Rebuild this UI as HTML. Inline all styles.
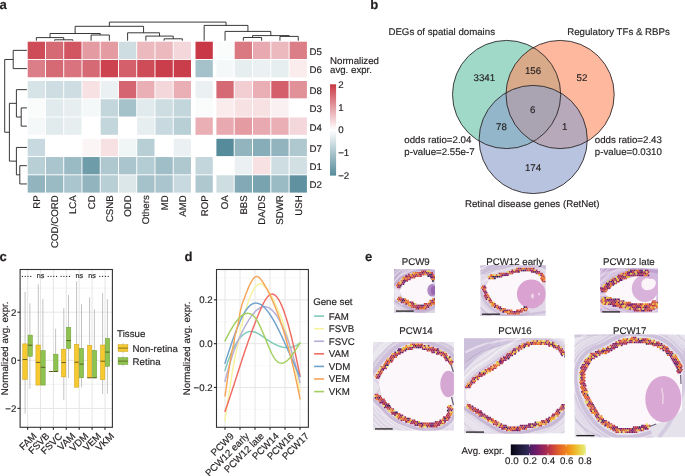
<!DOCTYPE html>
<html><head><meta charset="utf-8"><title>Figure</title>
<style>
html,body{margin:0;padding:0;background:#fff;}
body{width:685px;height:476px;overflow:hidden;}
svg{display:block;font-family:"Liberation Sans", sans-serif;will-change:transform;text-rendering:geometricPrecision;}
text{stroke:#231f20;stroke-width:0.16px;}
</style></head><body>
<svg width="685" height="476" viewBox="0 0 685 476">
<rect width="685" height="476" fill="#fff"/>
<text x="-0.6" y="9.2" font-size="13.1" text-anchor="start" font-weight="bold" fill="#231f20" >a</text>
<rect x="27.7" y="41.7" width="17.3" height="17.3" fill="#ce4c58"/>
<rect x="45.95" y="41.7" width="17.3" height="17.3" fill="#d66a74"/>
<rect x="64.2" y="41.7" width="17.3" height="17.3" fill="#d15662"/>
<rect x="82.45" y="41.7" width="17.3" height="17.3" fill="#e49ca2"/>
<rect x="100.7" y="41.7" width="17.3" height="17.3" fill="#e49ca2"/>
<rect x="118.95" y="41.7" width="17.3" height="17.3" fill="#cddde2"/>
<rect x="137.2" y="41.7" width="17.3" height="17.3" fill="#ecb9be"/>
<rect x="155.45" y="41.7" width="17.3" height="17.3" fill="#ecb9be"/>
<rect x="173.7" y="41.7" width="17.3" height="17.3" fill="#f4d7da"/>
<rect x="195.5" y="41.7" width="17.3" height="17.3" fill="#c93846"/>
<rect x="216.4" y="41.7" width="17.3" height="17.3" fill="#fafcfc"/>
<rect x="234.7" y="41.7" width="17.3" height="17.3" fill="#db7982"/>
<rect x="253" y="41.7" width="17.3" height="17.3" fill="#e8aab0"/>
<rect x="271.3" y="41.7" width="17.3" height="17.3" fill="#ecb9be"/>
<rect x="289.6" y="41.7" width="17.3" height="17.3" fill="#dc7e87"/>
<rect x="27.7" y="59.95" width="17.3" height="17.3" fill="#dc7e87"/>
<rect x="45.95" y="59.95" width="17.3" height="17.3" fill="#d66a74"/>
<rect x="64.2" y="59.95" width="17.3" height="17.3" fill="#d9747e"/>
<rect x="82.45" y="59.95" width="17.3" height="17.3" fill="#d66a74"/>
<rect x="100.7" y="59.95" width="17.3" height="17.3" fill="#cc424f"/>
<rect x="118.95" y="59.95" width="17.3" height="17.3" fill="#d4606b"/>
<rect x="137.2" y="59.95" width="17.3" height="17.3" fill="#ce4c58"/>
<rect x="155.45" y="59.95" width="17.3" height="17.3" fill="#ca3d4b"/>
<rect x="173.7" y="59.95" width="17.3" height="17.3" fill="#ca3d4b"/>
<rect x="195.5" y="59.95" width="17.3" height="17.3" fill="#a5c1ca"/>
<rect x="216.4" y="59.95" width="17.3" height="17.3" fill="#f5f8f9"/>
<rect x="234.7" y="59.95" width="17.3" height="17.3" fill="#e6eef0"/>
<rect x="253" y="59.95" width="17.3" height="17.3" fill="#ebf1f3"/>
<rect x="271.3" y="59.95" width="17.3" height="17.3" fill="#e6eef0"/>
<rect x="289.6" y="59.95" width="17.3" height="17.3" fill="#faebec"/>
<rect x="27.7" y="81" width="17.3" height="17.3" fill="#d7e4e7"/>
<rect x="45.95" y="81" width="17.3" height="17.3" fill="#cddde2"/>
<rect x="64.2" y="81" width="17.3" height="17.3" fill="#cddde2"/>
<rect x="82.45" y="81" width="17.3" height="17.3" fill="#f7e1e3"/>
<rect x="100.7" y="81" width="17.3" height="17.3" fill="#ebf1f3"/>
<rect x="118.95" y="81" width="17.3" height="17.3" fill="#d56570"/>
<rect x="137.2" y="81" width="17.3" height="17.3" fill="#e9afb5"/>
<rect x="155.45" y="81" width="17.3" height="17.3" fill="#f4d7da"/>
<rect x="173.7" y="81" width="17.3" height="17.3" fill="#e9afb5"/>
<rect x="195.5" y="81" width="17.3" height="17.3" fill="#ebf1f3"/>
<rect x="216.4" y="81" width="17.3" height="17.3" fill="#d66a74"/>
<rect x="234.7" y="81" width="17.3" height="17.3" fill="#f2cdd1"/>
<rect x="253" y="81" width="17.3" height="17.3" fill="#e9afb5"/>
<rect x="271.3" y="81" width="17.3" height="17.3" fill="#d4606b"/>
<rect x="289.6" y="81" width="17.3" height="17.3" fill="#e19299"/>
<rect x="27.7" y="99.25" width="17.3" height="17.3" fill="#fafcfc"/>
<rect x="45.95" y="99.25" width="17.3" height="17.3" fill="#e1eaed"/>
<rect x="64.2" y="99.25" width="17.3" height="17.3" fill="#e6eef0"/>
<rect x="82.45" y="99.25" width="17.3" height="17.3" fill="#f5f8f9"/>
<rect x="100.7" y="99.25" width="17.3" height="17.3" fill="#c3d6dc"/>
<rect x="118.95" y="99.25" width="17.3" height="17.3" fill="#a5c1ca"/>
<rect x="137.2" y="99.25" width="17.3" height="17.3" fill="#e1eaed"/>
<rect x="155.45" y="99.25" width="17.3" height="17.3" fill="#cddde2"/>
<rect x="173.7" y="99.25" width="17.3" height="17.3" fill="#c3d6dc"/>
<rect x="195.5" y="99.25" width="17.3" height="17.3" fill="#fafcfc"/>
<rect x="216.4" y="99.25" width="17.3" height="17.3" fill="#faebec"/>
<rect x="234.7" y="99.25" width="17.3" height="17.3" fill="#f7e1e3"/>
<rect x="253" y="99.25" width="17.3" height="17.3" fill="#f7e1e3"/>
<rect x="271.3" y="99.25" width="17.3" height="17.3" fill="#fbf0f1"/>
<rect x="289.6" y="99.25" width="17.3" height="17.3" fill="#ffffff"/>
<rect x="27.7" y="117.5" width="17.3" height="17.3" fill="#f5f8f9"/>
<rect x="45.95" y="117.5" width="17.3" height="17.3" fill="#e1eaed"/>
<rect x="64.2" y="117.5" width="17.3" height="17.3" fill="#e6eef0"/>
<rect x="82.45" y="117.5" width="17.3" height="17.3" fill="#ffffff"/>
<rect x="100.7" y="117.5" width="17.3" height="17.3" fill="#c3d6dc"/>
<rect x="118.95" y="117.5" width="17.3" height="17.3" fill="#ffffff"/>
<rect x="137.2" y="117.5" width="17.3" height="17.3" fill="#e6eef0"/>
<rect x="155.45" y="117.5" width="17.3" height="17.3" fill="#c8d9df"/>
<rect x="173.7" y="117.5" width="17.3" height="17.3" fill="#b9cfd6"/>
<rect x="195.5" y="117.5" width="17.3" height="17.3" fill="#e9afb5"/>
<rect x="216.4" y="117.5" width="17.3" height="17.3" fill="#e8aab0"/>
<rect x="234.7" y="117.5" width="17.3" height="17.3" fill="#e49ca2"/>
<rect x="253" y="117.5" width="17.3" height="17.3" fill="#e8aab0"/>
<rect x="271.3" y="117.5" width="17.3" height="17.3" fill="#e9afb5"/>
<rect x="289.6" y="117.5" width="17.3" height="17.3" fill="#f4d7da"/>
<rect x="27.7" y="138.8" width="17.3" height="17.3" fill="#c8d9df"/>
<rect x="45.95" y="138.8" width="17.3" height="17.3" fill="#ffffff"/>
<rect x="64.2" y="138.8" width="17.3" height="17.3" fill="#ffffff"/>
<rect x="82.45" y="138.8" width="17.3" height="17.3" fill="#fcf5f6"/>
<rect x="100.7" y="138.8" width="17.3" height="17.3" fill="#f7e1e3"/>
<rect x="118.95" y="138.8" width="17.3" height="17.3" fill="#f0f5f6"/>
<rect x="137.2" y="138.8" width="17.3" height="17.3" fill="#b9cfd6"/>
<rect x="155.45" y="138.8" width="17.3" height="17.3" fill="#ffffff"/>
<rect x="173.7" y="138.8" width="17.3" height="17.3" fill="#ebf1f3"/>
<rect x="195.5" y="138.8" width="17.3" height="17.3" fill="#ffffff"/>
<rect x="216.4" y="138.8" width="17.3" height="17.3" fill="#568b9b"/>
<rect x="234.7" y="138.8" width="17.3" height="17.3" fill="#91b4be"/>
<rect x="253" y="138.8" width="17.3" height="17.3" fill="#87adb8"/>
<rect x="271.3" y="138.8" width="17.3" height="17.3" fill="#91b4be"/>
<rect x="289.6" y="138.8" width="17.3" height="17.3" fill="#afc8d0"/>
<rect x="27.7" y="157.05" width="17.3" height="17.3" fill="#b9cfd6"/>
<rect x="45.95" y="157.05" width="17.3" height="17.3" fill="#aac5cd"/>
<rect x="64.2" y="157.05" width="17.3" height="17.3" fill="#9bbbc4"/>
<rect x="82.45" y="157.05" width="17.3" height="17.3" fill="#6e9ca9"/>
<rect x="100.7" y="157.05" width="17.3" height="17.3" fill="#afc8d0"/>
<rect x="118.95" y="157.05" width="17.3" height="17.3" fill="#aac5cd"/>
<rect x="137.2" y="157.05" width="17.3" height="17.3" fill="#b4ccd3"/>
<rect x="155.45" y="157.05" width="17.3" height="17.3" fill="#a0bec7"/>
<rect x="173.7" y="157.05" width="17.3" height="17.3" fill="#afc8d0"/>
<rect x="195.5" y="157.05" width="17.3" height="17.3" fill="#c3d6dc"/>
<rect x="216.4" y="157.05" width="17.3" height="17.3" fill="#ffffff"/>
<rect x="234.7" y="157.05" width="17.3" height="17.3" fill="#ebf1f3"/>
<rect x="253" y="157.05" width="17.3" height="17.3" fill="#f7e1e3"/>
<rect x="271.3" y="157.05" width="17.3" height="17.3" fill="#cddde2"/>
<rect x="289.6" y="157.05" width="17.3" height="17.3" fill="#d2e0e4"/>
<rect x="27.7" y="175.3" width="17.3" height="17.3" fill="#91b4be"/>
<rect x="45.95" y="175.3" width="17.3" height="17.3" fill="#9bbbc4"/>
<rect x="64.2" y="175.3" width="17.3" height="17.3" fill="#aac5cd"/>
<rect x="82.45" y="175.3" width="17.3" height="17.3" fill="#91b4be"/>
<rect x="100.7" y="175.3" width="17.3" height="17.3" fill="#b9cfd6"/>
<rect x="118.95" y="175.3" width="17.3" height="17.3" fill="#dce7ea"/>
<rect x="137.2" y="175.3" width="17.3" height="17.3" fill="#a5c1ca"/>
<rect x="155.45" y="175.3" width="17.3" height="17.3" fill="#aac5cd"/>
<rect x="173.7" y="175.3" width="17.3" height="17.3" fill="#c8d9df"/>
<rect x="195.5" y="175.3" width="17.3" height="17.3" fill="#afc8d0"/>
<rect x="216.4" y="175.3" width="17.3" height="17.3" fill="#cddde2"/>
<rect x="234.7" y="175.3" width="17.3" height="17.3" fill="#82a9b5"/>
<rect x="253" y="175.3" width="17.3" height="17.3" fill="#78a3af"/>
<rect x="271.3" y="175.3" width="17.3" height="17.3" fill="#9bbbc4"/>
<rect x="289.6" y="175.3" width="17.3" height="17.3" fill="#5f91a1"/>
<text x="309.4" y="54.75" font-size="9.7" text-anchor="start" font-weight="normal" fill="#231f20" >D5</text>
<text x="309.4" y="73" font-size="9.7" text-anchor="start" font-weight="normal" fill="#231f20" >D6</text>
<text x="309.4" y="94.05" font-size="9.7" text-anchor="start" font-weight="normal" fill="#231f20" >D8</text>
<text x="309.4" y="112.3" font-size="9.7" text-anchor="start" font-weight="normal" fill="#231f20" >D3</text>
<text x="309.4" y="130.55" font-size="9.7" text-anchor="start" font-weight="normal" fill="#231f20" >D4</text>
<text x="309.4" y="151.85" font-size="9.7" text-anchor="start" font-weight="normal" fill="#231f20" >D7</text>
<text x="309.4" y="170.1" font-size="9.7" text-anchor="start" font-weight="normal" fill="#231f20" >D1</text>
<text x="309.4" y="188.35" font-size="9.7" text-anchor="start" font-weight="normal" fill="#231f20" >D2</text>
<text transform="translate(39.75,195.2) rotate(-90)" x="0" y="0" font-size="9.7" text-anchor="end" fill="#231f20">RP</text>
<text transform="translate(58,195.2) rotate(-90)" x="0" y="0" font-size="9.7" text-anchor="end" fill="#231f20">COD/CORD</text>
<text transform="translate(76.25,195.2) rotate(-90)" x="0" y="0" font-size="9.7" text-anchor="end" fill="#231f20">LCA</text>
<text transform="translate(94.5,195.2) rotate(-90)" x="0" y="0" font-size="9.7" text-anchor="end" fill="#231f20">CD</text>
<text transform="translate(112.75,195.2) rotate(-90)" x="0" y="0" font-size="9.7" text-anchor="end" fill="#231f20">CSNB</text>
<text transform="translate(131,195.2) rotate(-90)" x="0" y="0" font-size="9.7" text-anchor="end" fill="#231f20">ODD</text>
<text transform="translate(149.25,195.2) rotate(-90)" x="0" y="0" font-size="9.7" text-anchor="end" fill="#231f20">Others</text>
<text transform="translate(167.5,195.2) rotate(-90)" x="0" y="0" font-size="9.7" text-anchor="end" fill="#231f20">MD</text>
<text transform="translate(185.75,195.2) rotate(-90)" x="0" y="0" font-size="9.7" text-anchor="end" fill="#231f20">AMD</text>
<text transform="translate(207.55,195.2) rotate(-90)" x="0" y="0" font-size="9.7" text-anchor="end" fill="#231f20">ROP</text>
<text transform="translate(228.45,195.2) rotate(-90)" x="0" y="0" font-size="9.7" text-anchor="end" fill="#231f20">OA</text>
<text transform="translate(246.75,195.2) rotate(-90)" x="0" y="0" font-size="9.7" text-anchor="end" fill="#231f20">BBS</text>
<text transform="translate(265.05,195.2) rotate(-90)" x="0" y="0" font-size="9.7" text-anchor="end" fill="#231f20">DA/DS</text>
<text transform="translate(283.35,195.2) rotate(-90)" x="0" y="0" font-size="9.7" text-anchor="end" fill="#231f20">SDWR</text>
<text transform="translate(301.65,195.2) rotate(-90)" x="0" y="0" font-size="9.7" text-anchor="end" fill="#231f20">USH</text>
<path d="M54.6 40.7V39.8H72.85V40.7 M36.35 40.7V37.6H63.73V39.8 M91.1 40.7V35H109.35V40.7 M50.04 37.6V33.5H100.23V35 M164.1 40.7V38.8H182.35V40.7 M145.85 40.7V36.1H173.22V38.8 M127.6 40.7V32.8H159.54V36.1 M75.13 33.5V26.3H143.57V32.8 M243.35 40.7V37.5H261.65V40.7 M279.95 40.7V36.4H298.25V40.7 M252.5 37.5V35.6H289.1V36.4 M225.05 40.7V31.4H270.8V35.6 M204.15 40.7V25.4H247.93V31.4 M109.35 26.3V22.1H226.04V25.4 M26.9 50.35H13.2V68.6H26.9 M26.9 107.9H21.2V126.15H26.9 M26.9 89.65H16.4V117.03H21.2 M26.9 165.7H19.8V183.95H26.9 M26.9 147.45H16.4V174.83H19.8 M16.4 103.34H9.4V161.14H16.4 M13.2 59.48H4.7V132.24H9.4" fill="none" stroke="#222" stroke-width="0.9"/>
<text x="330" y="64.2" font-size="9.7" text-anchor="start" font-weight="normal" fill="#231f20" >Normalized</text>
<text x="330" y="72.9" font-size="9.7" text-anchor="start" font-weight="normal" fill="#231f20" >avg. expr.</text>
<defs><linearGradient id="hmcb" x1="0" y1="0" x2="0" y2="1"><stop offset="0.000" stop-color="#c93846"/><stop offset="0.050" stop-color="#ce4c58"/><stop offset="0.100" stop-color="#d4606b"/><stop offset="0.150" stop-color="#d9747e"/><stop offset="0.200" stop-color="#df8890"/><stop offset="0.250" stop-color="#e49ca2"/><stop offset="0.300" stop-color="#e9afb5"/><stop offset="0.350" stop-color="#efc3c8"/><stop offset="0.400" stop-color="#f4d7da"/><stop offset="0.450" stop-color="#faebec"/><stop offset="0.500" stop-color="#ffffff"/><stop offset="0.550" stop-color="#eef3f5"/><stop offset="0.600" stop-color="#dde8eb"/><stop offset="0.650" stop-color="#ccdce1"/><stop offset="0.700" stop-color="#bbd1d7"/><stop offset="0.750" stop-color="#aac5cd"/><stop offset="0.800" stop-color="#9ab9c3"/><stop offset="0.850" stop-color="#89aeb9"/><stop offset="0.900" stop-color="#78a2af"/><stop offset="0.950" stop-color="#6797a5"/><stop offset="1.000" stop-color="#568b9b"/></linearGradient></defs>
<rect x="330" y="84.3" width="6.1" height="91.3" fill="url(#hmcb)"/>
<text x="338.2" y="87.74" font-size="9.7" text-anchor="start" font-weight="normal" fill="#231f20" >2</text>
<text x="338.2" y="110.57" font-size="9.7" text-anchor="start" font-weight="normal" fill="#231f20" >1</text>
<text x="338.2" y="133.4" font-size="9.7" text-anchor="start" font-weight="normal" fill="#231f20" >0</text>
<text x="338.2" y="156.23" font-size="9.7" text-anchor="start" font-weight="normal" fill="#231f20" >−1</text>
<text x="338.2" y="179.06" font-size="9.7" text-anchor="start" font-weight="normal" fill="#231f20" >−2</text>
<text x="370.2" y="9" font-size="13.1" text-anchor="start" font-weight="bold" fill="#231f20" >b</text>
<text x="388.4" y="35.2" font-size="9.7" text-anchor="start" font-weight="normal" fill="#231f20" >DEGs of spatial domains</text>
<text x="567.2" y="35.2" font-size="9.7" text-anchor="start" font-weight="normal" fill="#231f20" >Regulatory TFs &amp; RBPs</text>
<g opacity="1">
<circle cx="506.6" cy="94.5" r="54.1" fill="#66c2a5" fill-opacity="0.62"/>
<circle cx="560.1" cy="94.5" r="54.1" fill="#fc8d62" fill-opacity="0.62"/>
<circle cx="533.2" cy="139.5" r="54.1" fill="#8da0cb" fill-opacity="0.62"/>
</g>
<circle cx="506.6" cy="94.5" r="54.1" fill="none" stroke="#231f20" stroke-width="0.85"/>
<circle cx="560.1" cy="94.5" r="54.1" fill="none" stroke="#231f20" stroke-width="0.85"/>
<circle cx="533.2" cy="139.5" r="54.1" fill="none" stroke="#231f20" stroke-width="0.85"/>
<text x="484.3" y="81.3" font-size="9.7" text-anchor="middle" font-weight="normal" fill="#231f20" >3341</text>
<text x="533" y="73.9" font-size="9.7" text-anchor="middle" font-weight="normal" fill="#231f20" >156</text>
<text x="582" y="81.3" font-size="9.7" text-anchor="middle" font-weight="normal" fill="#231f20" >52</text>
<text x="532.6" y="112.7" font-size="9.7" text-anchor="middle" font-weight="normal" fill="#231f20" >6</text>
<text x="501.4" y="129.8" font-size="9.7" text-anchor="middle" font-weight="normal" fill="#231f20" >78</text>
<text x="564.8" y="129.8" font-size="9.7" text-anchor="middle" font-weight="normal" fill="#231f20" >1</text>
<text x="533" y="170.7" font-size="9.7" text-anchor="middle" font-weight="normal" fill="#231f20" >174</text>
<text x="404.3" y="143.1" font-size="9.7" text-anchor="start" font-weight="normal" fill="#231f20" >odds ratio=2.04</text>
<text x="404.3" y="154.6" font-size="9.7" text-anchor="start" font-weight="normal" fill="#231f20" >p-value=2.55e-7</text>
<text x="594.8" y="143.1" font-size="9.7" text-anchor="start" font-weight="normal" fill="#231f20" >odds ratio=2.43</text>
<text x="594.8" y="154.6" font-size="9.7" text-anchor="start" font-weight="normal" fill="#231f20" >p-value=0.0310</text>
<text x="464.9" y="206.7" font-size="9.7" text-anchor="start" font-weight="normal" fill="#231f20" >Retinal disease genes (RetNet)</text>
<text x="-0.6" y="261.2" font-size="13.1" text-anchor="start" font-weight="bold" fill="#231f20" >c</text>
<line x1="20.1" x2="112.4" y1="384.35" y2="384.35" stroke="#ebebeb" stroke-width="0.6"/><line x1="20.1" x2="112.4" y1="336.25" y2="336.25" stroke="#ebebeb" stroke-width="0.6"/><line x1="20.1" x2="112.4" y1="288.15" y2="288.15" stroke="#ebebeb" stroke-width="0.6"/><line x1="20.1" x2="112.4" y1="408.4" y2="408.4" stroke="#e6e6e6" stroke-width="1"/><line x1="20.1" x2="112.4" y1="360.3" y2="360.3" stroke="#e6e6e6" stroke-width="1"/><line x1="20.1" x2="112.4" y1="312.2" y2="312.2" stroke="#e6e6e6" stroke-width="1"/><line x1="27.6" x2="27.6" y1="269.5" y2="427.3" stroke="#e6e6e6" stroke-width="1"/><line x1="40.5" x2="40.5" y1="269.5" y2="427.3" stroke="#e6e6e6" stroke-width="1"/><line x1="53.4" x2="53.4" y1="269.5" y2="427.3" stroke="#e6e6e6" stroke-width="1"/><line x1="66.3" x2="66.3" y1="269.5" y2="427.3" stroke="#e6e6e6" stroke-width="1"/><line x1="79.2" x2="79.2" y1="269.5" y2="427.3" stroke="#e6e6e6" stroke-width="1"/><line x1="92.1" x2="92.1" y1="269.5" y2="427.3" stroke="#e6e6e6" stroke-width="1"/><line x1="105" x2="105" y1="269.5" y2="427.3" stroke="#e6e6e6" stroke-width="1"/>
<line x1="25.1" x2="25.1" y1="292.0" y2="413.7" stroke="#9a9a9a" stroke-width="0.6"/>
<line x1="29.9" x2="29.9" y1="303.3" y2="388.8" stroke="#9a9a9a" stroke-width="0.6"/>
<line x1="38.3" x2="38.3" y1="284.4" y2="385.1" stroke="#9a9a9a" stroke-width="0.6"/>
<line x1="42.9" x2="42.9" y1="299.1" y2="385.1" stroke="#9a9a9a" stroke-width="0.6"/>
<line x1="55.6" x2="55.6" y1="328.8" y2="371.5" stroke="#9a9a9a" stroke-width="0.6"/>
<line x1="63.8" x2="63.8" y1="308.0" y2="400.2" stroke="#9a9a9a" stroke-width="0.6"/>
<line x1="68.5" x2="68.5" y1="295.0" y2="378.0" stroke="#9a9a9a" stroke-width="0.6"/>
<line x1="76.6" x2="76.6" y1="281.2" y2="387.2" stroke="#9a9a9a" stroke-width="0.6"/>
<line x1="81.5" x2="81.5" y1="304.3" y2="387.3" stroke="#9a9a9a" stroke-width="0.6"/>
<line x1="89.6" x2="89.6" y1="297.3" y2="377.8" stroke="#9a9a9a" stroke-width="0.6"/>
<line x1="94.4" x2="94.4" y1="309.2" y2="377.8" stroke="#9a9a9a" stroke-width="0.6"/>
<line x1="102.6" x2="102.6" y1="293.1" y2="394.0" stroke="#9a9a9a" stroke-width="0.6"/>
<line x1="107.4" x2="107.4" y1="299.1" y2="393.7" stroke="#9a9a9a" stroke-width="0.6"/>
<rect x="22.7" y="343.9" width="4.6" height="35.5" fill="#f5c92f" stroke="#c9a21c" stroke-width="0.5"/>
<line x1="22.7" x2="27.3" y1="359.5" y2="359.5" stroke="#55501e" stroke-width="0.9"/>
<rect x="28.0" y="335.1" width="4.4" height="21.2" fill="#8fc34f" stroke="#6b9a36" stroke-width="0.5"/>
<line x1="28.0" x2="32.4" y1="345.2" y2="345.2" stroke="#55501e" stroke-width="0.9"/>
<rect x="35.9" y="345.0" width="4.5" height="40.1" fill="#f5c92f" stroke="#c9a21c" stroke-width="0.5"/>
<line x1="35.9" x2="40.4" y1="362.4" y2="362.4" stroke="#55501e" stroke-width="0.9"/>
<rect x="40.8" y="350.6" width="4.4" height="34.5" fill="#8fc34f" stroke="#6b9a36" stroke-width="0.5"/>
<line x1="40.8" x2="45.2" y1="367.3" y2="367.3" stroke="#55501e" stroke-width="0.9"/>
<rect x="49.0" y="371.3" width="4.2" height="0.4" fill="#f5c92f" stroke="#c9a21c" stroke-width="0.5"/>
<line x1="49.0" x2="53.2" y1="371.5" y2="371.5" stroke="#55501e" stroke-width="0.9"/>
<rect x="53.6" y="354.2" width="4.4" height="17.3" fill="#8fc34f" stroke="#6b9a36" stroke-width="0.5"/>
<line x1="53.6" x2="58.0" y1="371.5" y2="371.5" stroke="#55501e" stroke-width="0.9"/>
<rect x="61.4" y="349.2" width="4.4" height="27.7" fill="#f5c92f" stroke="#c9a21c" stroke-width="0.5"/>
<line x1="61.4" x2="65.8" y1="362.6" y2="362.6" stroke="#55501e" stroke-width="0.9"/>
<rect x="66.4" y="327.3" width="4.4" height="21" fill="#8fc34f" stroke="#6b9a36" stroke-width="0.5"/>
<line x1="66.4" x2="70.8" y1="340.6" y2="340.6" stroke="#55501e" stroke-width="0.9"/>
<rect x="74.4" y="344.3" width="4.4" height="42.9" fill="#f5c92f" stroke="#c9a21c" stroke-width="0.5"/>
<line x1="74.4" x2="78.8" y1="362.2" y2="362.2" stroke="#55501e" stroke-width="0.9"/>
<rect x="79.4" y="348.3" width="4.2" height="29.5" fill="#8fc34f" stroke="#6b9a36" stroke-width="0.5"/>
<line x1="79.4" x2="83.6" y1="364.1" y2="364.1" stroke="#55501e" stroke-width="0.9"/>
<rect x="87.4" y="345.4" width="4.4" height="32.4" fill="#f5c92f" stroke="#c9a21c" stroke-width="0.5"/>
<line x1="87.4" x2="91.8" y1="377.8" y2="377.8" stroke="#55501e" stroke-width="0.9"/>
<rect x="92.5" y="350.4" width="4.2" height="27.4" fill="#8fc34f" stroke="#6b9a36" stroke-width="0.5"/>
<line x1="92.5" x2="96.7" y1="377.8" y2="377.8" stroke="#55501e" stroke-width="0.9"/>
<rect x="100.5" y="345.0" width="4.4" height="34.7" fill="#f5c92f" stroke="#c9a21c" stroke-width="0.5"/>
<line x1="100.5" x2="104.9" y1="361.2" y2="361.2" stroke="#55501e" stroke-width="0.9"/>
<rect x="105.3" y="338.5" width="4.4" height="27.9" fill="#8fc34f" stroke="#6b9a36" stroke-width="0.5"/>
<line x1="105.3" x2="109.7" y1="352.1" y2="352.1" stroke="#55501e" stroke-width="0.9"/>
<rect x="20.1" y="269.5" width="92.3" height="157.8" fill="none" stroke="#333" stroke-width="1.1"/>
<line x1="17.5" x2="20.1" y1="312.2" y2="312.2" stroke="#333" stroke-width="1.2"/>
<text x="16.3" y="315.65" font-size="9.7" text-anchor="end" font-weight="normal" fill="#231f20" >2</text>
<line x1="17.5" x2="20.1" y1="360.3" y2="360.3" stroke="#333" stroke-width="1.2"/>
<text x="16.3" y="363.75" font-size="9.7" text-anchor="end" font-weight="normal" fill="#231f20" >0</text>
<line x1="17.5" x2="20.1" y1="408.4" y2="408.4" stroke="#333" stroke-width="1.2"/>
<text x="16.3" y="411.85" font-size="9.7" text-anchor="end" font-weight="normal" fill="#231f20" >−2</text>
<line x1="27.6" x2="27.6" y1="427.3" y2="429.7" stroke="#333" stroke-width="1.2"/>
<line x1="40.5" x2="40.5" y1="427.3" y2="429.7" stroke="#333" stroke-width="1.2"/>
<line x1="53.4" x2="53.4" y1="427.3" y2="429.7" stroke="#333" stroke-width="1.2"/>
<line x1="66.3" x2="66.3" y1="427.3" y2="429.7" stroke="#333" stroke-width="1.2"/>
<line x1="79.2" x2="79.2" y1="427.3" y2="429.7" stroke="#333" stroke-width="1.2"/>
<line x1="92.1" x2="92.1" y1="427.3" y2="429.7" stroke="#333" stroke-width="1.2"/>
<line x1="105" x2="105" y1="427.3" y2="429.7" stroke="#333" stroke-width="1.2"/>
<text transform="translate(32.3,431.8) rotate(-45)" font-size="9.7" text-anchor="end" fill="#231f20" dy="0.72em">FAM</text>
<text transform="translate(45.2,431.8) rotate(-45)" font-size="9.7" text-anchor="end" fill="#231f20" dy="0.72em">FSVB</text>
<text transform="translate(58.1,431.8) rotate(-45)" font-size="9.7" text-anchor="end" fill="#231f20" dy="0.72em">FSVC</text>
<text transform="translate(71,431.8) rotate(-45)" font-size="9.7" text-anchor="end" fill="#231f20" dy="0.72em">VAM</text>
<text transform="translate(83.9,431.8) rotate(-45)" font-size="9.7" text-anchor="end" fill="#231f20" dy="0.72em">VDM</text>
<text transform="translate(96.8,431.8) rotate(-45)" font-size="9.7" text-anchor="end" fill="#231f20" dy="0.72em">VEM</text>
<text transform="translate(109.7,431.8) rotate(-45)" font-size="9.7" text-anchor="end" fill="#231f20" dy="0.72em">VKM</text>
<text transform="translate(8.0,348.4) rotate(-90)" font-size="9.7" text-anchor="middle" fill="#231f20">Normalized avg. expr.</text>
<circle cx="22.4" cy="276.4" r="0.62" fill="#231f20"/>
<circle cx="25.2" cy="276.4" r="0.62" fill="#231f20"/>
<circle cx="28" cy="276.4" r="0.62" fill="#231f20"/>
<circle cx="30.8" cy="276.4" r="0.62" fill="#231f20"/>
<text x="40.5" y="277.8" font-size="7.2" text-anchor="middle" font-weight="normal" fill="#231f20" >ns</text>
<circle cx="48.2" cy="276.4" r="0.62" fill="#231f20"/>
<circle cx="51" cy="276.4" r="0.62" fill="#231f20"/>
<circle cx="53.8" cy="276.4" r="0.62" fill="#231f20"/>
<circle cx="56.6" cy="276.4" r="0.62" fill="#231f20"/>
<circle cx="61.1" cy="276.4" r="0.62" fill="#231f20"/>
<circle cx="63.9" cy="276.4" r="0.62" fill="#231f20"/>
<circle cx="66.7" cy="276.4" r="0.62" fill="#231f20"/>
<circle cx="69.5" cy="276.4" r="0.62" fill="#231f20"/>
<text x="79.2" y="277.8" font-size="7.2" text-anchor="middle" font-weight="normal" fill="#231f20" >ns</text>
<text x="92.1" y="277.8" font-size="7.2" text-anchor="middle" font-weight="normal" fill="#231f20" >ns</text>
<circle cx="99.8" cy="276.4" r="0.62" fill="#231f20"/>
<circle cx="102.6" cy="276.4" r="0.62" fill="#231f20"/>
<circle cx="105.4" cy="276.4" r="0.62" fill="#231f20"/>
<circle cx="108.2" cy="276.4" r="0.62" fill="#231f20"/>
<text x="117.1" y="336.8" font-size="9.7" text-anchor="start" font-weight="normal" fill="#231f20" >Tissue</text>
<line x1="123" x2="123" y1="342.7" y2="353.5" stroke="#9a9a9a" stroke-width="0.5"/>
<rect x="118.1" y="344.7" width="9.8" height="6.8" fill="#f5c92f" stroke="#c9a21c" stroke-width="0.5"/>
<line x1="118.1" x2="127.9" y1="348.09999999999997" y2="348.09999999999997" stroke="#55501e" stroke-width="0.7"/>
<text x="132.6" y="351.5" font-size="9.7" text-anchor="start" font-weight="normal" fill="#231f20" >Non-retina</text>
<line x1="123" x2="123" y1="355.7" y2="366.5" stroke="#9a9a9a" stroke-width="0.5"/>
<rect x="118.1" y="357.7" width="9.8" height="6.8" fill="#8fc34f" stroke="#6b9a36" stroke-width="0.5"/>
<line x1="118.1" x2="127.9" y1="361.09999999999997" y2="361.09999999999997" stroke="#55501e" stroke-width="0.7"/>
<text x="132.6" y="364.5" font-size="9.7" text-anchor="start" font-weight="normal" fill="#231f20" >Retina</text>
<text x="184.5" y="261.3" font-size="13.1" text-anchor="start" font-weight="bold" fill="#231f20" >d</text>
<line x1="216.5" x2="308.4" y1="409.35" y2="409.35" stroke="#f2f2f2" stroke-width="0.5"/><line x1="216.5" x2="308.4" y1="365.55" y2="365.55" stroke="#f2f2f2" stroke-width="0.5"/><line x1="216.5" x2="308.4" y1="321.75" y2="321.75" stroke="#f2f2f2" stroke-width="0.5"/><line x1="216.5" x2="308.4" y1="277.95" y2="277.95" stroke="#f2f2f2" stroke-width="0.5"/><line x1="216.5" x2="308.4" y1="387.45" y2="387.45" stroke="#e6e6e6" stroke-width="1"/><line x1="216.5" x2="308.4" y1="343.65" y2="343.65" stroke="#e6e6e6" stroke-width="1"/><line x1="216.5" x2="308.4" y1="299.85" y2="299.85" stroke="#e6e6e6" stroke-width="1"/><line x1="225" x2="225" y1="269.5" y2="427.3" stroke="#e6e6e6" stroke-width="1"/><line x1="240" x2="240" y1="269.5" y2="427.3" stroke="#e6e6e6" stroke-width="1"/><line x1="255" x2="255" y1="269.5" y2="427.3" stroke="#e6e6e6" stroke-width="1"/><line x1="270" x2="270" y1="269.5" y2="427.3" stroke="#e6e6e6" stroke-width="1"/><line x1="285" x2="285" y1="269.5" y2="427.3" stroke="#e6e6e6" stroke-width="1"/><line x1="300" x2="300" y1="269.5" y2="427.3" stroke="#e6e6e6" stroke-width="1"/>
<defs><clipPath id="dclip"><rect x="216.5" y="269.2" width="92" height="158.2"/></clipPath></defs>
<g clip-path="url(#dclip)" fill="none" stroke-width="1.45" stroke-linecap="round">
<path d="M225.00 370.54 L225.75 368.08 L226.50 365.73 L227.25 363.47 L228.00 361.31 L228.75 359.24 L229.50 357.26 L230.25 355.38 L231.00 353.58 L231.75 351.86 L232.50 350.23 L233.25 348.68 L234.00 347.20 L234.75 345.81 L235.50 344.48 L236.25 343.23 L237.00 342.05 L237.75 340.94 L238.50 339.89 L239.25 338.90 L240.00 337.98 L240.75 337.11 L241.50 336.31 L242.25 335.56 L243.00 334.88 L243.75 334.26 L244.50 333.70 L245.25 333.20 L246.00 332.76 L246.75 332.38 L247.50 332.07 L248.25 331.81 L249.00 331.62 L249.75 331.50 L250.50 331.43 L251.25 331.42 L252.00 331.48 L252.75 331.58 L253.50 331.74 L254.25 331.94 L255.00 332.19 L255.75 332.48 L256.50 332.81 L257.25 333.17 L258.00 333.56 L258.75 333.99 L259.50 334.43 L260.25 334.90 L261.00 335.38 L261.75 335.88 L262.50 336.40 L263.25 336.92 L264.00 337.44 L264.75 337.97 L265.50 338.49 L266.25 339.01 L267.00 339.53 L267.75 340.03 L268.50 340.53 L269.25 341.01 L270.00 341.48 L270.75 341.94 L271.50 342.39 L272.25 342.82 L273.00 343.24 L273.75 343.65 L274.50 344.04 L275.25 344.41 L276.00 344.77 L276.75 345.11 L277.50 345.43 L278.25 345.74 L279.00 346.02 L279.75 346.28 L280.50 346.52 L281.25 346.74 L282.00 346.94 L282.75 347.12 L283.50 347.27 L284.25 347.39 L285.00 347.49 L285.75 347.57 L286.50 347.62 L287.25 347.64 L288.00 347.63 L288.75 347.60 L289.50 347.53 L290.25 347.44 L291.00 347.32 L291.75 347.16 L292.50 346.97 L293.25 346.75 L294.00 346.49 L294.75 346.20 L295.50 345.88 L296.25 345.52 L297.00 345.12 L297.75 344.69 L298.50 344.22 L299.25 343.71 L300.00 343.16" stroke="#7fcab9" stroke-linejoin="round"/>
<path d="M225.00 420.40 L225.75 415.21 L226.50 410.03 L227.25 404.87 L228.00 399.76 L228.75 394.71 L229.50 389.74 L230.25 384.87 L231.00 380.11 L231.75 375.49 L232.50 371.02 L233.25 366.72 L234.00 362.60 L234.75 358.69 L235.50 355.00 L236.25 351.55 L237.00 348.36 L237.75 345.44 L238.50 342.44 L239.25 338.28 L240.00 333.50 L240.75 325.79 L241.50 325.35 L242.25 325.44 L243.00 318.93 L243.75 315.59 L244.50 313.81 L245.25 311.51 L246.00 309.00 L246.75 306.55 L247.50 304.20 L248.25 301.97 L249.00 299.85 L249.75 297.85 L250.50 295.97 L251.25 294.22 L252.00 292.59 L252.75 291.09 L253.50 289.72 L254.25 288.48 L255.00 287.38 L255.75 286.43 L256.50 285.61 L257.25 284.94 L258.00 284.42 L258.75 284.05 L259.50 283.84 L260.25 283.78 L261.00 283.87 L261.75 284.11 L262.50 284.49 L263.25 284.99 L264.00 285.61 L264.75 286.34 L265.50 287.17 L266.25 288.09 L267.00 289.10 L267.75 290.17 L268.50 291.31 L269.25 292.51 L270.00 293.75 L270.75 295.03 L271.50 296.35 L272.25 297.70 L273.00 299.10 L273.75 300.55 L274.50 302.04 L275.25 303.57 L276.00 305.16 L276.75 306.79 L277.50 308.48 L278.25 310.22 L279.00 312.02 L279.75 313.87 L280.50 315.78 L281.25 317.75 L282.00 319.78 L282.75 321.88 L283.50 324.04 L284.25 326.27 L285.00 328.56 L285.75 330.93 L286.50 333.37 L287.25 335.88 L288.00 338.47 L288.75 341.13 L289.50 343.87 L290.25 346.69 L291.00 349.60 L291.75 352.58 L292.50 355.65 L293.25 358.81 L294.00 362.06 L294.75 365.40 L295.50 368.82 L296.25 372.35 L297.00 375.96 L297.75 379.68 L298.50 383.49 L299.25 387.40 L300.00 391.41" stroke="#f7f29e" stroke-linejoin="round"/>
<path d="M225.00 381.29 L225.75 378.31 L226.50 375.42 L227.25 372.62 L228.00 369.91 L228.75 367.29 L229.50 364.75 L230.25 362.29 L231.00 359.92 L231.75 357.61 L232.50 355.38 L233.25 353.22 L234.00 351.12 L234.75 349.09 L235.50 347.12 L236.25 345.20 L237.00 343.34 L237.75 341.53 L238.50 339.77 L239.25 338.06 L240.00 336.39 L240.75 334.77 L241.50 333.19 L242.25 331.66 L243.00 330.17 L243.75 328.72 L244.50 327.32 L245.25 325.95 L246.00 324.63 L246.75 323.35 L247.50 322.10 L248.25 320.89 L249.00 319.72 L249.75 318.59 L250.50 317.49 L251.25 316.44 L252.00 315.43 L252.75 314.46 L253.50 313.54 L254.25 312.67 L255.00 311.85 L255.75 311.08 L256.50 310.37 L257.25 309.71 L258.00 309.11 L258.75 308.57 L259.50 308.10 L260.25 307.69 L261.00 307.34 L261.75 307.06 L262.50 306.85 L263.25 306.71 L264.00 306.64 L264.75 306.64 L265.50 306.70 L266.25 306.84 L267.00 307.04 L267.75 307.31 L268.50 307.65 L269.25 308.06 L270.00 308.54 L270.75 309.08 L271.50 309.69 L272.25 310.37 L273.00 311.12 L273.75 311.94 L274.50 312.82 L275.25 313.78 L276.00 314.79 L276.75 315.88 L277.50 317.04 L278.25 318.26 L279.00 319.55 L279.75 320.90 L280.50 322.33 L281.25 323.82 L282.00 325.37 L282.75 327.00 L283.50 328.69 L284.25 330.45 L285.00 332.27 L285.75 334.16 L286.50 336.12 L287.25 338.14 L288.00 340.23 L288.75 342.39 L289.50 344.61 L290.25 346.90 L291.00 349.26 L291.75 351.68 L292.50 354.16 L293.25 356.72 L294.00 359.34 L294.75 362.02 L295.50 364.77 L296.25 367.58 L297.00 370.47 L297.75 373.41 L298.50 376.42 L299.25 379.50 L300.00 382.64" stroke="#b4aed8" stroke-linejoin="round"/>
<path d="M225.00 411.31 L225.75 409.22 L226.50 407.10 L227.25 404.95 L228.00 402.78 L228.75 400.58 L229.50 398.36 L230.25 396.12 L231.00 393.85 L231.75 391.57 L232.50 389.28 L233.25 386.98 L234.00 384.66 L234.75 382.34 L235.50 380.00 L236.25 377.67 L237.00 375.33 L237.75 372.99 L238.50 370.66 L239.25 368.33 L240.00 366.00 L240.75 363.68 L241.50 361.37 L242.25 359.08 L243.00 356.79 L243.75 354.53 L244.50 352.28 L245.25 350.05 L246.00 347.85 L246.75 345.66 L247.50 343.51 L248.25 341.38 L249.00 339.28 L249.75 337.20 L250.50 335.14 L251.25 333.10 L252.00 331.08 L252.75 329.07 L253.50 327.08 L254.25 325.11 L255.00 323.14 L255.75 321.20 L256.50 319.27 L257.25 317.36 L258.00 315.49 L258.75 313.65 L259.50 311.84 L260.25 310.09 L261.00 308.38 L261.75 306.74 L262.50 305.17 L263.25 303.67 L264.00 302.25 L264.75 300.92 L265.50 299.69 L266.25 298.56 L267.00 297.54 L267.75 296.64 L268.50 295.86 L269.25 295.21 L270.00 294.71 L270.75 294.35 L271.50 294.14 L272.25 294.09 L273.00 294.19 L273.75 294.44 L274.50 294.84 L275.25 295.39 L276.00 296.08 L276.75 296.90 L277.50 297.86 L278.25 298.96 L279.00 300.19 L279.75 301.54 L280.50 303.02 L281.25 304.62 L282.00 306.35 L282.75 308.18 L283.50 310.13 L284.25 312.20 L285.00 314.37 L285.75 316.64 L286.50 319.02 L287.25 321.49 L288.00 324.07 L288.75 326.73 L289.50 329.49 L290.25 332.33 L291.00 335.26 L291.75 338.27 L292.50 341.37 L293.25 344.53 L294.00 347.77 L294.75 351.09 L295.50 354.47 L296.25 357.91 L297.00 361.42 L297.75 364.98 L298.50 368.61 L299.25 372.28 L300.00 376.01" stroke="#ef6c62" stroke-linejoin="round"/>
<path d="M225.00 363.34 L225.75 360.98 L226.50 358.63 L227.25 356.30 L228.00 353.99 L228.75 351.70 L229.50 349.43 L230.25 347.18 L231.00 344.97 L231.75 342.78 L232.50 340.63 L233.25 338.51 L234.00 336.43 L234.75 334.38 L235.50 332.39 L236.25 330.43 L237.00 328.53 L237.75 326.67 L238.50 324.87 L239.25 323.12 L240.00 321.43 L240.75 319.80 L241.50 318.23 L242.25 316.72 L243.00 315.29 L243.75 313.92 L244.50 312.62 L245.25 311.40 L246.00 310.26 L246.75 309.20 L247.50 308.22 L248.25 307.32 L249.00 306.51 L249.75 305.79 L250.50 305.16 L251.25 304.61 L252.00 304.15 L252.75 303.78 L253.50 303.48 L254.25 303.27 L255.00 303.14 L255.75 303.08 L256.50 303.10 L257.25 303.20 L258.00 303.36 L258.75 303.60 L259.50 303.90 L260.25 304.28 L261.00 304.72 L261.75 305.22 L262.50 305.78 L263.25 306.41 L264.00 307.09 L264.75 307.83 L265.50 308.63 L266.25 309.48 L267.00 310.39 L267.75 311.34 L268.50 312.34 L269.25 313.39 L270.00 314.49 L270.75 315.63 L271.50 316.81 L272.25 318.04 L273.00 319.30 L273.75 320.60 L274.50 321.93 L275.25 323.30 L276.00 324.71 L276.75 326.14 L277.50 327.60 L278.25 329.09 L279.00 330.60 L279.75 332.14 L280.50 333.70 L281.25 335.28 L282.00 336.88 L282.75 338.50 L283.50 340.14 L284.25 341.78 L285.00 343.44 L285.75 345.12 L286.50 346.80 L287.25 348.48 L288.00 350.18 L288.75 351.87 L289.50 353.57 L290.25 355.27 L291.00 356.97 L291.75 358.67 L292.50 360.36 L293.25 362.05 L294.00 363.73 L294.75 365.40 L295.50 367.06 L296.25 368.70 L297.00 370.34 L297.75 371.95 L298.50 373.55 L299.25 375.13 L300.00 376.69" stroke="#6fa2cc" stroke-linejoin="round"/>
<path d="M225.00 395.90 L225.75 391.04 L226.50 385.99 L227.25 380.83 L228.00 375.65 L228.75 370.54 L229.50 365.58 L230.25 360.86 L231.00 356.48 L231.75 352.50 L232.50 349.02 L233.25 345.90 L234.00 342.49 L234.75 336.67 L235.50 333.58 L236.25 332.32 L237.00 327.77 L237.75 325.74 L238.50 322.26 L239.25 317.54 L240.00 312.86 L240.75 309.11 L241.50 306.19 L242.25 303.83 L243.00 301.76 L243.75 299.75 L244.50 297.74 L245.25 295.73 L246.00 293.76 L246.75 291.82 L247.50 289.94 L248.25 288.12 L249.00 286.39 L249.75 284.75 L250.50 283.22 L251.25 281.80 L252.00 280.53 L252.75 279.40 L253.50 278.43 L254.25 277.65 L255.00 277.05 L255.75 276.65 L256.50 276.47 L257.25 276.52 L258.00 276.79 L258.75 277.26 L259.50 277.90 L260.25 278.69 L261.00 279.61 L261.75 280.64 L262.50 281.74 L263.25 282.91 L264.00 284.11 L264.75 285.35 L265.50 286.63 L266.25 287.94 L267.00 289.30 L267.75 290.70 L268.50 292.15 L269.25 293.63 L270.00 295.16 L270.75 296.73 L271.50 298.34 L272.25 300.00 L273.00 301.71 L273.75 303.46 L274.50 305.26 L275.25 307.10 L276.00 309.00 L276.75 310.94 L277.50 312.93 L278.25 314.97 L279.00 317.06 L279.75 319.21 L280.50 321.40 L281.25 323.65 L282.00 325.95 L282.75 328.30 L283.50 330.71 L284.25 333.17 L285.00 335.69 L285.75 338.27 L286.50 340.90 L287.25 343.59 L288.00 346.33 L288.75 349.14 L289.50 352.01 L290.25 354.93 L291.00 357.92 L291.75 360.97 L292.50 364.08 L293.25 367.25 L294.00 370.48 L294.75 373.78 L295.50 377.15 L296.25 380.58 L297.00 384.07 L297.75 387.63 L298.50 391.26 L299.25 394.95 L300.00 398.72" stroke="#f6a557" stroke-linejoin="round"/>
<path d="M225.00 340.92 L225.75 339.42 L226.50 337.94 L227.25 336.48 L228.00 335.05 L228.75 333.64 L229.50 332.26 L230.25 330.92 L231.00 329.61 L231.75 328.33 L232.50 327.09 L233.25 325.89 L234.00 324.73 L234.75 323.61 L235.50 322.54 L236.25 321.52 L237.00 320.55 L237.75 319.63 L238.50 318.76 L239.25 317.95 L240.00 317.20 L240.75 316.51 L241.50 315.88 L242.25 315.31 L243.00 314.82 L243.75 314.38 L244.50 314.03 L245.25 313.74 L246.00 313.53 L246.75 313.39 L247.50 313.33 L248.25 313.36 L249.00 313.46 L249.75 313.66 L250.50 313.93 L251.25 314.30 L252.00 314.76 L252.75 315.32 L253.50 315.98 L254.25 316.74 L255.00 317.60 L255.75 318.57 L256.50 319.65 L257.25 320.84 L258.00 322.14 L258.75 323.54 L259.50 325.03 L260.25 326.59 L261.00 328.23 L261.75 329.93 L262.50 331.68 L263.25 333.47 L264.00 335.29 L264.75 337.14 L265.50 338.99 L266.25 340.85 L267.00 342.70 L267.75 344.53 L268.50 346.32 L269.25 348.08 L270.00 349.78 L270.75 351.42 L271.50 352.99 L272.25 354.47 L273.00 355.86 L273.75 357.14 L274.50 358.31 L275.25 359.36 L276.00 360.27 L276.75 361.05 L277.50 361.70 L278.25 362.23 L279.00 362.64 L279.75 362.93 L280.50 363.12 L281.25 363.20 L282.00 363.18 L282.75 363.05 L283.50 362.84 L284.25 362.54 L285.00 362.15 L285.75 361.68 L286.50 361.13 L287.25 360.51 L288.00 359.82 L288.75 359.07 L289.50 358.26 L290.25 357.39 L291.00 356.47 L291.75 355.50 L292.50 354.49 L293.25 353.44 L294.00 352.35 L294.75 351.23 L295.50 350.09 L296.25 348.92 L297.00 347.73 L297.75 346.53 L298.50 345.32 L299.25 344.11 L300.00 342.89" stroke="#a2d05e" stroke-linejoin="round"/>
</g>
<rect x="216.5" y="269.5" width="91.9" height="157.8" fill="none" stroke="#333" stroke-width="1.1"/>
<line x1="213.9" x2="216.5" y1="299.85" y2="299.85" stroke="#333" stroke-width="1.2"/>
<text x="212.7" y="303.3" font-size="9.7" text-anchor="end" font-weight="normal" fill="#231f20" >0.2</text>
<line x1="213.9" x2="216.5" y1="343.65" y2="343.65" stroke="#333" stroke-width="1.2"/>
<text x="212.7" y="347.1" font-size="9.7" text-anchor="end" font-weight="normal" fill="#231f20" >0.0</text>
<line x1="213.9" x2="216.5" y1="387.45" y2="387.45" stroke="#333" stroke-width="1.2"/>
<text x="212.7" y="390.9" font-size="9.7" text-anchor="end" font-weight="normal" fill="#231f20" >−0.2</text>
<line x1="225" x2="225" y1="427.3" y2="429.7" stroke="#333" stroke-width="1.2"/>
<text transform="translate(229.7,431.8) rotate(-45)" font-size="9.7" text-anchor="end" fill="#231f20" dy="0.72em">PCW9</text>
<line x1="240" x2="240" y1="427.3" y2="429.7" stroke="#333" stroke-width="1.2"/>
<text transform="translate(244.7,431.8) rotate(-45)" font-size="9.7" text-anchor="end" fill="#231f20" dy="0.72em">PCW12 early</text>
<line x1="255" x2="255" y1="427.3" y2="429.7" stroke="#333" stroke-width="1.2"/>
<text transform="translate(259.7,431.8) rotate(-45)" font-size="9.7" text-anchor="end" fill="#231f20" dy="0.72em">PCW12 late</text>
<line x1="270" x2="270" y1="427.3" y2="429.7" stroke="#333" stroke-width="1.2"/>
<text transform="translate(274.7,431.8) rotate(-45)" font-size="9.7" text-anchor="end" fill="#231f20" dy="0.72em">PCW14</text>
<line x1="285" x2="285" y1="427.3" y2="429.7" stroke="#333" stroke-width="1.2"/>
<text transform="translate(289.7,431.8) rotate(-45)" font-size="9.7" text-anchor="end" fill="#231f20" dy="0.72em">PCW16</text>
<line x1="300" x2="300" y1="427.3" y2="429.7" stroke="#333" stroke-width="1.2"/>
<text transform="translate(304.7,431.8) rotate(-45)" font-size="9.7" text-anchor="end" fill="#231f20" dy="0.72em">PCW17</text>
<text transform="translate(189.5,348.4) rotate(-90)" font-size="9.7" text-anchor="middle" fill="#231f20">Normalized avg. expr.</text>
<text x="313.2" y="305" font-size="9.7" text-anchor="start" font-weight="normal" fill="#231f20" >Gene set</text>
<line x1="314.1" x2="324.1" y1="316.1" y2="316.1" stroke="#7fcab9" stroke-width="1.6"/>
<text x="328.8" y="319.55" font-size="9.7" text-anchor="start" font-weight="normal" fill="#231f20" >FAM</text>
<line x1="314.1" x2="324.1" y1="328.68" y2="328.68" stroke="#f7f29e" stroke-width="1.6"/>
<text x="328.8" y="332.13" font-size="9.7" text-anchor="start" font-weight="normal" fill="#231f20" >FSVB</text>
<line x1="314.1" x2="324.1" y1="341.26" y2="341.26" stroke="#b4aed8" stroke-width="1.6"/>
<text x="328.8" y="344.71" font-size="9.7" text-anchor="start" font-weight="normal" fill="#231f20" >FSVC</text>
<line x1="314.1" x2="324.1" y1="353.84" y2="353.84" stroke="#ef6c62" stroke-width="1.6"/>
<text x="328.8" y="357.29" font-size="9.7" text-anchor="start" font-weight="normal" fill="#231f20" >VAM</text>
<line x1="314.1" x2="324.1" y1="366.42" y2="366.42" stroke="#6fa2cc" stroke-width="1.6"/>
<text x="328.8" y="369.87" font-size="9.7" text-anchor="start" font-weight="normal" fill="#231f20" >VDM</text>
<line x1="314.1" x2="324.1" y1="379" y2="379" stroke="#f6a557" stroke-width="1.6"/>
<text x="328.8" y="382.45" font-size="9.7" text-anchor="start" font-weight="normal" fill="#231f20" >VEM</text>
<line x1="314.1" x2="324.1" y1="391.58" y2="391.58" stroke="#a2d05e" stroke-width="1.6"/>
<text x="328.8" y="395.03" font-size="9.7" text-anchor="start" font-weight="normal" fill="#231f20" >VKM</text>
<text x="365" y="261.3" font-size="13.1" text-anchor="start" font-weight="bold" fill="#231f20" >e</text>
<defs><clipPath id="tc9"><rect x="394" y="269" width="41" height="43.9"/></clipPath></defs>
<g clip-path="url(#tc9)">
<rect x="394" y="269" width="41" height="43.9" fill="#ddd4e4"/>
<path d="M394.75 284.03 L400.53 277.36 L408.16 272.59 L415.97 270.11 L423.68 269.32 L429.64 269.26 L434.47 271.31 L437.08 275.92" fill="none" stroke="#b99fcc" stroke-width="3" stroke-opacity="0.7" stroke-linecap="round"/>
<path d="M396.16 301.47 L401.84 304.4 L408.21 307.84 L415.98 310.89 L423.65 311.19 L429.76 309.57 L434.71 306.35 L437.21 302.69" fill="none" stroke="#b99fcc" stroke-width="3" stroke-opacity="0.7" stroke-linecap="round"/>
<path d="M394 269 L404 269 L394 280 Z" fill="#a98fc0" fill-opacity="0.6"/>
<path d="M395 292 Q398 286 402 282" fill="none" stroke="#efe8f3" stroke-width="3" stroke-opacity="0.8" stroke-linecap="round"/>
<path d="M395 296 Q398 300 402 304" fill="none" stroke="#efe8f3" stroke-width="2.5" stroke-opacity="0.8" stroke-linecap="round"/>
<path d="M395 290 L401 291 L399 298 L395 299 Z" fill="#eee6f2" fill-opacity="0.9"/>
<path d="M393.54 283.2C394.54 282.03 397.17 278.01 399.54 276.18C401.9 274.36 405.01 273.38 407.7 272.26C410.4 271.14 413.08 270.1 415.73 269.47C418.37 268.84 421.12 268.58 423.57 268.47C426.02 268.36 428.41 268.45 430.43 268.82C432.44 269.18 434.35 269.5 435.65 270.66C436.96 271.82 437.84 274.94 438.27 275.8" fill="none" stroke="#f3f0f6" stroke-width="1.04" stroke-opacity="0.70"/>
<path d="M392 283.74C393.04 282.44 395.78 278.25 398.22 275.91C400.66 273.57 403.69 271.19 406.64 269.71C409.59 268.23 412.92 267.62 415.91 267.03C418.89 266.44 421.93 266.2 424.55 266.17C427.16 266.14 429.52 266.39 431.61 266.87C433.7 267.36 435.78 267.96 437.09 269.09C438.41 270.22 439.09 272.91 439.49 273.67" fill="none" stroke="#c2b6d2" stroke-width="1.01" stroke-opacity="0.73"/>
<path d="M389.8 282.27C390.79 280.95 393.18 276.86 395.78 274.35C398.38 271.83 402.02 268.8 405.41 267.18C408.8 265.56 412.74 265.07 416.12 264.63C419.5 264.19 422.94 264.61 425.7 264.52C428.46 264.43 430.66 263.57 432.68 264.11C434.71 264.64 436.36 266.35 437.84 267.73C439.33 269.11 440.98 271.62 441.61 272.4" fill="none" stroke="#f3f0f6" stroke-width="1.71" stroke-opacity="0.58"/>
<path d="M387.12 282.51C388.22 280.89 390.85 275.59 393.74 272.8C396.63 270.01 400.88 267.52 404.44 265.75C408 263.97 411.51 262.91 415.07 262.16C418.63 261.41 422.62 261.29 425.81 261.25C429 261.21 431.92 261.12 434.2 261.9C436.48 262.67 437.97 264.25 439.47 265.91C440.98 267.58 442.6 270.89 443.23 271.88" fill="none" stroke="#eeeaf2" stroke-width="1.66" stroke-opacity="0.51"/>
<path d="M383.77 281.43C385.08 279.69 388.32 274.18 391.6 271C394.88 267.82 399.5 264.38 403.48 262.35C407.46 260.31 411.54 259.34 415.49 258.8C419.44 258.26 423.95 258.92 427.17 259.09C430.39 259.27 432.38 259.07 434.81 259.85C437.24 260.62 439.79 262.13 441.75 263.75C443.71 265.37 445.78 268.61 446.58 269.58" fill="none" stroke="#c2b6d2" stroke-width="0.92" stroke-opacity="0.61"/>
<path d="M381.01 280.18C382.26 278.24 384.98 271.93 388.51 268.52C392.04 265.11 397.63 261.9 402.17 259.73C406.72 257.56 411.43 256.17 415.78 255.49C420.14 254.8 424.73 255.31 428.32 255.62C431.91 255.92 434.67 256.54 437.32 257.31C439.97 258.09 442.27 258.54 444.21 260.26C446.16 261.97 448.2 266.39 448.99 267.62" fill="none" stroke="#c2b6d2" stroke-width="0.84" stroke-opacity="0.52"/>
<path d="M376.94 279.42C378.56 277.27 382.68 270.29 386.62 266.5C390.56 262.72 395.92 259.02 400.58 256.69C405.24 254.37 409.85 253.22 414.58 252.53C419.3 251.85 424.91 252.38 428.94 252.61C432.96 252.84 435.81 253.04 438.71 253.9C441.6 254.75 444.15 255.87 446.29 257.72C448.44 259.57 450.7 263.78 451.59 265" fill="none" stroke="#c2b6d2" stroke-width="0.71" stroke-opacity="0.79"/>
<path d="M395.82 301.38C396.76 302.06 399.51 304.14 401.5 305.46C403.48 306.77 405.35 308.16 407.74 309.27C410.13 310.37 413.16 311.62 415.85 312.09C418.54 312.56 421.42 312.4 423.89 312.09C426.36 311.78 428.65 311 430.65 310.23C432.64 309.46 434.71 308.6 435.85 307.48C437 306.36 437.24 304.16 437.52 303.49" fill="none" stroke="#cbbfd8" stroke-width="1.73" stroke-opacity="0.61"/>
<path d="M393.82 302.96C394.84 303.58 397.81 305.35 399.96 306.63C402.1 307.92 404.11 309.51 406.71 310.66C409.31 311.81 412.54 312.95 415.55 313.53C418.56 314.11 422.2 314.46 424.76 314.12C427.33 313.78 428.89 312.54 430.94 311.5C432.99 310.45 435.65 309.07 437.07 307.87C438.48 306.68 439.03 304.93 439.43 304.34" fill="none" stroke="#dbd3e3" stroke-width="1.70" stroke-opacity="0.51"/>
<path d="M391.68 303.86C392.78 304.66 395.98 307.03 398.26 308.61C400.55 310.18 402.44 312.1 405.38 313.3C408.33 314.5 412.66 315.19 415.94 315.8C419.22 316.42 422.28 317.16 425.04 316.98C427.8 316.79 430.13 315.93 432.5 314.71C434.88 313.49 437.78 311.17 439.31 309.65C440.83 308.14 441.28 306.29 441.68 305.61" fill="none" stroke="#f3f0f6" stroke-width="1.14" stroke-opacity="0.79"/>
<path d="M389.09 305.03C390.25 305.76 393.48 307.77 396.04 309.38C398.61 311 401.23 313.15 404.46 314.71C407.7 316.26 411.8 317.99 415.46 318.7C419.13 319.41 423.25 319.28 426.46 318.96C429.66 318.64 432.3 317.94 434.69 316.77C437.07 315.6 439.16 313.45 440.75 311.91C442.35 310.37 443.68 308.27 444.26 307.54" fill="none" stroke="#dbd3e3" stroke-width="0.79" stroke-opacity="0.55"/>
<path d="M386.16 307.34C387.5 308.06 391.44 309.85 394.23 311.66C397.01 313.47 399.41 316.43 402.86 318.19C406.3 319.95 410.77 321.66 414.87 322.21C418.98 322.76 424.07 322.15 427.48 321.5C430.9 320.85 432.82 319.62 435.37 318.33C437.92 317.03 440.92 315.44 442.77 313.73C444.63 312.01 445.87 308.99 446.49 308.04" fill="none" stroke="#dbd3e3" stroke-width="1.75" stroke-opacity="0.70"/>
<path d="M383.91 308.37C385.22 309.3 388.88 311.82 391.79 313.94C394.69 316.06 397.38 319.15 401.33 321.07C405.28 323 411.01 324.84 415.51 325.51C420.01 326.18 424.55 325.68 428.33 325.12C432.11 324.55 435.4 323.55 438.21 322.14C441.01 320.72 443.29 318.63 445.15 316.6C447.02 314.58 448.71 311.09 449.42 309.99" fill="none" stroke="#cbbfd8" stroke-width="1.43" stroke-opacity="0.62"/>
<path d="M379.91 310.41C381.31 311.53 384.98 314.88 388.33 317.11C391.69 319.35 395.51 321.94 400.03 323.81C404.55 325.69 410.63 327.58 415.47 328.36C420.31 329.14 425.05 329.13 429.08 328.48C433.1 327.82 436.47 326.1 439.63 324.44C442.78 322.79 445.91 320.58 448 318.54C450.1 316.5 451.5 313.26 452.2 312.21" fill="none" stroke="#cbbfd8" stroke-width="1.56" stroke-opacity="0.68"/>
<path d="M399.5 291 L404 283 L410 279 L418 276.5 L427 275.5 L432 278 L433 300 L428 303.5 L418 304 L409 301 L403 298Z" fill="#fcf7fb"/>
<path d="M427.4 290.3a4.6 6.3 0 1 0 9.2 0a4.6 6.3 0 1 0 -9.2 0Z" fill="#b088c2"/>
<path d="M430.9 290.5a2.6 4.2 0 1 0 5.2 0a2.6 4.2 0 1 0 -5.2 0Z" fill="#9a68b0"/>

<path d="M432.1 280.07h1.7v1.7h-1.7zM401.65 299.86h1.7v1.7h-1.7z" fill="#211e41"/>
<path d="M430.25 273.66h1.7v1.7h-1.7zM427.48 275.26h1.7v1.7h-1.7zM421.08 304.66h1.7v1.7h-1.7z" fill="#2a254f"/>
<path d="M399.73 284.87h1.7v1.7h-1.7z" fill="#42225e"/>
<path d="M421.93 272.06h1.7v1.7h-1.7zM425.63 272.06h1.7v1.7h-1.7zM429.33 275.26h1.7v1.7h-1.7zM430.25 276.86h1.7v1.7h-1.7zM402.5 280.07h1.7v1.7h-1.7zM404.35 280.07h1.7v1.7h-1.7zM402.5 283.27h1.7v1.7h-1.7zM397.88 284.87h1.7v1.7h-1.7zM402.58 298.26h1.7v1.7h-1.7zM431.25 299.86h1.7v1.7h-1.7zM412.75 303.06h1.7v1.7h-1.7zM417.38 307.87h1.7v1.7h-1.7z" fill="#5c1d66"/>
<path d="M419.15 273.66h1.7v1.7h-1.7zM428.4 273.66h1.7v1.7h-1.7zM405.28 275.26h1.7v1.7h-1.7zM414.53 275.26h1.7v1.7h-1.7zM409.9 276.86h1.7v1.7h-1.7zM432.1 276.86h1.7v1.7h-1.7zM403.43 281.67h1.7v1.7h-1.7zM434.03 298.26h1.7v1.7h-1.7zM403.5 299.86h1.7v1.7h-1.7zM400.73 301.46h1.7v1.7h-1.7zM429.4 303.06h1.7v1.7h-1.7zM422.93 304.66h1.7v1.7h-1.7zM426.63 304.66h1.7v1.7h-1.7zM416.45 306.27h1.7v1.7h-1.7zM427.55 306.27h1.7v1.7h-1.7z" fill="#721d66"/>
<path d="M427.48 272.06h1.7v1.7h-1.7zM431.18 275.26h1.7v1.7h-1.7zM398.88 298.26h1.7v1.7h-1.7zM409.98 301.46h1.7v1.7h-1.7zM405.35 303.06h1.7v1.7h-1.7z" fill="#8a2060"/>
<path d="M422.85 270.45h1.7v1.7h-1.7zM408.05 273.66h1.7v1.7h-1.7zM415.45 273.66h1.7v1.7h-1.7zM433.95 276.86h1.7v1.7h-1.7zM408.98 278.46h1.7v1.7h-1.7zM406.2 280.07h1.7v1.7h-1.7zM401.58 281.67h1.7v1.7h-1.7zM396.95 286.48h1.7v1.7h-1.7zM398.8 286.48h1.7v1.7h-1.7zM432.18 301.46h1.7v1.7h-1.7zM417.38 304.66h1.7v1.7h-1.7zM419.23 304.66h1.7v1.7h-1.7z" fill="#9d2755"/>
<path d="M424.7 270.45h1.7v1.7h-1.7zM420.08 272.06h1.7v1.7h-1.7zM431.18 272.06h1.7v1.7h-1.7zM411.75 273.66h1.7v1.7h-1.7zM426.55 273.66h1.7v1.7h-1.7zM432.1 273.66h1.7v1.7h-1.7zM407.13 275.26h1.7v1.7h-1.7zM408.98 275.26h1.7v1.7h-1.7zM412.68 275.26h1.7v1.7h-1.7zM420.08 275.26h1.7v1.7h-1.7zM403.43 278.46h1.7v1.7h-1.7zM407.13 278.46h1.7v1.7h-1.7zM400.65 283.27h1.7v1.7h-1.7zM400.73 298.26h1.7v1.7h-1.7zM410.9 303.06h1.7v1.7h-1.7zM415.53 304.66h1.7v1.7h-1.7zM412.75 306.27h1.7v1.7h-1.7zM418.3 306.27h1.7v1.7h-1.7zM420.15 306.27h1.7v1.7h-1.7zM422 306.27h1.7v1.7h-1.7z" fill="#b2304a"/>
<path d="M418.23 272.06h1.7v1.7h-1.7zM421 273.66h1.7v1.7h-1.7zM416.38 275.26h1.7v1.7h-1.7zM406.2 276.86h1.7v1.7h-1.7zM411.75 276.86h1.7v1.7h-1.7zM397.95 296.65h1.7v1.7h-1.7zM434.95 299.86h1.7v1.7h-1.7zM402.58 301.46h1.7v1.7h-1.7zM411.83 301.46h1.7v1.7h-1.7zM430.33 301.46h1.7v1.7h-1.7zM423.85 303.06h1.7v1.7h-1.7zM425.7 303.06h1.7v1.7h-1.7zM411.83 304.66h1.7v1.7h-1.7zM413.68 304.66h1.7v1.7h-1.7zM428.48 304.66h1.7v1.7h-1.7zM414.6 306.27h1.7v1.7h-1.7zM425.7 306.27h1.7v1.7h-1.7zM415.53 307.87h1.7v1.7h-1.7zM424.78 307.87h1.7v1.7h-1.7z" fill="#c53f3f"/>
<path d="M421 270.45h1.7v1.7h-1.7zM423.78 272.06h1.7v1.7h-1.7zM422.85 273.66h1.7v1.7h-1.7zM418.23 275.26h1.7v1.7h-1.7zM413.6 276.86h1.7v1.7h-1.7zM396.95 283.27h1.7v1.7h-1.7zM399.8 299.86h1.7v1.7h-1.7zM434.03 301.46h1.7v1.7h-1.7zM427.55 303.06h1.7v1.7h-1.7z" fill="#d75232"/>
<path d="M416.38 272.06h1.7v1.7h-1.7zM433.03 275.26h1.7v1.7h-1.7zM404.35 276.86h1.7v1.7h-1.7zM434.88 278.46h1.7v1.7h-1.7zM397.88 281.67h1.7v1.7h-1.7zM396.03 284.87h1.7v1.7h-1.7zM397.03 298.26h1.7v1.7h-1.7zM405.35 299.86h1.7v1.7h-1.7zM429.4 299.86h1.7v1.7h-1.7zM433.1 299.86h1.7v1.7h-1.7zM408.13 301.46h1.7v1.7h-1.7zM433.1 303.06h1.7v1.7h-1.7zM409.98 304.66h1.7v1.7h-1.7zM424.78 304.66h1.7v1.7h-1.7zM410.9 306.27h1.7v1.7h-1.7zM419.23 307.87h1.7v1.7h-1.7zM421.08 307.87h1.7v1.7h-1.7z" fill="#e26429"/>
<path d="M399.73 281.67h1.7v1.7h-1.7z" fill="#e7dd5e"/>
<path d="M414.53 272.06h1.7v1.7h-1.7zM429.33 272.06h1.7v1.7h-1.7zM413.6 273.66h1.7v1.7h-1.7zM417.3 273.66h1.7v1.7h-1.7zM410.83 275.26h1.7v1.7h-1.7zM408.05 276.86h1.7v1.7h-1.7zM405.28 278.46h1.7v1.7h-1.7zM431.18 278.46h1.7v1.7h-1.7zM433.03 278.46h1.7v1.7h-1.7zM400.65 280.07h1.7v1.7h-1.7zM398.8 283.27h1.7v1.7h-1.7zM399.8 296.65h1.7v1.7h-1.7zM404.43 298.26h1.7v1.7h-1.7zM432.18 298.26h1.7v1.7h-1.7zM397.95 299.86h1.7v1.7h-1.7zM407.2 299.86h1.7v1.7h-1.7zM404.43 301.46h1.7v1.7h-1.7zM406.28 301.46h1.7v1.7h-1.7zM407.2 303.06h1.7v1.7h-1.7zM431.25 303.06h1.7v1.7h-1.7zM430.33 304.66h1.7v1.7h-1.7zM422.93 307.87h1.7v1.7h-1.7z" fill="#ea7521"/>
<path d="M426.55 270.45h1.7v1.7h-1.7zM428.4 270.45h1.7v1.7h-1.7zM401.58 278.46h1.7v1.7h-1.7zM409.05 303.06h1.7v1.7h-1.7zM414.6 303.06h1.7v1.7h-1.7z" fill="#ebca41"/>
<path d="M402.5 276.86h1.7v1.7h-1.7zM408.13 304.66h1.7v1.7h-1.7zM423.85 306.27h1.7v1.7h-1.7z" fill="#ef881a"/>
<path d="M412.68 272.06h1.7v1.7h-1.7zM409.9 273.66h1.7v1.7h-1.7zM424.7 273.66h1.7v1.7h-1.7zM428.48 301.46h1.7v1.7h-1.7z" fill="#f0b428"/>
</g>
<line x1="396.0" x2="413.7" y1="311.1" y2="311.1" stroke="#231f20" stroke-width="1.3"/>
<defs><clipPath id="tc12"><rect x="480.3" y="265.3" width="65.5" height="50.8"/></clipPath></defs>
<g clip-path="url(#tc12)">
<rect x="480.3" y="265.3" width="65.5" height="50.8" fill="#e1d9e7"/>
<path d="M480 267 Q512 263 546 267" fill="none" stroke="#c5b2d4" stroke-width="3" stroke-opacity="0.7" stroke-linecap="round"/>
<path d="M480 274 Q490 268 505 268" fill="none" stroke="#cbbad9" stroke-width="2" stroke-opacity="0.6" stroke-linecap="round"/>
<path d="M479.23 286.73 L480.9 291.91 L483.28 297.28 L485.72 301.22 L489.56 306.03 L494.69 310.14 L501.34 313.73 L508.14 315.86 L513.82 316.6 L518.32 316.17 L522.77 314.19 L528.35 311.97" fill="none" stroke="#cdbbd9" stroke-width="2.5" stroke-opacity="0.7" stroke-linecap="round"/>
<path d="M480 315 Q512 318 546 312" fill="none" stroke="#c5b2d4" stroke-width="2.5" stroke-opacity="0.6" stroke-linecap="round"/>
<path d="M482 282 Q486 279 490 279" fill="none" stroke="#f0e9f3" stroke-width="2.5" stroke-opacity="0.8" stroke-linecap="round"/>
<path d="M484.57 274.89C485.66 274.56 488.97 273.44 491.11 272.91C493.26 272.37 495.3 272.14 497.46 271.66C499.62 271.18 501.61 270.75 504.07 270.03C506.54 269.32 510.29 267.94 512.26 267.39C514.22 266.83 514.07 267.14 515.89 266.7C517.71 266.25 520.89 264.92 523.18 264.73C525.48 264.55 527.41 265.34 529.67 265.58C531.92 265.83 534.45 265.6 536.7 266.22C538.94 266.85 541.5 268.3 543.12 269.34C544.73 270.37 545.61 271.35 546.39 272.42C547.17 273.49 547.41 274.76 547.8 275.74C548.19 276.72 548.58 277.86 548.73 278.29" fill="none" stroke="#eeeaf2" stroke-width="1.24" stroke-opacity="0.51"/>
<path d="M483.82 273.94C484.88 273.65 488.05 272.98 490.17 272.2C492.3 271.43 494.34 270 496.54 269.3C498.74 268.6 500.72 268.69 503.35 268C505.98 267.3 510.14 265.72 512.31 265.12C514.48 264.52 514.59 264.79 516.39 264.42C518.18 264.05 520.7 262.99 523.07 262.9C525.44 262.81 528.11 263.48 530.58 263.88C533.06 264.27 535.63 264.54 537.94 265.26C540.26 265.98 542.87 267.1 544.47 268.18C546.06 269.26 546.76 270.59 547.51 271.73C548.25 272.86 548.62 273.99 548.95 274.98C549.27 275.97 549.38 277.2 549.46 277.64" fill="none" stroke="#cbbfd8" stroke-width="1.66" stroke-opacity="0.76"/>
<path d="M481.39 273.19C482.49 272.71 485.75 271.19 487.98 270.29C490.21 269.39 492.34 268.55 494.77 267.8C497.19 267.05 499.85 266.75 502.55 265.79C505.25 264.82 508.64 262.7 510.99 262.01C513.34 261.32 514.48 261.91 516.65 261.64C518.82 261.38 521.46 260.58 524 260.42C526.53 260.26 529.23 260.08 531.84 260.68C534.46 261.28 537.2 262.91 539.7 264C542.19 265.08 545.13 266.21 546.8 267.2C548.46 268.18 548.89 268.74 549.68 269.92C550.47 271.11 551.01 273.23 551.53 274.31C552.06 275.38 552.6 276.04 552.81 276.39" fill="none" stroke="#c2b6d2" stroke-width="1.53" stroke-opacity="0.68"/>
<path d="M478.44 271.36C479.74 271 483.82 270.14 486.26 269.22C488.69 268.31 490.5 266.97 493.05 265.89C495.59 264.82 498.4 263.78 501.51 262.78C504.61 261.78 509.13 260.51 511.68 259.87C514.22 259.22 514.5 259.26 516.77 258.9C519.03 258.54 522.5 257.76 525.26 257.72C528.03 257.69 530.76 258.12 533.37 258.7C535.97 259.29 538.34 260.09 540.9 261.23C543.45 262.37 546.77 264.27 548.7 265.53C550.63 266.79 551.64 267.44 552.48 268.78C553.32 270.11 553.42 272.24 553.75 273.54C554.08 274.83 554.34 276.06 554.46 276.56" fill="none" stroke="#c2b6d2" stroke-width="1.73" stroke-opacity="0.75"/>
<path d="M475.77 270.77C477.05 270.22 480.91 268.71 483.47 267.46C486.02 266.22 488.29 264.56 491.11 263.31C493.92 262.06 497.17 261 500.37 259.97C503.57 258.94 507.7 257.8 510.29 257.11C512.88 256.42 513.24 256.24 515.89 255.86C518.54 255.48 522.95 254.68 526.17 254.84C529.4 254.99 532.52 255.99 535.25 256.8C537.99 257.6 539.97 258.47 542.59 259.65C545.21 260.84 548.92 262.61 550.98 263.9C553.03 265.19 553.9 266.15 554.9 267.41C555.9 268.67 556.52 270.23 556.97 271.46C557.42 272.7 557.49 274.25 557.6 274.81" fill="none" stroke="#f3f0f6" stroke-width="1.37" stroke-opacity="0.68"/>
<path d="M473.08 269.26C474.28 268.6 477.72 266.74 480.27 265.34C482.83 263.94 485.3 262.28 488.42 260.86C491.55 259.44 495.39 258.14 499.03 256.81C502.66 255.49 507.36 253.69 510.22 252.9C513.07 252.11 513.42 252.18 516.17 252.08C518.93 251.98 523.32 252.1 526.75 252.28C530.17 252.45 533.64 252.36 536.72 253.14C539.81 253.92 542.44 255.58 545.26 256.97C548.09 258.35 551.63 259.89 553.68 261.43C555.73 262.97 556.53 264.74 557.53 266.22C558.54 267.7 559.15 268.99 559.71 270.31C560.27 271.63 560.7 273.5 560.9 274.14" fill="none" stroke="#dbd3e3" stroke-width="1.50" stroke-opacity="0.69"/>
<path d="M470.33 267.37C471.63 266.58 475.37 264.09 478.1 262.67C480.83 261.26 483.47 260.27 486.73 258.87C489.98 257.48 493.69 255.87 497.64 254.3C501.58 252.74 507.17 250.41 510.38 249.49C513.59 248.57 514 249.01 516.88 248.8C519.77 248.6 524.23 248.09 527.7 248.27C531.17 248.45 534.34 248.87 537.73 249.86C541.11 250.85 544.8 252.6 548 254.2C551.2 255.81 554.84 257.84 556.94 259.49C559.04 261.14 559.65 262.47 560.57 264.09C561.5 265.7 561.85 267.85 562.48 269.18C563.11 270.5 564.04 271.57 564.35 272.05" fill="none" stroke="#c2b6d2" stroke-width="1.51" stroke-opacity="0.75"/>
<path d="M478.12 286.94C478.41 287.78 479.14 290.11 479.87 291.95C480.59 293.8 481.66 296.35 482.48 298.04C483.29 299.72 483.67 300.55 484.77 302.05C485.86 303.56 487.56 305.63 489.05 307.05C490.55 308.47 491.81 309.33 493.73 310.57C495.66 311.81 498.29 313.42 500.6 314.46C502.91 315.5 505.41 316.34 507.57 316.81C509.72 317.29 511.62 317.27 513.51 317.31C515.4 317.35 517.35 317.49 518.93 317.07C520.51 316.65 521.23 315.41 522.97 314.78C524.7 314.16 528.28 313.56 529.34 313.31" fill="none" stroke="#c2b6d2" stroke-width="1.32" stroke-opacity="0.54"/>
<path d="M475.88 285.82C476.14 286.9 476.75 290.24 477.46 292.34C478.16 294.45 479.2 296.87 480.11 298.44C481.02 300 481.8 300.17 482.92 301.76C484.04 303.35 485.28 306.31 486.82 307.96C488.37 309.61 490.08 310.2 492.21 311.69C494.33 313.18 497.11 315.73 499.55 316.89C501.99 318.06 504.41 318.14 506.84 318.67C509.27 319.21 512.06 319.93 514.12 320.1C516.18 320.27 517.58 320.2 519.19 319.67C520.81 319.15 522 317.81 523.82 316.96C525.63 316.1 529.05 314.95 530.1 314.55" fill="none" stroke="#dbd3e3" stroke-width="1.12" stroke-opacity="0.66"/>
<path d="M474.31 286.11C474.38 287.15 474.08 290.28 474.76 292.34C475.44 294.4 477.52 296.76 478.39 298.47C479.26 300.17 478.86 300.83 480 302.55C481.13 304.28 483.38 306.99 485.18 308.82C486.98 310.65 488.6 311.97 490.82 313.52C493.04 315.07 495.84 316.9 498.52 318.12C501.2 319.33 504.35 320.06 506.9 320.81C509.45 321.55 511.87 322.44 513.82 322.57C515.78 322.7 516.75 322.13 518.63 321.6C520.52 321.07 523.03 320.33 525.13 319.41C527.23 318.5 530.22 316.66 531.24 316.11" fill="none" stroke="#eeeaf2" stroke-width="1.52" stroke-opacity="0.60"/>
<path d="M470.85 286.13C471.18 287.05 472.01 289.53 472.84 291.64C473.67 293.76 474.97 296.72 475.83 298.84C476.69 300.96 476.83 302.46 478.02 304.37C479.21 306.27 481.11 308.42 482.97 310.25C484.83 312.08 486.87 313.62 489.17 315.35C491.46 317.09 494.01 319.23 496.76 320.67C499.51 322.12 502.85 323.41 505.66 324.04C508.47 324.66 511.31 324.32 513.62 324.41C515.94 324.51 517.5 325.08 519.54 324.59C521.59 324.11 523.73 322.43 525.91 321.52C528.1 320.6 531.54 319.51 532.66 319.11" fill="none" stroke="#c2b6d2" stroke-width="1.15" stroke-opacity="0.71"/>
<path d="M467.66 284.83C468.02 286.11 468.96 290.02 469.84 292.5C470.72 294.98 472.03 297.68 472.93 299.7C473.83 301.73 474 302.65 475.23 304.66C476.46 306.68 478.37 309.57 480.31 311.79C482.26 314.01 484.41 316.04 486.9 318C489.39 319.97 492.21 322.26 495.26 323.58C498.32 324.9 502.15 325.2 505.21 325.91C508.26 326.62 511.16 327.65 513.61 327.85C516.06 328.04 517.84 327.66 519.89 327.09C521.94 326.52 523.49 325.48 525.92 324.43C528.35 323.38 533.06 321.4 534.49 320.79" fill="none" stroke="#dbd3e3" stroke-width="1.57" stroke-opacity="0.55"/>
<path d="M464.88 284.57C465.08 285.76 465.32 289.22 466.06 291.74C466.79 294.27 468.26 297.43 469.29 299.73C470.33 302.03 470.94 303.28 472.27 305.56C473.59 307.84 475.24 310.97 477.24 313.41C479.24 315.85 481.56 318.09 484.25 320.22C486.94 322.35 490 324.69 493.4 326.2C496.8 327.71 501.35 328.43 504.64 329.28C507.93 330.13 510.54 331.14 513.13 331.3C515.73 331.45 517.89 330.76 520.19 330.21C522.5 329.65 524.28 328.87 526.98 327.97C529.67 327.08 534.78 325.36 536.34 324.84" fill="none" stroke="#c2b6d2" stroke-width="1.71" stroke-opacity="0.79"/>
<path d="M461.04 284.64C461.29 285.89 461.82 289.42 462.54 292.17C463.25 294.92 464.25 298.6 465.33 301.13C466.4 303.65 467.49 304.98 468.99 307.32C470.49 309.66 472.25 312.71 474.33 315.17C476.42 317.64 478.5 319.79 481.52 322.11C484.54 324.44 488.81 327.33 492.44 329.11C496.07 330.9 499.93 332 503.31 332.84C506.7 333.68 509.86 334.01 512.76 334.16C515.66 334.32 518.05 334.36 520.71 333.79C523.36 333.22 525.87 331.78 528.69 330.73C531.52 329.69 536.16 328.07 537.66 327.54" fill="none" stroke="#cbbfd8" stroke-width="0.94" stroke-opacity="0.62"/>
<path d="M486 286 L489 280 L496 278.5 L506 276.5 L515 273 L527 271.5 L537 273.5 L542 279 L543 296 L540 306 L530 308.5 L518 311 L508 310.5 L498 307 L491 301 L486.5 293Z" fill="#fcf7fb"/>
<path d="M516.9 294a14.4 14.4 0 1 0 28.8 0a14.4 14.4 0 1 0 -28.8 0Z" fill="#daa2d1"/>
<path d="M531.2 296a1.3 2.6 0 1 0 2.6 0a1.3 2.6 0 1 0 -2.6 0Z" fill="#f0dcee"/>
<path d="M538 294a1 1.6 0 1 0 2 0a1 1.6 0 1 0 -2 0Z" fill="#ecd2ea"/>

<path d="M496.78 275.86h1.7v1.7h-1.7z" fill="#191632"/>
<path d="M493.08 275.86h1.7v1.7h-1.7z" fill="#211e41"/>
<path d="M522.68 269.46h1.7v1.7h-1.7zM494 277.47h1.7v1.7h-1.7zM523.58 306.28h1.7v1.7h-1.7zM500.45 307.88h1.7v1.7h-1.7z" fill="#2a254f"/>
<path d="M524.53 269.46h1.7v1.7h-1.7zM518.05 271.06h1.7v1.7h-1.7zM532.85 271.06h1.7v1.7h-1.7zM534.7 271.06h1.7v1.7h-1.7zM501.4 274.26h1.7v1.7h-1.7zM498.63 275.86h1.7v1.7h-1.7zM502.3 311.09h1.7v1.7h-1.7zM513.4 311.09h1.7v1.7h-1.7z" fill="#5c1d66"/>
<path d="M520.83 269.46h1.7v1.7h-1.7zM536.55 271.06h1.7v1.7h-1.7zM506.03 272.66h1.7v1.7h-1.7zM503.25 274.26h1.7v1.7h-1.7zM505.1 274.26h1.7v1.7h-1.7zM491.23 275.86h1.7v1.7h-1.7zM494.93 275.86h1.7v1.7h-1.7zM483.8 285.45h1.7v1.7h-1.7zM485.65 291.86h1.7v1.7h-1.7zM486.58 296.67h1.7v1.7h-1.7zM494.9 304.68h1.7v1.7h-1.7zM493.98 306.28h1.7v1.7h-1.7zM505.08 309.49h1.7v1.7h-1.7z" fill="#721d66"/>
<path d="M519.9 267.85h1.7v1.7h-1.7zM525.45 267.85h1.7v1.7h-1.7zM517.13 269.46h1.7v1.7h-1.7zM530.08 269.46h1.7v1.7h-1.7zM510.65 271.06h1.7v1.7h-1.7zM512.5 271.06h1.7v1.7h-1.7zM506.95 274.26h1.7v1.7h-1.7zM540.25 274.26h1.7v1.7h-1.7zM497.68 306.28h1.7v1.7h-1.7zM498.6 307.88h1.7v1.7h-1.7zM503.23 309.49h1.7v1.7h-1.7zM515.25 311.09h1.7v1.7h-1.7zM518.95 311.09h1.7v1.7h-1.7z" fill="#8a2060"/>
<path d="M518.05 267.85h1.7v1.7h-1.7zM532.85 267.85h1.7v1.7h-1.7zM514.35 271.06h1.7v1.7h-1.7zM531 271.06h1.7v1.7h-1.7zM538.4 271.06h1.7v1.7h-1.7zM498.63 272.66h1.7v1.7h-1.7zM488.45 277.47h1.7v1.7h-1.7zM481.95 288.66h1.7v1.7h-1.7zM484.73 290.26h1.7v1.7h-1.7zM483.8 291.86h1.7v1.7h-1.7zM484.73 293.46h1.7v1.7h-1.7zM484.73 296.67h1.7v1.7h-1.7zM485.65 298.27h1.7v1.7h-1.7zM488.43 299.87h1.7v1.7h-1.7zM493.98 303.08h1.7v1.7h-1.7zM499.53 306.28h1.7v1.7h-1.7zM525.43 306.28h1.7v1.7h-1.7zM506.93 309.49h1.7v1.7h-1.7zM519.88 309.49h1.7v1.7h-1.7zM509.7 311.09h1.7v1.7h-1.7zM517.1 311.09h1.7v1.7h-1.7z" fill="#9d2755"/>
<path d="M529.15 267.85h1.7v1.7h-1.7zM511.58 269.46h1.7v1.7h-1.7zM515.28 269.46h1.7v1.7h-1.7zM531.93 269.46h1.7v1.7h-1.7zM535.63 269.46h1.7v1.7h-1.7zM504.18 272.66h1.7v1.7h-1.7zM535.63 272.66h1.7v1.7h-1.7zM541.18 272.66h1.7v1.7h-1.7zM500.48 275.86h1.7v1.7h-1.7zM543.95 280.67h1.7v1.7h-1.7zM482.88 287.06h1.7v1.7h-1.7zM484.73 287.06h1.7v1.7h-1.7zM482.88 290.26h1.7v1.7h-1.7zM483.8 295.07h1.7v1.7h-1.7zM485.65 295.07h1.7v1.7h-1.7zM489.35 298.27h1.7v1.7h-1.7zM490.28 299.87h1.7v1.7h-1.7zM522.65 307.88h1.7v1.7h-1.7zM523.58 309.49h1.7v1.7h-1.7zM511.55 311.09h1.7v1.7h-1.7zM514.33 312.69h1.7v1.7h-1.7z" fill="#b2304a"/>
<path d="M526.38 269.46h1.7v1.7h-1.7zM508.8 271.06h1.7v1.7h-1.7zM516.2 271.06h1.7v1.7h-1.7zM511.58 272.66h1.7v1.7h-1.7zM537.48 272.66h1.7v1.7h-1.7zM539.33 272.66h1.7v1.7h-1.7zM543.03 275.86h1.7v1.7h-1.7zM541.18 279.07h1.7v1.7h-1.7zM542.1 280.67h1.7v1.7h-1.7zM508.78 309.49h1.7v1.7h-1.7zM516.18 309.49h1.7v1.7h-1.7zM512.48 312.69h1.7v1.7h-1.7z" fill="#c53f3f"/>
<path d="M528.23 269.46h1.7v1.7h-1.7zM500.48 272.66h1.7v1.7h-1.7zM502.33 272.66h1.7v1.7h-1.7zM507.88 272.66h1.7v1.7h-1.7zM495.85 274.26h1.7v1.7h-1.7zM481.95 285.45h1.7v1.7h-1.7zM488.43 296.67h1.7v1.7h-1.7zM489.35 301.48h1.7v1.7h-1.7zM491.2 301.48h1.7v1.7h-1.7zM496.75 304.68h1.7v1.7h-1.7zM502.3 307.88h1.7v1.7h-1.7zM520.8 307.88h1.7v1.7h-1.7zM499.53 309.49h1.7v1.7h-1.7zM525.43 309.49h1.7v1.7h-1.7zM520.8 311.09h1.7v1.7h-1.7zM506.93 312.69h1.7v1.7h-1.7zM508.78 312.69h1.7v1.7h-1.7z" fill="#d75232"/>
<path d="M523.6 267.85h1.7v1.7h-1.7zM527.3 267.85h1.7v1.7h-1.7zM531 267.85h1.7v1.7h-1.7zM509.73 272.66h1.7v1.7h-1.7zM490.3 274.26h1.7v1.7h-1.7zM499.55 274.26h1.7v1.7h-1.7zM542.1 274.26h1.7v1.7h-1.7zM541.18 275.86h1.7v1.7h-1.7zM492.15 277.47h1.7v1.7h-1.7zM540.25 277.47h1.7v1.7h-1.7zM487.5 295.07h1.7v1.7h-1.7zM496.75 307.88h1.7v1.7h-1.7zM526.35 307.88h1.7v1.7h-1.7zM518.03 309.49h1.7v1.7h-1.7zM521.73 309.49h1.7v1.7h-1.7zM504.15 311.09h1.7v1.7h-1.7zM510.63 312.69h1.7v1.7h-1.7zM518.03 312.69h1.7v1.7h-1.7z" fill="#e26429"/>
<path d="M506.95 271.06h1.7v1.7h-1.7zM494 274.26h1.7v1.7h-1.7zM497.7 274.26h1.7v1.7h-1.7zM493.05 301.48h1.7v1.7h-1.7z" fill="#e7dd5e"/>
<path d="M516.2 267.85h1.7v1.7h-1.7zM518.98 269.46h1.7v1.7h-1.7zM489.38 275.86h1.7v1.7h-1.7zM542.1 277.47h1.7v1.7h-1.7zM543.95 277.47h1.7v1.7h-1.7zM543.03 279.07h1.7v1.7h-1.7zM483.8 288.66h1.7v1.7h-1.7zM486.58 293.46h1.7v1.7h-1.7zM492.13 303.08h1.7v1.7h-1.7zM493.05 304.68h1.7v1.7h-1.7zM495.83 306.28h1.7v1.7h-1.7zM504.15 307.88h1.7v1.7h-1.7zM510.63 309.49h1.7v1.7h-1.7zM506 311.09h1.7v1.7h-1.7zM516.18 312.69h1.7v1.7h-1.7z" fill="#ea7521"/>
<path d="M513.43 269.46h1.7v1.7h-1.7zM538.4 274.26h1.7v1.7h-1.7zM487.53 275.86h1.7v1.7h-1.7zM487.5 298.27h1.7v1.7h-1.7zM490.28 303.08h1.7v1.7h-1.7zM524.5 307.88h1.7v1.7h-1.7z" fill="#ebca41"/>
<path d="M521.75 267.85h1.7v1.7h-1.7zM481.02 287.06h1.7v1.7h-1.7zM491.2 304.68h1.7v1.7h-1.7zM501.38 309.49h1.7v1.7h-1.7z" fill="#ef881a"/>
<path d="M533.78 269.46h1.7v1.7h-1.7zM492.15 274.26h1.7v1.7h-1.7zM490.3 277.47h1.7v1.7h-1.7zM507.85 311.09h1.7v1.7h-1.7z" fill="#f0b428"/>
</g>
<line x1="482.0" x2="499.9" y1="314.2" y2="314.2" stroke="#231f20" stroke-width="1.3"/>
<defs><clipPath id="tc13"><rect x="600.1" y="268.3" width="57.9" height="44.4"/></clipPath></defs>
<g clip-path="url(#tc13)">
<rect x="600.1" y="268.3" width="57.9" height="44.4" fill="#d2b8dc"/>
<path d="M600 270 Q630 266 658 272" fill="none" stroke="#b797c8" stroke-width="3" stroke-opacity="0.7" stroke-linecap="round"/>
<path d="M600 276 Q612 270 625 270" fill="none" stroke="#e2d3e8" stroke-width="2" stroke-opacity="0.7" stroke-linecap="round"/>
<path d="M600 295 Q606 294 612 295" fill="none" stroke="#e9dcee" stroke-width="2.5" stroke-opacity="0.8" stroke-linecap="round"/>
<path d="M600 309 Q630 314 658 309" fill="none" stroke="#b797c8" stroke-width="2.5" stroke-opacity="0.6" stroke-linecap="round"/>
<path d="M599.13 302.48 L603.53 303.55 L609.22 305.39 L615.57 307.6 L622.63 310.07 L628.56 311.4 L632.39 311.77 L639.16 312.22 L645.28 312.18 L651.21 311.54 L656.93 309.21 L659.9 306.59" fill="none" stroke="#d9c6e2" stroke-width="2" stroke-opacity="0.7" stroke-linecap="round"/>
<path d="M596.71 288.68C597.44 287.85 599.45 285.25 601.08 283.66C602.7 282.07 604.68 280.48 606.46 279.14C608.24 277.79 610.03 276.66 611.76 275.59C613.49 274.51 615.01 273.71 616.86 272.66C618.7 271.61 620.82 270.05 622.83 269.28C624.85 268.51 627.43 268.51 628.93 268.05C630.43 267.6 630.23 266.86 631.85 266.54C633.46 266.22 636.46 266 638.61 266.12C640.75 266.25 642.86 266.84 644.72 267.28C646.59 267.71 648.94 268.47 649.79 268.71" fill="none" stroke="#dbd3e3" stroke-width="1.70" stroke-opacity="0.66"/>
<path d="M595.03 288.49C595.82 287.63 598.22 284.92 599.75 283.34C601.28 281.76 602.53 280.6 604.21 279.02C605.89 277.44 607.93 275.32 609.84 273.87C611.75 272.42 613.58 271.32 615.66 270.34C617.74 269.36 620.16 268.77 622.31 267.99C624.47 267.22 626.78 266.31 628.59 265.69C630.4 265.08 631.35 264.53 633.16 264.29C634.97 264.06 637.32 263.96 639.45 264.29C641.59 264.62 644.04 265.74 645.99 266.27C647.95 266.8 650.33 267.26 651.2 267.46" fill="none" stroke="#eeeaf2" stroke-width="1.68" stroke-opacity="0.49"/>
<path d="M592.43 289.13C593.21 288.08 595.47 284.68 597.11 282.84C598.75 280.99 600.45 279.73 602.28 278.05C604.1 276.38 606.07 274.41 608.06 272.79C610.05 271.16 611.99 269.54 614.21 268.29C616.43 267.05 619.06 266.01 621.39 265.32C623.71 264.64 626.18 264.75 628.16 264.19C630.14 263.62 631.16 262.28 633.25 261.96C635.34 261.63 638.25 261.97 640.7 262.23C643.15 262.49 645.75 262.92 647.95 263.51C650.15 264.11 652.9 265.42 653.89 265.81" fill="none" stroke="#cbbfd8" stroke-width="1.21" stroke-opacity="0.47"/>
<path d="M590.1 287.89C590.78 286.85 592.47 283.54 594.2 281.65C595.92 279.76 598.47 278.4 600.43 276.53C602.4 274.66 603.79 272.08 605.99 270.43C608.2 268.77 611.16 267.9 613.67 266.61C616.17 265.32 618.63 263.62 621.04 262.71C623.45 261.79 625.96 261.71 628.1 261.11C630.24 260.51 631.64 259.23 633.87 259.1C636.1 258.97 638.88 259.93 641.47 260.31C644.06 260.7 647.09 260.9 649.39 261.42C651.69 261.94 654.27 263.08 655.25 263.41" fill="none" stroke="#f3f0f6" stroke-width="0.99" stroke-opacity="0.69"/>
<path d="M586.81 287.89C587.57 286.84 589.65 283.85 591.41 281.59C593.17 279.33 595.36 276.5 597.37 274.33C599.39 272.16 601.05 270.4 603.5 268.57C605.95 266.75 609.29 264.88 612.07 263.39C614.86 261.91 617.48 260.46 620.21 259.67C622.93 258.87 626.18 259.23 628.44 258.64C630.69 258.05 631.37 256.44 633.73 256.13C636.09 255.83 639.81 256.36 642.61 256.81C645.4 257.25 647.98 257.97 650.52 258.8C653.05 259.63 656.6 261.29 657.82 261.78" fill="none" stroke="#f3f0f6" stroke-width="1.79" stroke-opacity="0.54"/>
<path d="M583.3 287.59C584.05 286.41 585.91 282.99 587.82 280.55C589.73 278.11 592.56 275.32 594.75 272.95C596.95 270.59 598.36 268.38 600.98 266.38C603.6 264.37 607.3 262.51 610.49 260.93C613.67 259.35 617.08 257.92 620.07 256.88C623.06 255.85 625.99 255.4 628.43 254.72C630.87 254.05 631.98 252.98 634.71 252.83C637.43 252.67 641.73 253.25 644.81 253.8C647.88 254.34 650.64 255.15 653.15 256.11C655.67 257.06 658.75 258.97 659.87 259.54" fill="none" stroke="#f3f0f6" stroke-width="1.77" stroke-opacity="0.71"/>
<path d="M579.91 287.76C580.69 286.4 582.58 282.4 584.55 279.63C586.51 276.86 589.26 273.69 591.72 271.14C594.19 268.6 596.61 266.48 599.34 264.36C602.07 262.24 604.87 260.33 608.1 258.4C611.33 256.48 615.23 254.08 618.72 252.83C622.21 251.58 626.4 251.49 629.06 250.93C631.73 250.36 631.94 249.52 634.72 249.44C637.49 249.37 642.33 249.79 645.71 250.49C649.09 251.2 652.27 252.74 655.03 253.67C657.78 254.6 661.04 255.66 662.24 256.05" fill="none" stroke="#f3f0f6" stroke-width="1.41" stroke-opacity="0.50"/>
<path d="M597.84 302.43C598.53 302.73 600.29 303.51 601.98 304.22C603.68 304.93 605.93 306.02 607.99 306.68C610.06 307.33 612.01 307.4 614.37 308.13C616.74 308.87 619.9 310.25 622.19 311.09C624.48 311.92 626.39 312.77 628.12 313.13C629.85 313.49 630.66 313.11 632.58 313.23C634.51 313.36 637.38 313.78 639.65 313.86C641.92 313.94 644.2 314.06 646.22 313.74C648.24 313.41 649.88 312.54 651.76 311.93C653.65 311.32 656.06 310.77 657.52 310.07C658.99 309.37 660.04 308.1 660.54 307.71" fill="none" stroke="#eeeaf2" stroke-width="1.01" stroke-opacity="0.78"/>
<path d="M595.67 303.9C596.54 304.06 599.15 304.32 600.88 304.82C602.61 305.33 603.83 305.95 606.03 306.93C608.23 307.92 611.42 309.7 614.09 310.72C616.76 311.75 619.54 312.45 622.05 313.08C624.56 313.7 627.4 314.25 629.15 314.5C630.9 314.74 630.55 314.5 632.55 314.54C634.54 314.57 638.69 314.7 641.12 314.71C643.56 314.72 645.04 314.76 647.16 314.6C649.29 314.43 651.73 314.37 653.88 313.73C656.03 313.09 658.51 311.76 660.07 310.77C661.62 309.77 662.69 308.26 663.22 307.76" fill="none" stroke="#eeeaf2" stroke-width="1.01" stroke-opacity="0.51"/>
<path d="M594.01 304.63C594.73 304.78 596.63 304.75 598.34 305.53C600.04 306.31 602 308.25 604.25 309.32C606.5 310.38 609.05 310.78 611.82 311.92C614.59 313.06 618.09 315.25 620.87 316.16C623.65 317.07 626.46 317.13 628.52 317.39C630.57 317.65 631.04 317.64 633.22 317.71C635.4 317.78 638.86 318.03 641.59 317.79C644.31 317.55 647.14 316.57 649.55 316.25C651.96 315.94 654.05 316.58 656.04 315.88C658.03 315.17 659.93 313.08 661.48 312.02C663.04 310.96 664.72 309.92 665.36 309.5" fill="none" stroke="#f3f0f6" stroke-width="1.49" stroke-opacity="0.62"/>
<path d="M591.46 305.48C592.14 305.79 593.62 306.59 595.52 307.33C597.42 308.07 600.38 308.74 602.86 309.92C605.34 311.11 607.47 313.12 610.41 314.46C613.34 315.8 617.47 317.15 620.46 317.96C623.45 318.77 626.14 319.09 628.36 319.33C630.57 319.56 631.35 319.29 633.76 319.38C636.16 319.46 639.98 319.9 642.78 319.85C645.57 319.8 648.16 319.5 650.54 319.08C652.91 318.65 654.77 318.2 657.05 317.3C659.34 316.4 662.53 314.85 664.25 313.68C665.98 312.5 666.87 310.81 667.39 310.24" fill="none" stroke="#eeeaf2" stroke-width="0.93" stroke-opacity="0.56"/>
<path d="M587.95 306.4C588.75 306.72 590.74 307.32 592.79 308.3C594.84 309.27 597.61 310.79 600.24 312.23C602.88 313.68 605.31 315.61 608.6 316.97C611.89 318.33 616.67 319.43 619.98 320.39C623.28 321.35 625.98 322.34 628.44 322.74C630.91 323.14 632.01 322.97 634.76 322.77C637.51 322.57 642.05 321.91 644.94 321.54C647.83 321.16 649.72 321.01 652.1 320.5C654.49 320 656.9 319.53 659.26 318.52C661.61 317.52 664.36 315.72 666.24 314.46C668.11 313.2 669.8 311.55 670.51 310.97" fill="none" stroke="#dbd3e3" stroke-width="1.09" stroke-opacity="0.54"/>
<path d="M584.7 307.78C585.64 308.15 588.14 308.94 590.31 310.04C592.48 311.13 595.01 312.84 597.73 314.37C600.45 315.91 603.21 317.5 606.63 319.24C610.06 320.99 614.48 323.6 618.26 324.84C622.05 326.09 626.5 326.52 629.36 326.7C632.21 326.89 632.6 326.25 635.4 325.96C638.19 325.67 642.87 325.4 646.15 324.95C649.42 324.5 652.27 323.95 655.05 323.27C657.83 322.59 660.46 321.97 662.83 320.88C665.2 319.79 667.44 318.1 669.29 316.73C671.14 315.36 673.15 313.33 673.92 312.66" fill="none" stroke="#f3f0f6" stroke-width="1.63" stroke-opacity="0.62"/>
<path d="M581.48 308.62C582.38 309.05 584.83 309.96 586.9 311.22C588.98 312.48 590.97 314.47 593.94 316.18C596.91 317.88 600.83 319.47 604.73 321.44C608.63 323.42 613.32 326.68 617.31 328.01C621.3 329.33 625.52 329.06 628.68 329.4C631.85 329.74 632.99 330.3 636.28 330.04C639.56 329.78 644.87 328.48 648.37 327.82C651.87 327.17 654.42 326.92 657.28 326.1C660.14 325.29 663.06 324.11 665.52 322.95C667.99 321.79 670.24 320.65 672.07 319.14C673.9 317.63 675.76 314.78 676.5 313.9" fill="none" stroke="#cbbfd8" stroke-width="1.63" stroke-opacity="0.65"/>
<path d="M605 294 L610 288 L617 283 L626 279 L636 276 L646 276 L654 280 L657 290 L656 302 L648 305 L636 305 L624 302.5 L612 299.5Z" fill="#fcf7fb"/>
<path d="M631.8 288.5a13.2 13.4 0 1 0 26.4 0a13.2 13.4 0 1 0 -26.4 0Z" fill="#d8b2da"/>
<path d="M641.5 282 Q645 276.5 650 279 Q655 278 656 283 Q655 289 649 290 Q643 291 641.5 286 Z" fill="#fbf4f9"/>

<path d="M614.35 298.56h1.7v1.7h-1.7z" fill="#211e41"/>
<path d="M640.15 271.26h1.7v1.7h-1.7zM606.85 284.08h1.7v1.7h-1.7zM620.83 303.36h1.7v1.7h-1.7zM644.88 306.57h1.7v1.7h-1.7z" fill="#2a254f"/>
<path d="M622.68 300.16h1.7v1.7h-1.7z" fill="#42225e"/>
<path d="M629.98 269.66h1.7v1.7h-1.7zM633.68 269.66h1.7v1.7h-1.7zM641.08 269.66h1.7v1.7h-1.7zM629.05 271.26h1.7v1.7h-1.7zM630.9 271.26h1.7v1.7h-1.7zM633.68 272.86h1.7v1.7h-1.7zM637.38 272.86h1.7v1.7h-1.7zM644.78 272.86h1.7v1.7h-1.7zM640.15 274.46h1.7v1.7h-1.7zM622.58 276.06h1.7v1.7h-1.7zM610.55 280.87h1.7v1.7h-1.7zM605.93 282.47h1.7v1.7h-1.7zM612.4 284.08h1.7v1.7h-1.7zM606.85 287.28h1.7v1.7h-1.7zM601.3 290.48h1.7v1.7h-1.7zM604.17 296.96h1.7v1.7h-1.7zM608.8 298.56h1.7v1.7h-1.7zM618.05 298.56h1.7v1.7h-1.7zM618.05 301.76h1.7v1.7h-1.7zM609.73 303.36h1.7v1.7h-1.7zM614.35 304.97h1.7v1.7h-1.7zM637.48 306.57h1.7v1.7h-1.7zM629.15 308.17h1.7v1.7h-1.7zM634.7 308.17h1.7v1.7h-1.7zM641.18 309.77h1.7v1.7h-1.7zM643.03 309.77h1.7v1.7h-1.7z" fill="#5c1d66"/>
<path d="M644.78 269.66h1.7v1.7h-1.7zM628.13 272.86h1.7v1.7h-1.7zM632.75 274.46h1.7v1.7h-1.7zM636.45 274.46h1.7v1.7h-1.7zM642 274.46h1.7v1.7h-1.7zM647.55 274.46h1.7v1.7h-1.7zM624.43 276.06h1.7v1.7h-1.7zM614.25 277.67h1.7v1.7h-1.7zM619.8 277.67h1.7v1.7h-1.7zM611.48 279.27h1.7v1.7h-1.7zM618.88 279.27h1.7v1.7h-1.7zM620.73 279.27h1.7v1.7h-1.7zM608.7 280.87h1.7v1.7h-1.7zM612.4 280.87h1.7v1.7h-1.7zM607.78 282.47h1.7v1.7h-1.7zM613.33 282.47h1.7v1.7h-1.7zM605.93 285.68h1.7v1.7h-1.7zM601.3 287.28h1.7v1.7h-1.7zM606.95 298.56h1.7v1.7h-1.7zM610.65 298.56h1.7v1.7h-1.7zM607.88 300.16h1.7v1.7h-1.7zM613.43 300.16h1.7v1.7h-1.7zM610.65 301.76h1.7v1.7h-1.7zM614.35 301.76h1.7v1.7h-1.7zM630.08 303.36h1.7v1.7h-1.7zM631.93 303.36h1.7v1.7h-1.7zM612.5 304.97h1.7v1.7h-1.7zM629.15 304.97h1.7v1.7h-1.7zM639.33 306.57h1.7v1.7h-1.7zM650.43 309.77h1.7v1.7h-1.7z" fill="#721d66"/>
<path d="M639.23 269.66h1.7v1.7h-1.7zM627.2 271.26h1.7v1.7h-1.7zM642 271.26h1.7v1.7h-1.7zM627.2 274.46h1.7v1.7h-1.7zM629.05 274.46h1.7v1.7h-1.7zM638.3 274.46h1.7v1.7h-1.7zM608.7 284.08h1.7v1.7h-1.7zM608.7 287.28h1.7v1.7h-1.7zM611.58 300.16h1.7v1.7h-1.7zM648.58 303.36h1.7v1.7h-1.7zM627.3 304.97h1.7v1.7h-1.7zM636.55 304.97h1.7v1.7h-1.7zM635.63 306.57h1.7v1.7h-1.7z" fill="#8a2060"/>
<path d="M646.63 269.66h1.7v1.7h-1.7zM626.28 272.86h1.7v1.7h-1.7zM641.08 272.86h1.7v1.7h-1.7zM617.95 274.46h1.7v1.7h-1.7zM621.65 274.46h1.7v1.7h-1.7zM630.9 274.46h1.7v1.7h-1.7zM617.03 276.06h1.7v1.7h-1.7zM620.73 276.06h1.7v1.7h-1.7zM615.18 279.27h1.7v1.7h-1.7zM616.1 280.87h1.7v1.7h-1.7zM611.48 282.47h1.7v1.7h-1.7zM599.45 287.28h1.7v1.7h-1.7zM603.15 287.28h1.7v1.7h-1.7zM604.08 288.88h1.7v1.7h-1.7zM612.5 298.56h1.7v1.7h-1.7zM616.2 298.56h1.7v1.7h-1.7zM606.02 300.16h1.7v1.7h-1.7zM609.73 300.16h1.7v1.7h-1.7zM618.98 300.16h1.7v1.7h-1.7zM621.75 301.76h1.7v1.7h-1.7zM607.88 303.36h1.7v1.7h-1.7zM622.68 303.36h1.7v1.7h-1.7zM626.38 303.36h1.7v1.7h-1.7zM628.23 303.36h1.7v1.7h-1.7zM633.78 303.36h1.7v1.7h-1.7zM635.63 303.36h1.7v1.7h-1.7zM639.33 303.36h1.7v1.7h-1.7zM657.83 303.36h1.7v1.7h-1.7zM631 304.97h1.7v1.7h-1.7zM645.8 304.97h1.7v1.7h-1.7zM624.53 306.57h1.7v1.7h-1.7zM631.93 306.57h1.7v1.7h-1.7zM643.03 306.57h1.7v1.7h-1.7zM646.73 306.57h1.7v1.7h-1.7zM633.78 309.77h1.7v1.7h-1.7z" fill="#9d2755"/>
<path d="M631.83 269.66h1.7v1.7h-1.7zM632.75 271.26h1.7v1.7h-1.7zM636.45 271.26h1.7v1.7h-1.7zM638.3 271.26h1.7v1.7h-1.7zM643.85 271.26h1.7v1.7h-1.7zM647.55 271.26h1.7v1.7h-1.7zM622.58 272.86h1.7v1.7h-1.7zM639.23 272.86h1.7v1.7h-1.7zM618.88 276.06h1.7v1.7h-1.7zM617.95 280.87h1.7v1.7h-1.7zM604.08 285.68h1.7v1.7h-1.7zM607.78 285.68h1.7v1.7h-1.7zM600.38 288.88h1.7v1.7h-1.7zM605.1 298.56h1.7v1.7h-1.7zM600.47 300.16h1.7v1.7h-1.7zM604.17 300.16h1.7v1.7h-1.7zM615.28 300.16h1.7v1.7h-1.7zM656.9 301.76h1.7v1.7h-1.7zM611.58 303.36h1.7v1.7h-1.7zM613.43 303.36h1.7v1.7h-1.7zM618.98 303.36h1.7v1.7h-1.7zM641.18 303.36h1.7v1.7h-1.7zM619.9 304.97h1.7v1.7h-1.7zM638.4 304.97h1.7v1.7h-1.7zM643.95 304.97h1.7v1.7h-1.7zM653.2 304.97h1.7v1.7h-1.7zM618.98 306.57h1.7v1.7h-1.7zM633.78 306.57h1.7v1.7h-1.7zM648.58 306.57h1.7v1.7h-1.7zM632.85 308.17h1.7v1.7h-1.7zM643.95 308.17h1.7v1.7h-1.7zM645.8 308.17h1.7v1.7h-1.7zM635.63 309.77h1.7v1.7h-1.7zM637.48 309.77h1.7v1.7h-1.7zM648.58 309.77h1.7v1.7h-1.7z" fill="#b2304a"/>
<path d="M642.93 272.86h1.7v1.7h-1.7zM619.8 274.46h1.7v1.7h-1.7zM634.6 274.46h1.7v1.7h-1.7zM617.95 277.67h1.7v1.7h-1.7zM623.5 277.67h1.7v1.7h-1.7zM613.33 279.27h1.7v1.7h-1.7zM602.23 288.88h1.7v1.7h-1.7zM603.15 290.48h1.7v1.7h-1.7zM652.28 300.16h1.7v1.7h-1.7zM654.13 300.16h1.7v1.7h-1.7zM605.1 301.76h1.7v1.7h-1.7zM612.5 301.76h1.7v1.7h-1.7zM651.35 301.76h1.7v1.7h-1.7zM604.17 303.36h1.7v1.7h-1.7zM650.43 303.36h1.7v1.7h-1.7zM616.2 304.97h1.7v1.7h-1.7zM625.45 304.97h1.7v1.7h-1.7zM634.7 304.97h1.7v1.7h-1.7zM651.35 304.97h1.7v1.7h-1.7zM620.83 306.57h1.7v1.7h-1.7zM640.25 308.17h1.7v1.7h-1.7zM653.2 308.17h1.7v1.7h-1.7zM646.73 309.77h1.7v1.7h-1.7z" fill="#c53f3f"/>
<path d="M625.35 274.46h1.7v1.7h-1.7zM621.65 277.67h1.7v1.7h-1.7zM625.35 277.67h1.7v1.7h-1.7zM615.18 282.47h1.7v1.7h-1.7zM605 284.08h1.7v1.7h-1.7zM605 287.28h1.7v1.7h-1.7zM620.83 300.16h1.7v1.7h-1.7zM601.4 301.76h1.7v1.7h-1.7zM627.3 301.76h1.7v1.7h-1.7zM629.15 301.76h1.7v1.7h-1.7zM653.2 301.76h1.7v1.7h-1.7zM640.25 304.97h1.7v1.7h-1.7zM647.65 304.97h1.7v1.7h-1.7zM649.5 304.97h1.7v1.7h-1.7zM655.05 304.97h1.7v1.7h-1.7zM647.65 308.17h1.7v1.7h-1.7zM649.5 308.17h1.7v1.7h-1.7z" fill="#d75232"/>
<path d="M635.53 269.66h1.7v1.7h-1.7zM637.38 269.66h1.7v1.7h-1.7zM624.43 272.86h1.7v1.7h-1.7zM631.83 272.86h1.7v1.7h-1.7zM646.63 272.86h1.7v1.7h-1.7zM605.93 288.88h1.7v1.7h-1.7zM609.73 296.96h1.7v1.7h-1.7zM625.45 301.76h1.7v1.7h-1.7zM655.05 301.76h1.7v1.7h-1.7zM618.05 304.97h1.7v1.7h-1.7zM632.85 304.97h1.7v1.7h-1.7zM655.98 306.57h1.7v1.7h-1.7zM636.55 308.17h1.7v1.7h-1.7zM644.88 309.77h1.7v1.7h-1.7z" fill="#e26429"/>
<path d="M642.93 269.66h1.7v1.7h-1.7zM615.18 276.06h1.7v1.7h-1.7zM606.85 280.87h1.7v1.7h-1.7zM614.25 280.87h1.7v1.7h-1.7zM603.15 284.08h1.7v1.7h-1.7zM619.9 301.76h1.7v1.7h-1.7zM623.6 304.97h1.7v1.7h-1.7zM625.45 308.17h1.7v1.7h-1.7zM638.4 308.17h1.7v1.7h-1.7zM642.1 308.17h1.7v1.7h-1.7z" fill="#e7dd5e"/>
<path d="M643.85 274.46h1.7v1.7h-1.7zM645.7 274.46h1.7v1.7h-1.7zM612.4 277.67h1.7v1.7h-1.7zM609.63 282.47h1.7v1.7h-1.7zM610.55 284.08h1.7v1.7h-1.7zM609.63 285.68h1.7v1.7h-1.7zM605 290.48h1.7v1.7h-1.7zM601.4 298.56h1.7v1.7h-1.7zM617.13 300.16h1.7v1.7h-1.7zM608.8 301.76h1.7v1.7h-1.7zM616.2 301.76h1.7v1.7h-1.7zM615.28 303.36h1.7v1.7h-1.7zM617.13 303.36h1.7v1.7h-1.7zM624.53 303.36h1.7v1.7h-1.7zM637.48 303.36h1.7v1.7h-1.7zM644.88 303.36h1.7v1.7h-1.7zM646.73 303.36h1.7v1.7h-1.7zM654.13 303.36h1.7v1.7h-1.7zM630.08 306.57h1.7v1.7h-1.7zM641.18 306.57h1.7v1.7h-1.7zM651.35 308.17h1.7v1.7h-1.7zM639.33 309.77h1.7v1.7h-1.7z" fill="#ea7521"/>
<path d="M628.13 269.66h1.7v1.7h-1.7zM634.6 271.26h1.7v1.7h-1.7zM645.7 271.26h1.7v1.7h-1.7zM629.98 272.86h1.7v1.7h-1.7zM635.53 272.86h1.7v1.7h-1.7zM616.1 277.67h1.7v1.7h-1.7zM617.03 279.27h1.7v1.7h-1.7zM602.23 285.68h1.7v1.7h-1.7zM602.32 296.96h1.7v1.7h-1.7zM606.02 296.96h1.7v1.7h-1.7zM603.25 301.76h1.7v1.7h-1.7zM606.95 301.76h1.7v1.7h-1.7zM602.32 303.36h1.7v1.7h-1.7zM606.02 303.36h1.7v1.7h-1.7zM655.98 303.36h1.7v1.7h-1.7zM642.1 304.97h1.7v1.7h-1.7zM622.68 306.57h1.7v1.7h-1.7zM626.38 306.57h1.7v1.7h-1.7zM628.23 306.57h1.7v1.7h-1.7zM650.43 306.57h1.7v1.7h-1.7zM654.13 306.57h1.7v1.7h-1.7zM627.3 308.17h1.7v1.7h-1.7zM631 308.17h1.7v1.7h-1.7z" fill="#ebca41"/>
<path d="M625.35 271.26h1.7v1.7h-1.7zM652.28 306.57h1.7v1.7h-1.7z" fill="#ef881a"/>
<path d="M620.73 272.86h1.7v1.7h-1.7zM623.5 274.46h1.7v1.7h-1.7zM626.28 276.06h1.7v1.7h-1.7zM628.13 276.06h1.7v1.7h-1.7zM609.63 279.27h1.7v1.7h-1.7zM607.88 296.96h1.7v1.7h-1.7zM603.25 298.56h1.7v1.7h-1.7zM602.32 300.16h1.7v1.7h-1.7zM623.6 301.76h1.7v1.7h-1.7zM643.03 303.36h1.7v1.7h-1.7zM652.28 303.36h1.7v1.7h-1.7zM621.75 304.97h1.7v1.7h-1.7zM656.9 304.97h1.7v1.7h-1.7z" fill="#f0b428"/>
</g>
<line x1="602.2" x2="620.0" y1="311.9" y2="311.9" stroke="#231f20" stroke-width="1.3"/>
<defs><clipPath id="tc14"><rect x="373.0" y="342.0" width="80.9" height="88.5"/></clipPath></defs>
<g clip-path="url(#tc14)">
<rect x="373.0" y="342.0" width="80.9" height="88.5" fill="#e8e4ec"/>
<path d="M372.06 375.01 L375.26 370.4 L378.55 365.78 L381.95 361.07 L386.63 355.92 L391.26 351.31 L397.14 346.87 L402.85 344.11 L408.66 341.95 L415 340.9 L420.76 341.14 L426.41 342.27 L432.18 344.29 L437.78 346.08 L443.44 348.45 L447.85 350.8 L451.21 354.27 L453.59 357.62 L454.72 359.3" fill="none" stroke="#cbb8d8" stroke-width="3.6" stroke-opacity="0.85" stroke-linecap="round"/>
<path d="M372.09 398 L375.23 400.93 L378.46 404.55 L381.77 408.08 L386.4 412.75 L391.01 416.91 L396.91 420.92 L402.69 423.74 L408.57 425.93 L415 428 L420.78 429.55 L426.41 429.93 L432.09 429.74 L437.62 429 L443.25 427.09 L447.68 424.25 L451.03 420.92 L453.44 417.07 L454.69 413.13 L454.22 410.23" fill="none" stroke="#cbb8d8" stroke-width="3.6" stroke-opacity="0.85" stroke-linecap="round"/>
<path d="M367.47 399.29 L370.74 402.61 L374.18 406.73 L377.77 410.73 L382.9 416.03 L388.07 420.7 L394.7 425.18 L401.2 428.31 L407.81 430.67 L415 432.8 L421.42 434.31 L427.61 434.58 L433.84 434.21 L439.86 433.25 L445.97 431.04 L450.8 427.9 L454.48 424.26 L457.18 420.09 L458.66 415.84 L458.31 412.76" fill="none" stroke="#d8cde2" stroke-width="3" stroke-opacity="0.7" stroke-linecap="round"/>
<path d="M367.41 373.82 L370.79 368.65 L374.36 363.45 L378.12 358.18 L383.34 352.42 L388.55 347.35 L395.15 342.5 L401.51 339.5 L407.98 337.2 L415 336.1 L421.37 336.38 L427.63 337.62 L434.01 339.85 L440.16 341.91 L446.34 344.63 L451.12 347.29 L454.82 351.11 L457.46 354.78 L458.7 356.62" fill="none" stroke="#ddd3e5" stroke-width="3" stroke-opacity="0.6" stroke-linecap="round"/>
<path d="M375 380 L381 386 L377 394" fill="none" stroke="#d5c6df" stroke-width="2" stroke-opacity="0.6" stroke-linecap="round"/>
<path d="M371.6 375.29C372.25 374.37 374.32 371.5 375.51 369.8C376.69 368.09 377.61 366.62 378.73 365.04C379.84 363.46 380.93 361.87 382.2 360.33C383.46 358.79 384.83 357.4 386.34 355.8C387.85 354.2 389.47 352.23 391.26 350.74C393.04 349.25 395.15 347.97 397.06 346.85C398.97 345.74 400.75 345.01 402.71 344.05C404.66 343.1 406.69 341.7 408.79 341.11C410.89 340.52 413.4 340.61 415.32 340.49C417.23 340.38 418.48 340.12 420.26 340.43C422.04 340.74 423.93 341.77 426 342.35C428.08 342.93 430.77 343.36 432.72 343.89C434.67 344.42 435.81 344.74 437.69 345.55C439.57 346.35 442.38 347.92 444.01 348.73C445.65 349.55 446.29 349.62 447.49 350.43C448.68 351.24 450.18 352.51 451.18 353.58C452.19 354.66 452.94 356.01 453.52 356.89C454.1 357.76 454.45 358.52 454.64 358.84" fill="none" stroke="#cbbfd8" stroke-width="0.80" stroke-opacity="0.75"/>
<path d="M370.22 374.67C370.61 373.89 371.6 371.6 372.6 369.98C373.6 368.36 374.91 366.72 376.21 364.96C377.52 363.2 378.88 361.26 380.41 359.41C381.94 357.56 383.83 355.51 385.4 353.85C386.96 352.19 387.97 350.96 389.8 349.46C391.62 347.96 394.28 346.18 396.34 344.85C398.39 343.52 400.09 342.28 402.13 341.47C404.17 340.66 406.37 340.42 408.58 339.99C410.78 339.55 413.3 339.12 415.38 338.86C417.45 338.6 419.06 338.29 421.03 338.43C423 338.56 425.25 339 427.18 339.66C429.11 340.33 430.72 341.68 432.63 342.42C434.54 343.16 436.65 343.49 438.63 344.11C440.61 344.74 442.76 345.42 444.51 346.18C446.25 346.93 447.73 347.47 449.09 348.65C450.46 349.82 451.72 351.94 452.68 353.22C453.64 354.51 454.1 355.47 454.85 356.35C455.59 357.22 456.76 358.12 457.14 358.48" fill="none" stroke="#c2b6d2" stroke-width="1.66" stroke-opacity="0.56"/>
<path d="M366.93 374.02C367.6 373.2 369.74 370.92 370.95 369.13C372.16 367.34 372.9 365.21 374.18 363.29C375.47 361.37 377.13 359.36 378.66 357.61C380.19 355.87 381.77 354.6 383.36 352.82C384.96 351.05 386.17 348.76 388.23 346.96C390.28 345.16 393.5 343.18 395.7 342.01C397.9 340.85 399.38 340.84 401.42 339.97C403.46 339.1 405.78 337.35 407.95 336.79C410.12 336.23 412.14 336.76 414.45 336.61C416.76 336.46 419.62 335.65 421.79 335.89C423.96 336.12 425.37 337.44 427.47 338.02C429.57 338.6 432.24 338.61 434.38 339.36C436.51 340.11 438.35 341.68 440.29 342.51C442.23 343.34 444.25 343.54 446.01 344.33C447.77 345.12 449.36 346.04 450.84 347.25C452.33 348.45 453.76 350.31 454.9 351.56C456.04 352.82 457.06 353.83 457.67 354.76C458.27 355.7 458.39 356.77 458.54 357.17" fill="none" stroke="#c2b6d2" stroke-width="1.62" stroke-opacity="0.58"/>
<path d="M365.37 373.52C365.94 372.62 367.69 369.91 368.83 368.11C369.97 366.31 371.06 364.65 372.18 362.73C373.3 360.82 373.92 358.73 375.58 356.64C377.23 354.54 380.12 351.99 382.09 350.17C384.06 348.34 385.42 347.29 387.42 345.67C389.42 344.05 391.96 341.96 394.1 340.45C396.25 338.94 398.01 337.46 400.28 336.59C402.56 335.73 405.33 335.71 407.75 335.25C410.17 334.8 412.39 334.09 414.8 333.85C417.22 333.6 420.04 333.63 422.22 333.76C424.41 333.9 425.85 334.11 427.93 334.65C430.01 335.2 432.39 336.21 434.71 337.01C437.03 337.81 439.66 338.52 441.86 339.47C444.07 340.42 446.03 341.78 447.93 342.71C449.83 343.63 451.8 343.9 453.27 345.03C454.75 346.16 455.81 348.17 456.79 349.5C457.78 350.82 458.5 352.03 459.18 353C459.87 353.97 460.6 354.94 460.88 355.33" fill="none" stroke="#eeeaf2" stroke-width="1.47" stroke-opacity="0.69"/>
<path d="M361.7 372.42C362.31 371.44 364.1 368.54 365.36 366.54C366.62 364.54 367.8 362.25 369.26 360.4C370.72 358.55 372.34 357.49 374.14 355.43C375.94 353.38 378.15 350.21 380.05 348.07C381.95 345.93 383.31 344.27 385.54 342.6C387.77 340.92 391.14 339.43 393.45 338.03C395.77 336.63 397.03 335.14 399.4 334.19C401.77 333.25 405.16 332.87 407.67 332.33C410.19 331.8 412.16 331.11 414.5 330.96C416.83 330.81 419.3 331.15 421.69 331.45C424.09 331.76 426.48 332.31 428.86 332.77C431.25 333.23 433.64 333.54 435.99 334.2C438.33 334.85 440.65 335.72 442.93 336.7C445.22 337.67 447.63 339.03 449.7 340.03C451.78 341.03 453.72 341.46 455.36 342.72C457 343.99 458.54 346.11 459.55 347.63C460.55 349.15 460.83 350.87 461.37 351.84C461.91 352.82 462.56 353.2 462.8 353.47" fill="none" stroke="#f3f0f6" stroke-width="1.06" stroke-opacity="0.73"/>
<path d="M358.42 371.31C359.01 370.22 360.61 366.87 361.99 364.77C363.38 362.67 365.15 360.64 366.72 358.7C368.29 356.76 369.68 355.38 371.41 353.15C373.15 350.91 375.08 347.41 377.11 345.28C379.14 343.15 381.15 342.23 383.59 340.38C386.03 338.52 389.13 335.81 391.76 334.13C394.39 332.45 396.9 331.25 399.37 330.31C401.84 329.36 404.02 328.99 406.56 328.47C409.1 327.95 411.99 327.28 414.61 327.18C417.22 327.07 419.77 327.47 422.27 327.83C424.78 328.19 427.13 328.67 429.64 329.34C432.16 330.01 434.85 331.06 437.36 331.86C439.86 332.65 442.36 333.15 444.67 334.12C446.97 335.09 449.06 336.59 451.19 337.7C453.32 338.82 455.71 339.59 457.46 340.79C459.21 342 460.54 343.41 461.69 344.91C462.84 346.41 463.66 348.64 464.34 349.8C465.03 350.95 465.54 351.51 465.78 351.85" fill="none" stroke="#dbd3e3" stroke-width="1.59" stroke-opacity="0.50"/>
<path d="M355.75 370.21C356.27 369.16 357.65 366 358.9 363.89C360.15 361.78 361.8 359.79 363.25 357.57C364.7 355.34 365.69 353.01 367.6 350.55C369.51 348.1 372.44 345.13 374.72 342.82C377 340.51 378.74 338.61 381.28 336.67C383.83 334.74 387.26 332.71 390.01 331.18C392.76 329.65 395.04 328.63 397.77 327.51C400.5 326.4 403.43 325.05 406.4 324.47C409.36 323.89 412.7 324.13 415.55 324.04C418.41 323.96 420.94 323.61 423.53 323.95C426.12 324.29 428.47 325.26 431.07 326.05C433.66 326.85 436.47 327.84 439.1 328.74C441.73 329.63 444.33 330.49 446.84 331.43C449.35 332.36 452.03 333.29 454.16 334.33C456.3 335.37 457.92 336.29 459.65 337.66C461.38 339.03 463.33 340.93 464.56 342.55C465.79 344.16 466.21 346.14 467.02 347.34C467.83 348.54 469.03 349.34 469.43 349.74" fill="none" stroke="#eeeaf2" stroke-width="1.45" stroke-opacity="0.47"/>
<path d="M371.14 398.37C371.82 398.87 374.08 400.38 375.17 401.34C376.26 402.31 376.59 403.06 377.69 404.14C378.8 405.22 380.34 406.37 381.79 407.82C383.25 409.28 385 411.25 386.41 412.87C387.83 414.48 388.47 416.06 390.29 417.53C392.1 419 395.16 420.51 397.3 421.68C399.43 422.85 401.29 423.7 403.08 424.54C404.88 425.39 406.07 426.17 408.05 426.74C410.03 427.32 412.74 427.49 414.96 427.98C417.18 428.47 419.52 429.22 421.36 429.68C423.21 430.14 424.19 430.68 426.02 430.75C427.84 430.81 430.3 430.28 432.32 430.05C434.34 429.82 436.38 429.84 438.15 429.38C439.92 428.91 441.37 428.07 442.93 427.26C444.5 426.45 446.06 425.63 447.55 424.53C449.03 423.44 450.88 421.92 451.84 420.67C452.8 419.41 452.84 418.13 453.31 417C453.78 415.87 454.41 415.07 454.68 413.9C454.94 412.73 454.87 410.64 454.9 409.98" fill="none" stroke="#c2b6d2" stroke-width="1.37" stroke-opacity="0.68"/>
<path d="M370.14 398.68C370.52 399.22 371.39 400.67 372.4 401.9C373.41 403.13 374.99 404.86 376.2 406.04C377.42 407.22 378.38 407.57 379.69 408.99C381 410.4 382.47 412.88 384.07 414.54C385.67 416.19 387.37 417.42 389.28 418.92C391.19 420.42 393.37 422.39 395.53 423.53C397.68 424.67 400.07 425.05 402.21 425.75C404.35 426.46 406.17 426.95 408.37 427.77C410.58 428.6 413.42 430.04 415.44 430.71C417.47 431.39 418.67 431.56 420.5 431.83C422.34 432.11 424.44 432.42 426.46 432.36C428.48 432.29 430.47 431.56 432.61 431.44C434.75 431.32 437.25 432.05 439.3 431.65C441.36 431.25 443.33 430.05 444.94 429.05C446.54 428.05 447.68 426.71 448.93 425.64C450.17 424.57 451.41 423.74 452.41 422.65C453.4 421.55 454.15 420.4 454.89 419.08C455.62 417.75 456.48 415.89 456.8 414.69C457.12 413.5 456.79 412.38 456.79 411.92" fill="none" stroke="#eeeaf2" stroke-width="1.27" stroke-opacity="0.62"/>
<path d="M367.73 398.86C368.24 399.51 369.76 401.55 370.82 402.77C371.88 403.99 372.99 404.75 374.08 406.17C375.17 407.6 375.82 409.76 377.36 411.33C378.9 412.9 381.55 413.92 383.32 415.58C385.08 417.23 386.13 419.68 387.94 421.27C389.74 422.87 392.05 424.04 394.16 425.16C396.27 426.28 398.36 426.97 400.61 427.99C402.86 429 405.28 430.43 407.66 431.23C410.04 432.03 412.52 432.3 414.87 432.77C417.22 433.24 419.67 433.83 421.78 434.05C423.89 434.28 425.51 433.99 427.55 434.12C429.59 434.24 432.03 435.04 434.03 434.81C436.04 434.59 437.48 433.29 439.55 432.75C441.63 432.2 444.61 432.44 446.48 431.54C448.35 430.65 449.42 428.7 450.75 427.4C452.08 426.1 453.35 424.87 454.48 423.75C455.62 422.64 456.89 422.06 457.54 420.73C458.18 419.4 458.17 417 458.38 415.77C458.59 414.53 458.73 413.72 458.8 413.31" fill="none" stroke="#f3f0f6" stroke-width="1.07" stroke-opacity="0.79"/>
<path d="M365.3 399.82C365.79 400.45 367.06 402.23 368.23 403.59C369.41 404.95 371.05 406.52 372.35 407.97C373.65 409.42 374.57 410.6 376.03 412.28C377.5 413.96 379.39 416.33 381.14 418.06C382.88 419.79 384.34 421.01 386.5 422.66C388.66 424.31 391.74 426.63 394.09 427.96C396.45 429.29 398.33 429.76 400.64 430.62C402.96 431.49 405.61 432.32 407.97 433.17C410.32 434.01 412.47 435.08 414.77 435.69C417.08 436.3 419.65 436.53 421.81 436.81C423.96 437.09 425.64 437.46 427.7 437.38C429.77 437.3 431.95 436.73 434.19 436.34C436.43 435.94 438.98 435.45 441.12 435.01C443.25 434.57 445.16 434.46 447 433.69C448.83 432.92 450.51 431.58 452.11 430.4C453.72 429.22 455.44 428.02 456.63 426.62C457.83 425.22 458.53 423.49 459.27 422C460.01 420.52 460.86 419 461.07 417.71C461.29 416.42 460.64 414.84 460.56 414.27" fill="none" stroke="#dbd3e3" stroke-width="1.61" stroke-opacity="0.63"/>
<path d="M361.71 400.75C362.29 401.48 364.06 403.69 365.21 405.13C366.36 406.57 367.28 407.93 368.63 409.38C369.98 410.84 371.71 412.16 373.33 413.85C374.94 415.54 376.47 417.62 378.3 419.52C380.12 421.42 381.89 423.39 384.28 425.26C386.67 427.12 390.04 429.36 392.64 430.71C395.24 432.06 397.44 432.4 399.86 433.37C402.27 434.35 404.72 435.8 407.15 436.54C409.59 437.28 412 437.27 414.44 437.83C416.89 438.39 419.34 439.54 421.8 439.91C424.27 440.27 426.92 440.01 429.21 440.01C431.5 440 433.4 440.22 435.55 439.89C437.69 439.55 439.84 438.63 442.1 438.01C444.35 437.38 446.91 437.17 449.06 436.14C451.22 435.11 453.49 433.24 455.01 431.83C456.54 430.43 457.15 429.04 458.2 427.69C459.26 426.34 460.42 425.25 461.34 423.74C462.27 422.24 463.55 419.9 463.76 418.66C463.96 417.41 462.77 416.67 462.57 416.27" fill="none" stroke="#cbbfd8" stroke-width="1.70" stroke-opacity="0.49"/>
<path d="M359.16 401.86C359.76 402.54 361.6 404.53 362.78 405.94C363.96 407.36 364.92 408.76 366.23 410.37C367.54 411.99 369.04 413.72 370.63 415.62C372.22 417.53 373.82 419.8 375.76 421.82C377.7 423.84 379.76 425.78 382.27 427.71C384.77 429.64 388.05 431.86 390.79 433.4C393.52 434.94 396.05 435.98 398.69 436.96C401.32 437.95 403.86 438.41 406.59 439.31C409.32 440.21 412.45 441.75 415.07 442.38C417.68 443 419.75 442.98 422.26 443.07C424.78 443.16 427.62 442.91 430.16 442.91C432.7 442.91 435.16 443.42 437.49 443.07C439.83 442.72 441.99 441.54 444.17 440.82C446.35 440.09 448.54 439.74 450.58 438.72C452.62 437.71 454.74 436.16 456.42 434.71C458.11 433.26 459.42 431.46 460.71 430.02C462 428.59 463.23 427.67 464.18 426.12C465.13 424.56 466.07 422.07 466.4 420.69C466.73 419.31 466.18 418.33 466.14 417.85" fill="none" stroke="#c2b6d2" stroke-width="1.07" stroke-opacity="0.49"/>
<path d="M355.75 402.2C356.25 403.07 357.58 405.7 358.73 407.4C359.88 409.1 361.26 410.79 362.64 412.41C364.02 414.03 365.29 415.05 367.04 417.13C368.78 419.2 370.9 422.6 373.13 424.87C375.35 427.14 377.82 428.77 380.4 430.73C382.98 432.69 385.85 434.95 388.61 436.65C391.38 438.34 394.13 439.82 396.99 440.89C399.85 441.95 402.78 442.31 405.76 443.03C408.74 443.75 412.01 444.56 414.85 445.22C417.69 445.87 420.2 446.65 422.8 446.96C425.4 447.26 427.88 447.24 430.44 447.03C432.99 446.82 435.64 446.07 438.13 445.69C440.61 445.31 442.85 445.55 445.35 444.75C447.84 443.95 450.85 442.01 453.1 440.86C455.34 439.7 457.09 439.2 458.83 437.83C460.57 436.46 462.18 434.33 463.53 432.65C464.89 430.97 465.99 429.4 466.96 427.73C467.93 426.06 468.98 423.94 469.36 422.61C469.74 421.29 469.27 420.26 469.26 419.78" fill="none" stroke="#cbbfd8" stroke-width="0.94" stroke-opacity="0.64"/>
<path d="M379 384 L381 374 L387 365 L395 357 L404 351.5 L415 348.5 L427 349 L438 352 L446 356.5 L450.5 362 L452 372 L452 406 L448 416 L440 421 L430 423 L418 422 L406 417.5 L396 411 L388 404 L382 397Z" fill="#fcf7fb"/>
<path d="M440.2 384a8.3 13.2 0 1 0 16.6 0a8.3 13.2 0 1 0 -16.6 0Z" fill="#d4a8d2"/>
<path d="M450.5 363.5 L453.5 372 M451.5 397 L453.5 405" stroke="#6b6478" stroke-width="1.3" fill="none"/>
<path d="M414.73 345.06h1.7v1.7h-1.7z" fill="#191632"/>
<path d="M417.5 346.66h1.7v1.7h-1.7zM389.75 359.48h1.7v1.7h-1.7zM386.78 404.97h1.7v1.7h-1.7zM388.63 404.97h1.7v1.7h-1.7zM446.9 409.78h1.7v1.7h-1.7zM407.13 417.79h1.7v1.7h-1.7z" fill="#211e41"/>
<path d="M405.48 348.26h1.7v1.7h-1.7zM445.25 356.27h1.7v1.7h-1.7zM385.13 364.28h1.7v1.7h-1.7zM378.45 396.96h1.7v1.7h-1.7zM396.03 411.38h1.7v1.7h-1.7zM444.13 417.79h1.7v1.7h-1.7z" fill="#2a254f"/>
<path d="M411.95 346.66h1.7v1.7h-1.7zM398.08 348.26h1.7v1.7h-1.7zM399.93 348.26h1.7v1.7h-1.7zM423.98 348.26h1.7v1.7h-1.7zM436.93 348.26h1.7v1.7h-1.7zM397.15 349.86h1.7v1.7h-1.7zM394.38 351.46h1.7v1.7h-1.7zM399.93 351.46h1.7v1.7h-1.7zM433.23 351.46h1.7v1.7h-1.7zM386.98 364.28h1.7v1.7h-1.7zM382.35 369.09h1.7v1.7h-1.7zM378.65 375.5h1.7v1.7h-1.7zM374.75 396.96h1.7v1.7h-1.7zM394.18 411.38h1.7v1.7h-1.7zM416.38 420.99h1.7v1.7h-1.7zM417.3 422.59h1.7v1.7h-1.7zM419.15 422.59h1.7v1.7h-1.7zM421 422.59h1.7v1.7h-1.7zM416.38 424.19h1.7v1.7h-1.7zM421.93 424.19h1.7v1.7h-1.7zM431.18 424.19h1.7v1.7h-1.7z" fill="#5c1d66"/>
<path d="M420.28 345.06h1.7v1.7h-1.7zM415.65 346.66h1.7v1.7h-1.7zM419.35 346.66h1.7v1.7h-1.7zM409.18 348.26h1.7v1.7h-1.7zM427.68 348.26h1.7v1.7h-1.7zM399 349.86h1.7v1.7h-1.7zM404.55 349.86h1.7v1.7h-1.7zM436 349.86h1.7v1.7h-1.7zM401.78 351.46h1.7v1.7h-1.7zM438.78 351.46h1.7v1.7h-1.7zM436 353.07h1.7v1.7h-1.7zM392.53 354.67h1.7v1.7h-1.7zM396.23 354.67h1.7v1.7h-1.7zM440.63 354.67h1.7v1.7h-1.7zM393.45 356.27h1.7v1.7h-1.7zM448.95 356.27h1.7v1.7h-1.7zM446.18 357.87h1.7v1.7h-1.7zM447.1 359.48h1.7v1.7h-1.7zM377.73 373.89h1.7v1.7h-1.7zM382.15 400.16h1.7v1.7h-1.7zM379.38 401.76h1.7v1.7h-1.7zM381.23 401.76h1.7v1.7h-1.7zM385.85 403.37h1.7v1.7h-1.7zM384.93 404.97h1.7v1.7h-1.7zM384 406.57h1.7v1.7h-1.7zM447.83 408.17h1.7v1.7h-1.7zM449.68 408.17h1.7v1.7h-1.7zM450.6 409.78h1.7v1.7h-1.7zM399.73 414.58h1.7v1.7h-1.7zM405.28 420.99h1.7v1.7h-1.7zM410.83 420.99h1.7v1.7h-1.7zM434.88 420.99h1.7v1.7h-1.7zM444.13 420.99h1.7v1.7h-1.7zM432.1 422.59h1.7v1.7h-1.7zM429.33 424.19h1.7v1.7h-1.7zM426.55 425.8h1.7v1.7h-1.7zM430.25 425.8h1.7v1.7h-1.7z" fill="#721d66"/>
<path d="M423.98 345.06h1.7v1.7h-1.7zM427.68 345.06h1.7v1.7h-1.7zM422.13 348.26h1.7v1.7h-1.7zM429.53 348.26h1.7v1.7h-1.7zM432.3 349.86h1.7v1.7h-1.7zM436.93 351.46h1.7v1.7h-1.7zM440.63 351.46h1.7v1.7h-1.7zM386.98 361.08h1.7v1.7h-1.7zM448.03 361.08h1.7v1.7h-1.7zM451.73 361.08h1.7v1.7h-1.7zM381.43 367.49h1.7v1.7h-1.7zM383.28 367.49h1.7v1.7h-1.7zM447.83 411.38h1.7v1.7h-1.7zM395.1 412.98h1.7v1.7h-1.7zM401.58 414.58h1.7v1.7h-1.7zM443.2 416.18h1.7v1.7h-1.7zM448.75 416.18h1.7v1.7h-1.7zM400.65 419.39h1.7v1.7h-1.7zM408.05 419.39h1.7v1.7h-1.7zM439.5 419.39h1.7v1.7h-1.7zM443.2 419.39h1.7v1.7h-1.7zM413.6 422.59h1.7v1.7h-1.7zM430.25 422.59h1.7v1.7h-1.7zM439.5 422.59h1.7v1.7h-1.7zM414.53 424.19h1.7v1.7h-1.7zM421 425.8h1.7v1.7h-1.7z" fill="#8a2060"/>
<path d="M412.88 345.06h1.7v1.7h-1.7zM410.1 346.66h1.7v1.7h-1.7zM421.2 346.66h1.7v1.7h-1.7zM432.3 346.66h1.7v1.7h-1.7zM430.45 349.86h1.7v1.7h-1.7zM431.38 351.46h1.7v1.7h-1.7zM443.4 353.07h1.7v1.7h-1.7zM444.33 354.67h1.7v1.7h-1.7zM445.25 359.48h1.7v1.7h-1.7zM386.05 362.68h1.7v1.7h-1.7zM384.2 365.88h1.7v1.7h-1.7zM385.13 367.49h1.7v1.7h-1.7zM380.5 369.09h1.7v1.7h-1.7zM379.58 370.69h1.7v1.7h-1.7zM376.8 375.5h1.7v1.7h-1.7zM375.88 377.1h1.7v1.7h-1.7zM377.73 377.1h1.7v1.7h-1.7zM383.08 401.76h1.7v1.7h-1.7zM384 403.37h1.7v1.7h-1.7zM389.55 406.57h1.7v1.7h-1.7zM388.63 408.17h1.7v1.7h-1.7zM392.33 408.17h1.7v1.7h-1.7zM392.33 411.38h1.7v1.7h-1.7zM391.4 412.98h1.7v1.7h-1.7zM393.25 412.98h1.7v1.7h-1.7zM394.18 414.58h1.7v1.7h-1.7zM445.98 414.58h1.7v1.7h-1.7zM404.35 416.18h1.7v1.7h-1.7zM447.83 417.79h1.7v1.7h-1.7zM413.6 419.39h1.7v1.7h-1.7zM445.05 419.39h1.7v1.7h-1.7zM438.58 420.99h1.7v1.7h-1.7zM440.43 420.99h1.7v1.7h-1.7zM409.9 422.59h1.7v1.7h-1.7zM437.65 422.59h1.7v1.7h-1.7zM425.63 424.19h1.7v1.7h-1.7zM433.03 424.19h1.7v1.7h-1.7zM436.73 424.19h1.7v1.7h-1.7zM438.58 424.19h1.7v1.7h-1.7zM432.1 425.8h1.7v1.7h-1.7z" fill="#9d2755"/>
<path d="M411.95 343.45h1.7v1.7h-1.7zM421.2 343.45h1.7v1.7h-1.7zM416.58 345.06h1.7v1.7h-1.7zM418.43 345.06h1.7v1.7h-1.7zM425.83 348.26h1.7v1.7h-1.7zM431.38 348.26h1.7v1.7h-1.7zM433.23 348.26h1.7v1.7h-1.7zM426.75 349.86h1.7v1.7h-1.7zM434.15 349.86h1.7v1.7h-1.7zM437.85 349.86h1.7v1.7h-1.7zM442.48 351.46h1.7v1.7h-1.7zM395.3 353.07h1.7v1.7h-1.7zM397.15 353.07h1.7v1.7h-1.7zM399 353.07h1.7v1.7h-1.7zM437.85 353.07h1.7v1.7h-1.7zM441.55 353.07h1.7v1.7h-1.7zM390.68 354.67h1.7v1.7h-1.7zM394.38 354.67h1.7v1.7h-1.7zM389.75 356.27h1.7v1.7h-1.7zM390.68 357.87h1.7v1.7h-1.7zM391.6 359.48h1.7v1.7h-1.7zM390.68 361.08h1.7v1.7h-1.7zM449.88 361.08h1.7v1.7h-1.7zM378.65 372.29h1.7v1.7h-1.7zM379.58 373.89h1.7v1.7h-1.7zM374.75 393.75h1.7v1.7h-1.7zM379.38 395.36h1.7v1.7h-1.7zM376.6 396.96h1.7v1.7h-1.7zM377.53 398.56h1.7v1.7h-1.7zM381.23 398.56h1.7v1.7h-1.7zM380.3 400.16h1.7v1.7h-1.7zM384 400.16h1.7v1.7h-1.7zM387.7 403.37h1.7v1.7h-1.7zM449.68 404.97h1.7v1.7h-1.7zM385.85 406.57h1.7v1.7h-1.7zM387.7 406.57h1.7v1.7h-1.7zM446.9 406.57h1.7v1.7h-1.7zM446.9 412.98h1.7v1.7h-1.7zM447.83 414.58h1.7v1.7h-1.7zM398.8 416.18h1.7v1.7h-1.7zM400.65 416.18h1.7v1.7h-1.7zM446.9 416.18h1.7v1.7h-1.7zM397.88 417.79h1.7v1.7h-1.7zM408.98 417.79h1.7v1.7h-1.7zM411.75 419.39h1.7v1.7h-1.7zM412.68 420.99h1.7v1.7h-1.7zM414.53 420.99h1.7v1.7h-1.7zM411.75 422.59h1.7v1.7h-1.7zM428.4 422.59h1.7v1.7h-1.7zM435.8 422.59h1.7v1.7h-1.7zM427.48 424.19h1.7v1.7h-1.7zM435.8 425.8h1.7v1.7h-1.7z" fill="#b2304a"/>
<path d="M413.8 343.45h1.7v1.7h-1.7zM417.5 343.45h1.7v1.7h-1.7zM408.25 346.66h1.7v1.7h-1.7zM407.33 348.26h1.7v1.7h-1.7zM411.03 348.26h1.7v1.7h-1.7zM402.7 349.86h1.7v1.7h-1.7zM398.08 351.46h1.7v1.7h-1.7zM445.25 353.07h1.7v1.7h-1.7zM391.6 356.27h1.7v1.7h-1.7zM443.4 356.27h1.7v1.7h-1.7zM388.83 357.87h1.7v1.7h-1.7zM444.33 357.87h1.7v1.7h-1.7zM380.5 372.29h1.7v1.7h-1.7zM375.88 373.89h1.7v1.7h-1.7zM376.6 393.75h1.7v1.7h-1.7zM377.53 395.36h1.7v1.7h-1.7zM380.3 396.96h1.7v1.7h-1.7zM383.08 398.56h1.7v1.7h-1.7zM384.93 401.76h1.7v1.7h-1.7zM382.15 403.37h1.7v1.7h-1.7zM386.78 408.17h1.7v1.7h-1.7zM451.53 408.17h1.7v1.7h-1.7zM448.75 409.78h1.7v1.7h-1.7zM396.95 412.98h1.7v1.7h-1.7zM448.75 412.98h1.7v1.7h-1.7zM445.05 416.18h1.7v1.7h-1.7zM403.43 417.79h1.7v1.7h-1.7zM402.5 419.39h1.7v1.7h-1.7zM406.2 419.39h1.7v1.7h-1.7zM446.9 419.39h1.7v1.7h-1.7zM422.85 422.59h1.7v1.7h-1.7zM424.7 422.59h1.7v1.7h-1.7zM433.95 422.59h1.7v1.7h-1.7zM418.23 424.19h1.7v1.7h-1.7zM420.08 424.19h1.7v1.7h-1.7z" fill="#c53f3f"/>
<path d="M413.8 346.66h1.7v1.7h-1.7zM393.45 353.07h1.7v1.7h-1.7zM386.05 359.48h1.7v1.7h-1.7zM448.95 362.68h1.7v1.7h-1.7zM379.38 398.56h1.7v1.7h-1.7zM448.75 406.57h1.7v1.7h-1.7zM390.48 411.38h1.7v1.7h-1.7zM398.8 412.98h1.7v1.7h-1.7zM397.88 414.58h1.7v1.7h-1.7zM405.28 417.79h1.7v1.7h-1.7zM404.35 419.39h1.7v1.7h-1.7zM436.73 420.99h1.7v1.7h-1.7zM426.55 422.59h1.7v1.7h-1.7zM441.35 422.59h1.7v1.7h-1.7zM434.88 424.19h1.7v1.7h-1.7zM433.95 425.8h1.7v1.7h-1.7z" fill="#d75232"/>
<path d="M424.9 346.66h1.7v1.7h-1.7zM435.08 348.26h1.7v1.7h-1.7zM400.85 349.86h1.7v1.7h-1.7zM428.6 349.86h1.7v1.7h-1.7zM439.7 353.07h1.7v1.7h-1.7zM446.18 354.67h1.7v1.7h-1.7zM395.3 356.27h1.7v1.7h-1.7zM392.53 357.87h1.7v1.7h-1.7zM387.9 359.48h1.7v1.7h-1.7zM385.13 361.08h1.7v1.7h-1.7zM388.83 361.08h1.7v1.7h-1.7zM384.2 362.68h1.7v1.7h-1.7zM387.9 362.68h1.7v1.7h-1.7zM450.8 362.68h1.7v1.7h-1.7zM383.28 364.28h1.7v1.7h-1.7zM380.5 365.88h1.7v1.7h-1.7zM378.45 400.16h1.7v1.7h-1.7zM391.4 409.78h1.7v1.7h-1.7zM441.35 419.39h1.7v1.7h-1.7zM443.2 422.59h1.7v1.7h-1.7zM428.4 425.8h1.7v1.7h-1.7z" fill="#e26429"/>
<path d="M407.33 345.06h1.7v1.7h-1.7zM411.03 345.06h1.7v1.7h-1.7zM425.83 345.06h1.7v1.7h-1.7zM444.33 351.46h1.7v1.7h-1.7zM447.1 356.27h1.7v1.7h-1.7zM449.88 357.87h1.7v1.7h-1.7zM386.05 365.88h1.7v1.7h-1.7zM379.58 367.49h1.7v1.7h-1.7zM378.65 369.09h1.7v1.7h-1.7zM376.8 372.29h1.7v1.7h-1.7zM373.83 395.36h1.7v1.7h-1.7zM383.08 404.97h1.7v1.7h-1.7zM449.68 411.38h1.7v1.7h-1.7zM396.03 414.58h1.7v1.7h-1.7zM395.1 416.18h1.7v1.7h-1.7zM442.28 420.99h1.7v1.7h-1.7zM440.43 424.19h1.7v1.7h-1.7zM424.7 425.8h1.7v1.7h-1.7z" fill="#e7dd5e"/>
<path d="M419.35 343.45h1.7v1.7h-1.7zM405.48 345.06h1.7v1.7h-1.7zM422.13 345.06h1.7v1.7h-1.7zM406.4 346.66h1.7v1.7h-1.7zM428.6 346.66h1.7v1.7h-1.7zM430.45 346.66h1.7v1.7h-1.7zM403.63 348.26h1.7v1.7h-1.7zM442.48 354.67h1.7v1.7h-1.7zM448.03 357.87h1.7v1.7h-1.7zM450.8 359.48h1.7v1.7h-1.7zM382.35 365.88h1.7v1.7h-1.7zM377.73 370.69h1.7v1.7h-1.7zM381.43 370.69h1.7v1.7h-1.7zM375.68 395.36h1.7v1.7h-1.7zM390.48 408.17h1.7v1.7h-1.7zM449.68 414.58h1.7v1.7h-1.7zM396.95 416.18h1.7v1.7h-1.7zM401.58 417.79h1.7v1.7h-1.7zM442.28 417.79h1.7v1.7h-1.7zM445.98 417.79h1.7v1.7h-1.7zM407.13 420.99h1.7v1.7h-1.7zM415.45 422.59h1.7v1.7h-1.7zM423.78 424.19h1.7v1.7h-1.7z" fill="#ea7521"/>
<path d="M423.05 346.66h1.7v1.7h-1.7zM426.75 346.66h1.7v1.7h-1.7zM439.7 349.86h1.7v1.7h-1.7zM396.23 351.46h1.7v1.7h-1.7zM435.08 351.46h1.7v1.7h-1.7zM386.98 357.87h1.7v1.7h-1.7zM448.95 359.48h1.7v1.7h-1.7zM447.83 404.97h1.7v1.7h-1.7zM387.7 409.78h1.7v1.7h-1.7zM393.25 409.78h1.7v1.7h-1.7zM402.5 416.18h1.7v1.7h-1.7zM422.85 425.8h1.7v1.7h-1.7z" fill="#ebca41"/>
<path d="M410.1 343.45h1.7v1.7h-1.7zM415.65 343.45h1.7v1.7h-1.7zM374.95 375.5h1.7v1.7h-1.7zM375.68 398.56h1.7v1.7h-1.7zM450.6 412.98h1.7v1.7h-1.7zM399.73 417.79h1.7v1.7h-1.7zM419.15 425.8h1.7v1.7h-1.7z" fill="#ef881a"/>
<path d="M409.18 345.06h1.7v1.7h-1.7zM402.7 346.66h1.7v1.7h-1.7zM404.55 346.66h1.7v1.7h-1.7zM401.78 348.26h1.7v1.7h-1.7zM391.6 353.07h1.7v1.7h-1.7zM450.6 406.57h1.7v1.7h-1.7zM389.55 409.78h1.7v1.7h-1.7zM451.53 411.38h1.7v1.7h-1.7zM409.9 419.39h1.7v1.7h-1.7zM408.98 420.99h1.7v1.7h-1.7zM418.23 420.99h1.7v1.7h-1.7z" fill="#f0b428"/>
</g>
<line x1="375.0" x2="392.7" y1="428.9" y2="428.9" stroke="#231f20" stroke-width="1.3"/>
<defs><clipPath id="tc16"><rect x="464.0" y="338.2" width="100.8" height="95.4"/></clipPath></defs>
<g clip-path="url(#tc16)">
<rect x="464.0" y="338.2" width="100.8" height="95.4" fill="#e7e3ec"/>
<path d="M464 338 L540 338 Q505 342 485 352 Q472 360 464 372 Z" fill="#c3b3d5" fill-opacity="0.75"/>
<path d="M466 352 Q488 340 520 339" fill="none" stroke="#ece6f1" stroke-width="2" stroke-opacity="0.8" stroke-linecap="round"/>
<path d="M466 362 Q480 350 500 345" fill="none" stroke="#b7a6cc" stroke-width="1.5" stroke-opacity="0.6" stroke-linecap="round"/>
<path d="M466 370 Q478 357 495 350" fill="none" stroke="#efe9f3" stroke-width="2" stroke-opacity="0.7" stroke-linecap="round"/>
<path d="M463.31 386.61 L469.21 379.49 L475.11 374.25 L481.26 369.46 L487.55 365.4 L494.05 361.26 L500.75 356.15 L507.31 351.79 L513.88 347.7 L518.1 344.21 L524.46 341.38 L530.62 339.2 L536.85 338.25 L543.05 338.45 L549.21 339.17 L555.37 341.23 L560.25 343.78 L563.96 346.3 L566.47 350.56" fill="none" stroke="#cdbcd9" stroke-width="3" stroke-opacity="0.8" stroke-linecap="round"/>
<path d="M464.48 408.01 L469.25 411.33 L475.25 415.38 L481.53 420 L487.91 424.06 L494.41 428.02 L500.95 431.24 L507.36 433.13 L513.88 433.4 L518.15 433.19 L524.68 431.88 L531.07 430.56 L537.5 429.06 L543.84 427.3 L550.1 424.88 L556.35 420.87 L561.27 416.38 L565.02 411.17 L567.44 407.95" fill="none" stroke="#c7b2d5" stroke-width="3.2" stroke-opacity="0.9" stroke-linecap="round"/>
<path d="M459.58 409.76 L464.54 413.53 L470.87 418.18 L477.65 423.47 L484.68 428.13 L491.94 432.59 L499.28 436.17 L506.46 438.25 L513.74 438.6 L518.53 438.37 L525.85 436.94 L532.98 435.4 L540.09 433.57 L547.02 431.41 L553.79 428.55 L560.51 423.98 L565.79 418.95 L569.81 413.2 L572.36 409.64" fill="none" stroke="#dcd2e4" stroke-width="3" stroke-opacity="0.7" stroke-linecap="round"/>
<path d="M464 430 Q490 436 520 434" fill="none" stroke="#cfc4da" stroke-width="2.5" stroke-opacity="0.6" stroke-linecap="round"/>
<path d="M462.6 386.06C463.61 384.85 466.75 380.88 468.64 378.81C470.54 376.73 472 375.32 473.97 373.62C475.94 371.93 478.36 370.13 480.48 368.65C482.6 367.17 484.44 366.18 486.69 364.75C488.94 363.33 491.63 361.72 493.99 360.11C496.35 358.5 498.68 356.64 500.86 355.09C503.05 353.54 505 352.13 507.09 350.79C509.17 349.46 511.45 348.28 513.38 347.07C515.31 345.86 516.75 344.61 518.66 343.54C520.57 342.46 522.8 341.51 524.84 340.62C526.89 339.73 528.81 338.67 530.93 338.19C533.05 337.71 535.43 337.84 537.55 337.72C539.68 337.59 541.69 337.38 543.68 337.44C545.66 337.5 547.46 337.56 549.47 338.08C551.48 338.59 553.93 339.6 555.74 340.53C557.54 341.47 558.86 342.8 560.32 343.71C561.78 344.61 563.28 344.92 564.51 345.94C565.73 346.96 567.13 349.2 567.65 349.85" fill="none" stroke="#eeeaf2" stroke-width="1.42" stroke-opacity="0.51"/>
<path d="M460.88 385.87C461.83 384.75 464.68 381.3 466.58 379.14C468.49 376.99 470.2 374.79 472.29 372.94C474.39 371.1 477.03 369.56 479.16 368.07C481.29 366.58 482.91 365.56 485.1 364.03C487.29 362.5 489.9 360.56 492.3 358.89C494.69 357.21 497.08 355.55 499.49 353.96C501.89 352.37 504.42 350.95 506.75 349.35C509.08 347.75 511.46 345.72 513.46 344.35C515.46 342.98 516.9 342.13 518.76 341.14C520.61 340.14 522.52 339.16 524.59 338.38C526.67 337.6 528.89 336.89 531.2 336.46C533.5 336.02 536.29 335.93 538.43 335.78C540.57 335.62 541.86 335.44 544.01 335.54C546.17 335.64 549.15 335.84 551.34 336.37C553.53 336.9 555.42 337.85 557.17 338.73C558.91 339.61 560.33 340.6 561.8 341.63C563.27 342.66 564.88 343.71 565.97 344.92C567.07 346.13 567.97 348.23 568.37 348.89" fill="none" stroke="#dbd3e3" stroke-width="1.31" stroke-opacity="0.49"/>
<path d="M458.07 386.78C459.07 385.33 462.01 380.58 464.08 378.08C466.16 375.58 468.44 373.75 470.51 371.8C472.59 369.84 474.38 367.92 476.52 366.35C478.65 364.78 480.99 363.87 483.34 362.37C485.7 360.88 488.18 359.32 490.65 357.37C493.12 355.42 495.54 352.48 498.15 350.67C500.77 348.87 503.8 347.98 506.32 346.52C508.83 345.06 511.25 343.13 513.25 341.92C515.26 340.71 516.29 340.17 518.33 339.26C520.37 338.35 523.14 337.39 525.5 336.45C527.86 335.52 530.32 334.2 532.51 333.64C534.69 333.07 536.39 332.94 538.61 333.06C540.82 333.17 543.51 334.04 545.79 334.33C548.08 334.63 550.25 334.41 552.34 334.81C554.42 335.21 556.33 335.84 558.29 336.73C560.24 337.61 562.41 339.18 564.06 340.1C565.71 341.02 567.15 340.97 568.17 342.23C569.19 343.5 569.83 346.78 570.16 347.69" fill="none" stroke="#f3f0f6" stroke-width="1.47" stroke-opacity="0.78"/>
<path d="M455.15 385.56C456.24 384.29 459.58 380.34 461.68 377.98C463.78 375.62 465.69 373.51 467.76 371.4C469.83 369.28 471.81 367.15 474.1 365.3C476.38 363.44 478.82 362.02 481.47 360.25C484.13 358.47 487.33 356.48 490.04 354.64C492.75 352.8 495.07 351.01 497.73 349.2C500.4 347.38 503.31 345.32 506.04 343.75C508.78 342.18 511.99 341.08 514.15 339.79C516.31 338.5 517.04 336.94 518.98 336.01C520.92 335.08 523.42 334.85 525.79 334.23C528.16 333.61 530.8 332.78 533.2 332.3C535.6 331.81 537.86 331.53 540.16 331.34C542.47 331.15 544.77 330.86 547.04 331.17C549.32 331.48 551.54 332.47 553.83 333.21C556.11 333.95 558.68 334.87 560.74 335.62C562.81 336.36 564.63 336.84 566.22 337.68C567.8 338.53 569.17 339.37 570.23 340.69C571.28 342.01 572.15 344.79 572.53 345.6" fill="none" stroke="#dbd3e3" stroke-width="1.32" stroke-opacity="0.72"/>
<path d="M452.61 386.42C453.66 384.79 456.87 379.34 458.87 376.63C460.88 373.93 462.45 372.32 464.62 370.18C466.8 368.04 469.53 365.79 471.93 363.78C474.32 361.77 476.43 360.03 478.99 358.09C481.54 356.16 484.27 354.21 487.24 352.18C490.2 350.15 493.81 347.67 496.76 345.89C499.71 344.12 502.22 343.06 504.94 341.54C507.65 340.03 510.7 338.18 513.07 336.78C515.43 335.38 516.92 334.07 519.12 333.14C521.33 332.2 523.96 331.93 526.31 331.18C528.66 330.42 530.74 329.02 533.25 328.63C535.76 328.24 538.81 328.67 541.36 328.82C543.92 328.97 546.22 329.24 548.57 329.53C550.91 329.82 553.11 329.96 555.41 330.54C557.71 331.12 560.35 332.12 562.35 333C564.36 333.88 565.9 334.88 567.44 335.8C568.97 336.72 570.38 337.22 571.57 338.52C572.75 339.81 574.06 342.71 574.56 343.55" fill="none" stroke="#dbd3e3" stroke-width="1.08" stroke-opacity="0.69"/>
<path d="M449.11 385.61C450.15 384.1 453.27 379.36 455.34 376.52C457.4 373.69 459.2 371.09 461.51 368.61C463.82 366.14 466.68 363.77 469.2 361.67C471.72 359.56 473.97 357.91 476.6 356.01C479.24 354.1 481.86 352.36 485.03 350.25C488.2 348.14 492.45 345.36 495.61 343.36C498.77 341.36 500.91 339.98 503.99 338.24C507.06 336.51 511.61 334.31 514.05 332.96C516.5 331.6 516.46 331 518.65 330.12C520.84 329.24 524.53 328.49 527.21 327.67C529.89 326.85 532.22 325.56 534.74 325.18C537.25 324.8 539.76 325.25 542.27 325.39C544.77 325.54 547.31 325.61 549.77 326.03C552.23 326.44 554.52 327.19 557.03 327.88C559.55 328.57 562.67 329.19 564.86 330.18C567.05 331.16 568.45 332.76 570.17 333.78C571.9 334.8 573.99 334.84 575.22 336.28C576.44 337.72 577.12 341.4 577.5 342.43" fill="none" stroke="#dbd3e3" stroke-width="1.08" stroke-opacity="0.65"/>
<path d="M445.41 385.33C446.39 383.72 448.99 378.56 451.27 375.66C453.55 372.77 456.56 370.58 459.08 367.97C461.59 365.36 463.79 362.38 466.38 360.02C468.97 357.66 471.79 355.96 474.62 353.81C477.44 351.66 480.11 349.43 483.33 347.11C486.54 344.79 490.41 342 493.91 339.89C497.42 337.78 501.22 336.1 504.37 334.46C507.52 332.82 510.43 331.4 512.82 330.04C515.22 328.69 516.21 327.44 518.72 326.35C521.23 325.26 525.09 324.21 527.89 323.5C530.7 322.78 532.9 322.32 535.58 322.04C538.25 321.75 541.21 321.62 543.94 321.77C546.67 321.92 549.51 322.51 551.96 322.95C554.41 323.4 556.24 323.63 558.63 324.42C561.01 325.21 563.84 326.59 566.27 327.69C568.69 328.8 571.3 329.95 573.18 331.06C575.06 332.16 576.28 332.87 577.55 334.34C578.81 335.8 580.25 338.94 580.79 339.86" fill="none" stroke="#cbbfd8" stroke-width="1.72" stroke-opacity="0.59"/>
<path d="M463.59 408.66C464.42 409.1 466.74 410.18 468.59 411.29C470.43 412.39 472.62 413.69 474.67 415.28C476.71 416.88 478.78 419.34 480.85 420.85C482.93 422.36 484.99 423.13 487.12 424.33C489.24 425.53 491.41 426.74 493.61 428.05C495.8 429.37 498.05 431.37 500.31 432.23C502.56 433.08 504.8 432.91 507.15 433.19C509.51 433.47 512.59 433.8 514.43 433.91C516.28 434.02 516.44 433.99 518.24 433.83C520.03 433.66 522.97 433.3 525.2 432.93C527.43 432.56 529.47 432.23 531.63 431.6C533.79 430.97 536.16 429.77 538.16 429.15C540.17 428.54 541.57 428.46 543.66 427.92C545.75 427.37 548.43 426.89 550.71 425.87C553 424.86 555.42 423.27 557.35 421.82C559.27 420.38 560.88 418.85 562.25 417.19C563.63 415.54 564.7 413.39 565.58 411.91C566.46 410.44 567.2 408.93 567.52 408.34" fill="none" stroke="#c2b6d2" stroke-width="1.25" stroke-opacity="0.71"/>
<path d="M461.8 409.24C462.58 409.76 464.62 411.09 466.45 412.37C468.29 413.65 470.57 415.34 472.8 416.91C475.03 418.49 477.57 420.27 479.85 421.81C482.14 423.34 484.26 424.69 486.51 426.15C488.76 427.61 490.99 429.3 493.35 430.55C495.71 431.79 498.36 432.7 500.67 433.62C502.99 434.54 504.99 435.75 507.25 436.07C509.51 436.4 512.29 435.67 514.24 435.57C516.18 435.48 517.02 435.74 518.91 435.49C520.81 435.23 523.37 434.43 525.59 434.04C527.82 433.65 529.99 433.62 532.25 433.18C534.5 432.74 536.88 431.97 539.12 431.4C541.37 430.84 543.52 430.56 545.7 429.81C547.89 429.05 550.14 428.04 552.22 426.87C554.31 425.71 556.34 424.45 558.21 422.81C560.08 421.18 562.02 418.91 563.46 417.07C564.9 415.23 565.82 413.24 566.84 411.76C567.86 410.28 569.12 408.8 569.57 408.21" fill="none" stroke="#cbbfd8" stroke-width="0.79" stroke-opacity="0.46"/>
<path d="M459.15 409.3C460.14 410.07 463.09 412.46 465.08 413.91C467.07 415.35 469.07 416.45 471.1 417.98C473.13 419.51 474.92 421.38 477.25 423.1C479.59 424.82 482.65 426.67 485.13 428.3C487.61 429.94 489.73 431.64 492.13 432.89C494.53 434.14 497.11 434.85 499.52 435.79C501.93 436.74 504.2 438.13 506.57 438.57C508.95 439.01 511.69 438.36 513.75 438.41C515.82 438.45 516.85 439.18 518.96 438.85C521.08 438.51 524.12 437.02 526.43 436.38C528.73 435.75 530.45 435.53 532.81 435.04C535.16 434.55 538.11 433.99 540.56 433.44C543 432.89 545.35 432.6 547.48 431.73C549.6 430.85 551.21 429.57 553.31 428.2C555.41 426.83 558.07 425.14 560.07 423.5C562.07 421.86 563.69 420.13 565.32 418.34C566.94 416.56 568.64 414.15 569.83 412.78C571.02 411.42 572.04 410.58 572.48 410.14" fill="none" stroke="#eeeaf2" stroke-width="1.44" stroke-opacity="0.71"/>
<path d="M456.75 410.57C457.76 411.19 460.75 412.74 462.76 414.26C464.78 415.78 466.57 417.96 468.84 419.7C471.1 421.43 473.97 422.95 476.36 424.67C478.75 426.39 480.76 428.38 483.17 430C485.59 431.61 488.23 432.94 490.84 434.36C493.44 435.78 496.29 437.47 498.81 438.51C501.33 439.54 503.41 440.23 505.94 440.58C508.47 440.93 511.97 440.54 514.02 440.58C516.07 440.63 516.11 441.16 518.24 440.87C520.36 440.58 524.23 439.41 526.76 438.85C529.29 438.29 531.06 438.06 533.41 437.53C535.76 437 538.3 436.3 540.83 435.68C543.37 435.06 546.17 434.68 548.63 433.79C551.1 432.91 553.4 431.69 555.61 430.36C557.83 429.02 559.93 427.45 561.94 425.79C563.94 424.12 566.01 422.34 567.65 420.35C569.28 418.35 570.67 415.53 571.77 413.81C572.86 412.08 573.81 410.64 574.22 410.01" fill="none" stroke="#f3f0f6" stroke-width="0.76" stroke-opacity="0.79"/>
<path d="M453.93 411.83C454.82 412.54 457.19 414.65 459.27 416.1C461.35 417.55 463.97 418.66 466.41 420.52C468.84 422.39 471.33 425.31 473.87 427.31C476.4 429.32 479.08 430.98 481.61 432.56C484.13 434.14 486.36 435.33 489.03 436.8C491.69 438.27 494.94 440.28 497.61 441.37C500.27 442.46 502.39 442.88 504.99 443.35C507.59 443.82 510.88 444.06 513.23 444.16C515.57 444.27 516.77 444.2 519.05 443.96C521.33 443.73 524.33 443.25 526.93 442.75C529.52 442.24 532.02 441.76 534.62 440.92C537.22 440.07 539.95 438.5 542.54 437.68C545.13 436.87 547.64 436.98 550.17 436.03C552.7 435.08 555.18 433.49 557.72 431.97C560.26 430.45 563.37 428.67 565.41 426.88C567.46 425.09 568.43 423.14 569.97 421.23C571.51 419.32 573.44 416.97 574.67 415.43C575.9 413.88 576.9 412.52 577.35 411.94" fill="none" stroke="#eeeaf2" stroke-width="0.90" stroke-opacity="0.59"/>
<path d="M451.73 413.15C452.46 413.83 454.27 415.66 456.15 417.22C458.03 418.78 460.57 420.48 463.02 422.5C465.46 424.53 468.2 427.27 470.82 429.38C473.44 431.49 476.01 433.37 478.73 435.14C481.45 436.92 484.26 438.39 487.14 440.04C490.03 441.69 493.14 443.93 496.02 445.02C498.89 446.12 501.46 446.21 504.39 446.6C507.32 446.99 511.12 447.3 513.61 447.35C516.1 447.41 516.88 447.18 519.35 446.92C521.81 446.66 525.49 446.33 528.39 445.78C531.3 445.23 534.04 444.35 536.78 443.6C539.52 442.86 542.32 442.1 544.84 441.32C547.37 440.55 549.47 440.06 551.91 438.93C554.36 437.8 556.93 436.23 559.53 434.56C562.12 432.9 565.22 430.86 567.49 428.95C569.77 427.05 571.39 425.12 573.19 423.15C574.99 421.17 577.07 418.82 578.27 417.1C579.47 415.38 580.06 413.54 580.42 412.83" fill="none" stroke="#cbbfd8" stroke-width="1.13" stroke-opacity="0.52"/>
<path d="M448.27 414.15C449.21 414.94 451.77 417.01 453.88 418.85C455.99 420.7 458.58 422.96 460.94 425.21C463.29 427.46 465.25 430.19 468.01 432.35C470.76 434.5 474.45 436.26 477.46 438.13C480.48 440.01 483.2 441.99 486.11 443.62C489.03 445.24 491.95 446.84 494.95 447.91C497.94 448.97 500.93 449.61 504.1 450.02C507.28 450.44 511.37 450.38 514 450.42C516.63 450.46 517.36 450.54 519.88 450.27C522.4 449.99 526.16 449.26 529.13 448.74C532.1 448.22 534.86 447.79 537.69 447.12C540.52 446.46 543.21 445.79 546.1 444.74C548.99 443.68 552.24 442.05 555.02 440.79C557.81 439.53 560.29 438.72 562.82 437.18C565.35 435.65 567.9 433.65 570.19 431.58C572.47 429.51 574.66 427.1 576.54 424.78C578.41 422.46 580.15 419.45 581.43 417.66C582.72 415.88 583.77 414.67 584.24 414.08" fill="none" stroke="#f3f0f6" stroke-width="1.04" stroke-opacity="0.74"/>
<path d="M466 390 L470 383.5 L478 376 L488 369.5 L500 362 L512 353.5 L524 347 L538 344 L552 346 L560 351 L564.8 356 L564.8 405 L561 409 L553 416 L540 421.5 L525 425 L510 426 L498 422 L484 414 L472 406 L466 399Z" fill="#fcf7fb"/>
<path d="M563.5 352 L565 358" stroke="#6b6478" stroke-width="1" fill="none"/>
<path d="M523.4 346.56h1.7v1.7h-1.7zM507.68 357.78h1.7v1.7h-1.7zM482.7 372.2h1.7v1.7h-1.7zM467.9 385.01h1.7v1.7h-1.7z" fill="#211e41"/>
<path d="M551.15 343.36h1.7v1.7h-1.7zM505.9 426.38h1.7v1.7h-1.7z" fill="#2a254f"/>
<path d="M540.98 341.76h1.7v1.7h-1.7zM525.25 343.36h1.7v1.7h-1.7zM530.8 343.36h1.7v1.7h-1.7zM552.08 344.96h1.7v1.7h-1.7zM554.85 346.56h1.7v1.7h-1.7zM507.68 354.57h1.7v1.7h-1.7zM511.38 354.57h1.7v1.7h-1.7zM499.35 359.38h1.7v1.7h-1.7zM479 372.2h1.7v1.7h-1.7zM471.6 381.81h1.7v1.7h-1.7zM561.4 403.95h1.7v1.7h-1.7zM471.68 405.56h1.7v1.7h-1.7zM561.4 407.16h1.7v1.7h-1.7zM558.63 411.96h1.7v1.7h-1.7zM480.93 415.17h1.7v1.7h-1.7zM485.55 416.77h1.7v1.7h-1.7zM487.4 416.77h1.7v1.7h-1.7zM546.6 419.98h1.7v1.7h-1.7zM534.58 421.58h1.7v1.7h-1.7zM547.53 421.58h1.7v1.7h-1.7zM531.8 423.18h1.7v1.7h-1.7zM535.5 423.18h1.7v1.7h-1.7zM529.03 424.78h1.7v1.7h-1.7zM504.05 426.38h1.7v1.7h-1.7zM517 426.38h1.7v1.7h-1.7zM524.4 426.38h1.7v1.7h-1.7zM506.83 427.99h1.7v1.7h-1.7zM523.48 427.99h1.7v1.7h-1.7zM517 429.59h1.7v1.7h-1.7z" fill="#5c1d66"/>
<path d="M536.35 340.15h1.7v1.7h-1.7zM531.73 341.76h1.7v1.7h-1.7zM544.68 341.76h1.7v1.7h-1.7zM557.63 348.16h1.7v1.7h-1.7zM514.15 349.77h1.7v1.7h-1.7zM517.85 349.77h1.7v1.7h-1.7zM514.15 352.97h1.7v1.7h-1.7zM560.4 352.97h1.7v1.7h-1.7zM509.53 354.57h1.7v1.7h-1.7zM561.33 354.57h1.7v1.7h-1.7zM503.05 356.18h1.7v1.7h-1.7zM506.75 356.18h1.7v1.7h-1.7zM503.98 357.78h1.7v1.7h-1.7zM498.43 360.98h1.7v1.7h-1.7zM500.28 360.98h1.7v1.7h-1.7zM499.35 362.58h1.7v1.7h-1.7zM479 375.4h1.7v1.7h-1.7zM474.38 377h1.7v1.7h-1.7zM473.45 378.6h1.7v1.7h-1.7zM470.68 380.21h1.7v1.7h-1.7zM468.83 386.62h1.7v1.7h-1.7zM471.68 408.76h1.7v1.7h-1.7zM477.23 408.76h1.7v1.7h-1.7zM474.45 410.36h1.7v1.7h-1.7zM479.08 411.96h1.7v1.7h-1.7zM480.93 411.96h1.7v1.7h-1.7zM489.25 416.77h1.7v1.7h-1.7zM548.45 416.77h1.7v1.7h-1.7zM548.45 419.98h1.7v1.7h-1.7zM543.83 421.58h1.7v1.7h-1.7zM496.65 423.18h1.7v1.7h-1.7zM528.1 423.18h1.7v1.7h-1.7zM503.13 424.78h1.7v1.7h-1.7zM519.78 424.78h1.7v1.7h-1.7zM521.63 424.78h1.7v1.7h-1.7zM525.33 424.78h1.7v1.7h-1.7zM532.73 424.78h1.7v1.7h-1.7zM534.58 424.78h1.7v1.7h-1.7zM498.5 426.38h1.7v1.7h-1.7zM509.6 426.38h1.7v1.7h-1.7zM528.1 426.38h1.7v1.7h-1.7zM516.08 427.99h1.7v1.7h-1.7zM515.15 429.59h1.7v1.7h-1.7z" fill="#721d66"/>
<path d="M529.88 341.76h1.7v1.7h-1.7zM545.6 343.36h1.7v1.7h-1.7zM518.78 344.96h1.7v1.7h-1.7zM524.33 344.96h1.7v1.7h-1.7zM553.93 344.96h1.7v1.7h-1.7zM515.08 348.16h1.7v1.7h-1.7zM561.33 348.16h1.7v1.7h-1.7zM512.3 349.77h1.7v1.7h-1.7zM511.38 351.37h1.7v1.7h-1.7zM503.05 359.38h1.7v1.7h-1.7zM504.9 359.38h1.7v1.7h-1.7zM472.6 407.16h1.7v1.7h-1.7zM563.25 407.16h1.7v1.7h-1.7zM558.63 408.76h1.7v1.7h-1.7zM555.85 410.36h1.7v1.7h-1.7zM481.85 413.57h1.7v1.7h-1.7zM484.63 415.17h1.7v1.7h-1.7zM547.53 418.37h1.7v1.7h-1.7zM513.3 426.38h1.7v1.7h-1.7zM529.95 426.38h1.7v1.7h-1.7zM511.45 429.59h1.7v1.7h-1.7zM513.3 429.59h1.7v1.7h-1.7z" fill="#8a2060"/>
<path d="M545.6 340.15h1.7v1.7h-1.7zM548.38 341.76h1.7v1.7h-1.7zM552.08 341.76h1.7v1.7h-1.7zM540.05 343.36h1.7v1.7h-1.7zM547.45 343.36h1.7v1.7h-1.7zM548.38 344.96h1.7v1.7h-1.7zM557.63 344.96h1.7v1.7h-1.7zM519.7 346.56h1.7v1.7h-1.7zM556.7 346.56h1.7v1.7h-1.7zM513.23 348.16h1.7v1.7h-1.7zM558.55 349.77h1.7v1.7h-1.7zM560.4 349.77h1.7v1.7h-1.7zM561.33 351.37h1.7v1.7h-1.7zM563.18 351.37h1.7v1.7h-1.7zM508.6 352.97h1.7v1.7h-1.7zM505.83 354.57h1.7v1.7h-1.7zM488.25 368.99h1.7v1.7h-1.7zM485.48 370.59h1.7v1.7h-1.7zM477.15 378.6h1.7v1.7h-1.7zM468.83 383.41h1.7v1.7h-1.7zM465.12 386.62h1.7v1.7h-1.7zM563.25 403.95h1.7v1.7h-1.7zM562.33 405.56h1.7v1.7h-1.7zM556.78 408.76h1.7v1.7h-1.7zM476.3 410.36h1.7v1.7h-1.7zM480 410.36h1.7v1.7h-1.7zM557.7 410.36h1.7v1.7h-1.7zM483.7 413.57h1.7v1.7h-1.7zM552.15 413.57h1.7v1.7h-1.7zM554 413.57h1.7v1.7h-1.7zM479.08 415.17h1.7v1.7h-1.7zM551.23 415.17h1.7v1.7h-1.7zM553.08 415.17h1.7v1.7h-1.7zM490.18 418.37h1.7v1.7h-1.7zM545.68 418.37h1.7v1.7h-1.7zM491.1 419.98h1.7v1.7h-1.7zM494.8 419.98h1.7v1.7h-1.7zM542.9 419.98h1.7v1.7h-1.7zM492.95 423.18h1.7v1.7h-1.7zM500.35 423.18h1.7v1.7h-1.7zM529.95 423.18h1.7v1.7h-1.7zM504.98 424.78h1.7v1.7h-1.7zM523.48 424.78h1.7v1.7h-1.7zM527.18 424.78h1.7v1.7h-1.7zM540.13 424.78h1.7v1.7h-1.7zM502.2 426.38h1.7v1.7h-1.7zM501.28 427.99h1.7v1.7h-1.7zM503.13 427.99h1.7v1.7h-1.7zM508.68 427.99h1.7v1.7h-1.7z" fill="#9d2755"/>
<path d="M523.4 343.36h1.7v1.7h-1.7zM527.1 343.36h1.7v1.7h-1.7zM549.3 343.36h1.7v1.7h-1.7zM522.48 344.96h1.7v1.7h-1.7zM528.03 344.96h1.7v1.7h-1.7zM517.85 346.56h1.7v1.7h-1.7zM553 346.56h1.7v1.7h-1.7zM516.93 348.16h1.7v1.7h-1.7zM510.45 352.97h1.7v1.7h-1.7zM504.9 356.18h1.7v1.7h-1.7zM508.6 356.18h1.7v1.7h-1.7zM500.28 357.78h1.7v1.7h-1.7zM505.83 357.78h1.7v1.7h-1.7zM501.2 359.38h1.7v1.7h-1.7zM502.13 360.98h1.7v1.7h-1.7zM501.2 362.58h1.7v1.7h-1.7zM489.18 367.39h1.7v1.7h-1.7zM492.88 367.39h1.7v1.7h-1.7zM494.73 367.39h1.7v1.7h-1.7zM484.55 368.99h1.7v1.7h-1.7zM491.95 368.99h1.7v1.7h-1.7zM484.55 372.2h1.7v1.7h-1.7zM479.93 373.8h1.7v1.7h-1.7zM481.78 373.8h1.7v1.7h-1.7zM483.63 373.8h1.7v1.7h-1.7zM477.15 375.4h1.7v1.7h-1.7zM480.85 375.4h1.7v1.7h-1.7zM476.23 377h1.7v1.7h-1.7zM469.75 381.81h1.7v1.7h-1.7zM473.45 381.81h1.7v1.7h-1.7zM470.68 383.41h1.7v1.7h-1.7zM466.98 386.62h1.7v1.7h-1.7zM468.9 403.95h1.7v1.7h-1.7zM468.9 407.16h1.7v1.7h-1.7zM470.75 407.16h1.7v1.7h-1.7zM559.55 407.16h1.7v1.7h-1.7zM478.15 410.36h1.7v1.7h-1.7zM477.23 411.96h1.7v1.7h-1.7zM482.78 415.17h1.7v1.7h-1.7zM486.48 415.17h1.7v1.7h-1.7zM486.48 418.37h1.7v1.7h-1.7zM488.33 418.37h1.7v1.7h-1.7zM541.05 419.98h1.7v1.7h-1.7zM495.73 421.58h1.7v1.7h-1.7zM541.98 421.58h1.7v1.7h-1.7zM533.65 423.18h1.7v1.7h-1.7zM537.35 423.18h1.7v1.7h-1.7zM499.43 424.78h1.7v1.7h-1.7zM520.7 426.38h1.7v1.7h-1.7zM526.25 426.38h1.7v1.7h-1.7zM531.8 426.38h1.7v1.7h-1.7zM517.93 427.99h1.7v1.7h-1.7zM505.9 429.59h1.7v1.7h-1.7zM518.85 429.59h1.7v1.7h-1.7z" fill="#b2304a"/>
<path d="M558.55 346.56h1.7v1.7h-1.7zM520.63 348.16h1.7v1.7h-1.7zM559.48 348.16h1.7v1.7h-1.7zM506.75 352.97h1.7v1.7h-1.7zM492.88 364.19h1.7v1.7h-1.7zM490.1 365.79h1.7v1.7h-1.7zM487.33 367.39h1.7v1.7h-1.7zM478.08 373.8h1.7v1.7h-1.7zM472.53 377h1.7v1.7h-1.7zM471.6 378.6h1.7v1.7h-1.7zM467.05 403.95h1.7v1.7h-1.7zM467.98 405.56h1.7v1.7h-1.7zM469.83 405.56h1.7v1.7h-1.7zM474.45 407.16h1.7v1.7h-1.7zM473.53 408.76h1.7v1.7h-1.7zM475.38 408.76h1.7v1.7h-1.7zM560.48 408.76h1.7v1.7h-1.7zM556.78 411.96h1.7v1.7h-1.7zM480 413.57h1.7v1.7h-1.7zM494.8 423.18h1.7v1.7h-1.7zM495.73 424.78h1.7v1.7h-1.7zM500.35 426.38h1.7v1.7h-1.7zM522.55 426.38h1.7v1.7h-1.7zM521.63 427.99h1.7v1.7h-1.7z" fill="#c53f3f"/>
<path d="M533.58 341.76h1.7v1.7h-1.7zM535.43 341.76h1.7v1.7h-1.7zM534.5 343.36h1.7v1.7h-1.7zM543.75 343.36h1.7v1.7h-1.7zM559.48 351.37h1.7v1.7h-1.7zM493.8 365.79h1.7v1.7h-1.7zM475.38 411.96h1.7v1.7h-1.7zM554.93 411.96h1.7v1.7h-1.7zM493.88 421.58h1.7v1.7h-1.7zM507.75 426.38h1.7v1.7h-1.7zM518.85 426.38h1.7v1.7h-1.7zM510.53 427.99h1.7v1.7h-1.7z" fill="#d75232"/>
<path d="M532.65 340.15h1.7v1.7h-1.7zM547.45 340.15h1.7v1.7h-1.7zM526.18 341.76h1.7v1.7h-1.7zM539.13 341.76h1.7v1.7h-1.7zM542.83 341.76h1.7v1.7h-1.7zM528.95 343.36h1.7v1.7h-1.7zM532.65 343.36h1.7v1.7h-1.7zM536.35 343.36h1.7v1.7h-1.7zM518.78 348.16h1.7v1.7h-1.7zM555.78 348.16h1.7v1.7h-1.7zM564.1 352.97h1.7v1.7h-1.7zM502.13 357.78h1.7v1.7h-1.7zM494.73 364.19h1.7v1.7h-1.7zM498.43 364.19h1.7v1.7h-1.7zM495.65 365.79h1.7v1.7h-1.7zM474.38 380.21h1.7v1.7h-1.7zM469.75 385.01h1.7v1.7h-1.7zM560.48 405.56h1.7v1.7h-1.7zM562.33 408.76h1.7v1.7h-1.7zM472.6 410.36h1.7v1.7h-1.7zM555.85 413.57h1.7v1.7h-1.7zM557.7 413.57h1.7v1.7h-1.7zM492.03 418.37h1.7v1.7h-1.7zM487.4 419.98h1.7v1.7h-1.7zM492.95 419.98h1.7v1.7h-1.7zM538.28 424.78h1.7v1.7h-1.7zM514.23 427.99h1.7v1.7h-1.7zM519.78 427.99h1.7v1.7h-1.7zM525.33 427.99h1.7v1.7h-1.7zM509.6 429.59h1.7v1.7h-1.7z" fill="#e26429"/>
<path d="M530.8 340.15h1.7v1.7h-1.7zM541.9 340.15h1.7v1.7h-1.7zM543.75 340.15h1.7v1.7h-1.7zM550.23 341.76h1.7v1.7h-1.7zM554.85 343.36h1.7v1.7h-1.7zM516 349.77h1.7v1.7h-1.7zM475.3 378.6h1.7v1.7h-1.7zM467.05 407.16h1.7v1.7h-1.7zM554.93 415.17h1.7v1.7h-1.7zM484.63 418.37h1.7v1.7h-1.7zM490.18 421.58h1.7v1.7h-1.7zM497.58 424.78h1.7v1.7h-1.7z" fill="#e7dd5e"/>
<path d="M538.2 343.36h1.7v1.7h-1.7zM553 343.36h1.7v1.7h-1.7zM520.63 344.96h1.7v1.7h-1.7zM521.55 346.56h1.7v1.7h-1.7zM562.25 349.77h1.7v1.7h-1.7zM515.08 351.37h1.7v1.7h-1.7zM496.58 364.19h1.7v1.7h-1.7zM491.03 367.39h1.7v1.7h-1.7zM486.4 368.99h1.7v1.7h-1.7zM490.1 368.99h1.7v1.7h-1.7zM489.18 370.59h1.7v1.7h-1.7zM472.53 380.21h1.7v1.7h-1.7zM466.05 385.01h1.7v1.7h-1.7zM478.15 413.57h1.7v1.7h-1.7zM556.78 415.17h1.7v1.7h-1.7zM483.7 416.77h1.7v1.7h-1.7zM550.3 416.77h1.7v1.7h-1.7zM552.15 416.77h1.7v1.7h-1.7zM549.38 418.37h1.7v1.7h-1.7zM544.75 419.98h1.7v1.7h-1.7zM497.58 421.58h1.7v1.7h-1.7zM540.13 421.58h1.7v1.7h-1.7zM545.68 421.58h1.7v1.7h-1.7zM544.75 423.18h1.7v1.7h-1.7zM501.28 424.78h1.7v1.7h-1.7zM511.45 426.38h1.7v1.7h-1.7zM515.15 426.38h1.7v1.7h-1.7zM512.38 427.99h1.7v1.7h-1.7z" fill="#ea7521"/>
<path d="M534.5 340.15h1.7v1.7h-1.7zM538.2 340.15h1.7v1.7h-1.7zM541.9 343.36h1.7v1.7h-1.7zM526.18 344.96h1.7v1.7h-1.7zM516 346.56h1.7v1.7h-1.7zM560.4 346.56h1.7v1.7h-1.7zM513.23 351.37h1.7v1.7h-1.7zM562.25 352.97h1.7v1.7h-1.7zM495.65 362.58h1.7v1.7h-1.7zM497.5 362.58h1.7v1.7h-1.7zM481.78 370.59h1.7v1.7h-1.7zM483.63 370.59h1.7v1.7h-1.7zM486.4 372.2h1.7v1.7h-1.7zM467.9 381.81h1.7v1.7h-1.7zM564.18 405.56h1.7v1.7h-1.7zM559.55 410.36h1.7v1.7h-1.7zM481.85 416.77h1.7v1.7h-1.7zM554 416.77h1.7v1.7h-1.7zM489.25 419.98h1.7v1.7h-1.7zM550.3 419.98h1.7v1.7h-1.7zM536.43 421.58h1.7v1.7h-1.7zM538.28 421.58h1.7v1.7h-1.7zM498.5 423.18h1.7v1.7h-1.7zM542.9 423.18h1.7v1.7h-1.7zM530.88 424.78h1.7v1.7h-1.7zM536.43 424.78h1.7v1.7h-1.7zM533.65 426.38h1.7v1.7h-1.7z" fill="#ebca41"/>
<path d="M540.05 340.15h1.7v1.7h-1.7zM528.03 341.76h1.7v1.7h-1.7zM480.85 372.2h1.7v1.7h-1.7zM475.3 375.4h1.7v1.7h-1.7zM466.98 383.41h1.7v1.7h-1.7zM469.83 408.76h1.7v1.7h-1.7zM492.03 421.58h1.7v1.7h-1.7zM541.05 423.18h1.7v1.7h-1.7zM504.98 427.99h1.7v1.7h-1.7z" fill="#ef881a"/>
<path d="M537.28 341.76h1.7v1.7h-1.7z" fill="#f09e20"/>
<path d="M546.53 341.76h1.7v1.7h-1.7zM521.55 343.36h1.7v1.7h-1.7zM550.23 344.96h1.7v1.7h-1.7zM555.78 344.96h1.7v1.7h-1.7zM509.53 351.37h1.7v1.7h-1.7zM512.3 352.97h1.7v1.7h-1.7zM496.58 360.98h1.7v1.7h-1.7zM491.95 365.79h1.7v1.7h-1.7zM487.33 370.59h1.7v1.7h-1.7zM478.08 377h1.7v1.7h-1.7zM466.12 405.56h1.7v1.7h-1.7zM551.23 418.37h1.7v1.7h-1.7zM553.08 418.37h1.7v1.7h-1.7zM539.2 423.18h1.7v1.7h-1.7zM507.75 429.59h1.7v1.7h-1.7z" fill="#f0b428"/>
</g>
<line x1="466.0" x2="484.0" y1="432.1" y2="432.1" stroke="#231f20" stroke-width="1.3"/>
<defs><clipPath id="tc17"><rect x="574.4" y="334.4" width="110.6" height="103.1"/></clipPath></defs>
<g clip-path="url(#tc17)">
<rect x="574.4" y="334.4" width="110.6" height="103.1" fill="#e6e2ec"/>
<path d="M649.85 432.66 L640.32 435.48 L633.48 436.79 L626.64 437.39 L616.92 436.63 L610.09 433.98 L603.24 429.9 L597.06 425.11 L591.64 419.09 L586.8 412.26 L582.71 405.39 L580.07 398.54 L577.53 391.69 L576.2 384.89 L575.33 380.11 L575.81 370.71 L577.94 363.96 L581.88 357.17 L587.21 351.76 L593.8 348.12 L600.44 345.87 L605.91 343 L612.7 339.04 L619.57 336.32 L626.42 334.11 L633.46 333.21 L640.26 333.9 L647.03 334.68 L653.77 336.14 L660.46 338.37 L665.72 341.1 L671.1 345.23 L676.47 350.57 L680.37 354.7 L683.14 360.09 L685.76 365.39 L686.06 368.79" fill="none" stroke="#c9bcd9" stroke-width="4" stroke-opacity="0.85" stroke-linecap="round"/>
<path d="M652.01 437.72 L641.45 440.87 L633.85 442.27 L626.28 442.88 L615.55 441.95 L607.98 439.06 L600.37 434.59 L593.51 429.31 L587.47 422.68 L582.1 415.11 L577.62 407.47 L574.73 399.88 L572.06 392.29 L570.7 384.77 L569.86 379.52 L570.51 369.21 L572.87 361.81 L577.16 354.35 L582.91 348.33 L590 344.15 L597.18 341.44 L603.22 338.2 L610.8 333.88 L618.44 330.93 L626.04 328.63 L633.82 327.72 L641.33 328.51 L648.76 329.46 L656.13 331.17 L663.43 333.73 L669.15 336.79 L675.01 341.35 L680.85 347.23 L685.04 351.79 L688.09 357.68 L690.92 363.49 L691.32 367.17" fill="none" stroke="#d6cde2" stroke-width="4" stroke-opacity="0.7" stroke-linecap="round"/>
<path d="M574 336 Q600 333 640 334" fill="none" stroke="#c2b5d3" stroke-width="3" stroke-opacity="0.6" stroke-linecap="round"/>
<path d="M685 350 Q690 400 660 436" fill="none" stroke="#c9bcd9" stroke-width="4" stroke-opacity="0.6" stroke-linecap="round"/>
<path d="M574 352 Q578 342 590 338" fill="none" stroke="#ebe6f0" stroke-width="2" stroke-opacity="0.7" stroke-linecap="round"/>
<path d="M576 420 Q585 432 600 436" fill="none" stroke="#b9aed0" stroke-width="2" stroke-opacity="0.5" stroke-linecap="round"/>
<path d="M648.94 431.5C647.52 432.01 643.1 433.9 640.43 434.53C637.76 435.17 635.1 435.07 632.9 435.31C630.7 435.55 629.85 435.9 627.22 435.98C624.6 436.05 619.96 436.29 617.14 435.77C614.31 435.25 612.55 433.97 610.28 432.85C608.01 431.73 605.63 430.38 603.51 429.05C601.39 427.73 599.35 426.74 597.57 424.9C595.78 423.05 594.51 420.26 592.8 417.98C591.09 415.7 588.84 413.34 587.3 411.22C585.76 409.09 584.61 407.47 583.56 405.24C582.5 403.01 581.84 400.17 580.95 397.83C580.06 395.49 578.8 393.3 578.21 391.21C577.62 389.12 577.7 387.11 577.4 385.28C577.09 383.45 576.41 382.6 576.37 380.23C576.33 377.87 576.82 373.66 577.16 371.09C577.49 368.52 577.46 366.96 578.4 364.8C579.34 362.63 581.24 360.17 582.8 358.1C584.35 356.03 585.78 353.93 587.75 352.39C589.72 350.84 592.47 349.85 594.59 348.83C596.71 347.8 598.54 347.17 600.47 346.23C602.4 345.3 604.18 344.23 606.18 343.21C608.18 342.19 610.12 341.06 612.45 340.11C614.78 339.16 617.85 338.27 620.17 337.5C622.49 336.72 624.18 336.11 626.37 335.45C628.55 334.8 631.05 333.62 633.29 333.58C635.54 333.55 637.53 334.86 639.85 335.25C642.17 335.64 644.98 335.7 647.21 335.92C649.44 336.14 651.13 336.02 653.24 336.55C655.35 337.09 657.92 338.36 659.87 339.16C661.83 339.95 663.29 340.19 664.98 341.33C666.67 342.48 668.3 344.46 670 346.03C671.7 347.61 673.65 349.32 675.19 350.78C676.74 352.24 678.17 353.12 679.29 354.8C680.42 356.48 681.02 359.1 681.95 360.87C682.88 362.63 684.28 364.12 684.89 365.4C685.5 366.68 685.5 368.03 685.62 368.55" fill="none" stroke="#cbbfd8" stroke-width="0.96" stroke-opacity="0.56"/>
<path d="M649.89 434.05C648.3 434.51 642.96 436.2 640.31 436.82C637.65 437.43 636.26 437.43 633.98 437.73C631.7 438.03 629.42 438.54 626.62 438.62C623.81 438.7 620.03 438.85 617.14 438.22C614.26 437.59 611.77 436.11 609.32 434.85C606.87 433.6 604.54 432.21 602.45 430.7C600.36 429.18 598.72 427.49 596.77 425.76C594.81 424.03 592.65 422.37 590.74 420.29C588.83 418.22 586.73 415.7 585.3 413.29C583.88 410.87 583.25 408.21 582.21 405.8C581.17 403.39 580 401.06 579.05 398.82C578.1 396.58 577.11 394.63 576.49 392.35C575.87 390.07 575.62 387.16 575.33 385.12C575.03 383.08 574.8 382.5 574.74 380.11C574.68 377.72 574.71 373.61 574.99 370.8C575.27 367.98 575.38 365.58 576.4 363.22C577.41 360.86 579.31 358.73 581.06 356.61C582.82 354.5 584.94 352.15 586.92 350.54C588.91 348.94 590.72 347.9 592.96 347.01C595.2 346.12 598.29 346.13 600.37 345.21C602.45 344.29 603.49 342.62 605.43 341.48C607.37 340.33 609.67 339.29 612.03 338.33C614.4 337.37 617.17 336.65 619.62 335.72C622.06 334.78 624.38 333.24 626.69 332.71C629 332.17 631.27 332.41 633.49 332.5C635.71 332.59 637.77 332.99 640.02 333.24C642.26 333.49 644.63 333.79 646.96 334.01C649.29 334.24 651.69 334.07 654.01 334.58C656.32 335.09 658.69 336.06 660.84 337.1C662.99 338.13 665.04 339.51 666.89 340.79C668.74 342.08 670.16 343.25 671.94 344.79C673.72 346.34 676.08 348.51 677.59 350.06C679.1 351.62 680.02 352.56 681.01 354.12C682 355.68 682.61 357.61 683.54 359.41C684.47 361.21 686.06 363.39 686.6 364.94C687.13 366.49 686.74 368.09 686.76 368.72" fill="none" stroke="#cbbfd8" stroke-width="0.82" stroke-opacity="0.48"/>
<path d="M650.85 436.48C649.17 436.88 643.59 438.16 640.76 438.89C637.92 439.63 636.29 440.53 633.84 440.87C631.4 441.21 629.01 440.98 626.09 440.92C623.16 440.86 619.11 441.13 616.29 440.52C613.47 439.91 611.62 438.46 609.18 437.26C606.73 436.06 604.07 434.93 601.61 433.32C599.15 431.71 596.49 429.55 594.41 427.61C592.32 425.66 590.86 423.91 589.11 421.64C587.36 419.37 585.48 416.44 583.89 414C582.3 411.55 580.83 409.48 579.59 406.98C578.35 404.48 577.4 401.41 576.46 399.01C575.53 396.61 574.57 394.96 573.97 392.57C573.37 390.19 573.34 386.85 572.89 384.71C572.44 382.57 571.33 382.25 571.27 379.71C571.21 377.18 571.99 372.37 572.54 369.52C573.1 366.66 573.6 365.04 574.59 362.59C575.59 360.14 576.77 357.03 578.51 354.82C580.24 352.62 582.76 350.87 584.99 349.36C587.22 347.85 589.75 346.77 591.87 345.77C593.99 344.77 595.62 344.41 597.71 343.38C599.8 342.35 602.14 340.88 604.4 339.58C606.66 338.28 608.94 336.59 611.27 335.55C613.6 334.52 615.95 334.14 618.38 333.36C620.8 332.58 623.3 331.43 625.82 330.87C628.33 330.31 630.94 329.99 633.47 330C636 330 638.57 330.75 641.01 330.89C643.46 331.04 645.73 330.44 648.16 330.86C650.59 331.27 653.29 332.7 655.59 333.38C657.9 334.06 659.82 334.13 661.98 334.92C664.13 335.7 666.52 336.75 668.5 338.11C670.49 339.46 672.04 341.27 673.89 343.04C675.74 344.82 678.08 347.19 679.61 348.74C681.14 350.29 681.98 350.67 683.05 352.35C684.11 354.02 684.9 356.8 686 358.8C687.11 360.8 689.04 362.85 689.67 364.36C690.3 365.87 689.77 367.28 689.79 367.87" fill="none" stroke="#cbbfd8" stroke-width="1.11" stroke-opacity="0.65"/>
<path d="M652.27 438.8C650.57 439.15 645.24 440.22 642.08 440.87C638.92 441.52 636.06 442.21 633.33 442.71C630.6 443.2 628.63 443.81 625.71 443.83C622.78 443.85 618.69 443.64 615.77 442.84C612.85 442.04 610.8 440.41 608.18 439.05C605.55 437.68 602.61 436.24 600.02 434.64C597.43 433.04 594.75 431.32 592.63 429.46C590.51 427.6 589.07 425.84 587.32 423.49C585.58 421.14 583.93 418.05 582.16 415.36C580.38 412.66 577.97 409.97 576.66 407.32C575.36 404.67 575.22 401.92 574.32 399.46C573.43 397 571.99 394.96 571.29 392.57C570.59 390.18 570.44 387.4 570.12 385.13C569.81 382.85 569.42 381.7 569.39 378.94C569.36 376.18 569.45 371.37 569.94 368.56C570.43 365.75 571.21 364.41 572.36 362.07C573.51 359.74 575.11 356.84 576.85 354.55C578.58 352.26 580.68 350.1 582.77 348.35C584.87 346.59 587.06 345.22 589.41 344.02C591.76 342.83 594.56 342.21 596.87 341.2C599.18 340.18 601.05 339.19 603.29 337.92C605.52 336.64 607.78 334.71 610.26 333.54C612.74 332.37 615.56 331.77 618.16 330.9C620.77 330.03 623.25 328.96 625.89 328.32C628.53 327.67 631.47 327.1 634.01 327.04C636.55 326.98 638.61 327.59 641.12 327.97C643.63 328.34 646.47 328.81 649.09 329.29C651.71 329.77 654.34 330.19 656.84 330.86C659.35 331.53 661.98 332.31 664.14 333.3C666.3 334.28 667.92 335.5 669.81 336.77C671.69 338.05 673.53 339.19 675.44 340.94C677.34 342.69 679.48 345.46 681.21 347.28C682.95 349.1 684.55 350.17 685.85 351.88C687.15 353.58 688.14 355.69 689 357.51C689.86 359.33 690.59 361.21 690.99 362.82C691.39 364.43 691.33 366.46 691.39 367.19" fill="none" stroke="#f3f0f6" stroke-width="1.08" stroke-opacity="0.50"/>
<path d="M653.42 441.2C651.5 441.69 645.04 443.26 641.9 444.13C638.76 445 637.18 446.13 634.58 446.44C631.98 446.74 629.68 446.18 626.29 445.97C622.91 445.76 617.5 445.69 614.26 445.17C611.02 444.66 609.5 444.21 606.86 442.88C604.22 441.56 601.14 438.96 598.44 437.22C595.75 435.48 592.94 434.52 590.68 432.42C588.42 430.33 586.88 427.13 584.88 424.65C582.89 422.16 580.53 420.03 578.72 417.5C576.91 414.96 575.34 412.3 574.03 409.43C572.72 406.55 571.68 403.03 570.85 400.26C570.02 397.48 569.58 395.32 569.05 392.8C568.52 390.28 568.06 387.31 567.68 385.12C567.3 382.93 566.77 382.45 566.77 379.65C566.76 376.85 567.25 371.46 567.64 368.32C568.03 365.19 568.08 363.47 569.1 360.83C570.13 358.2 572.04 355.07 573.81 352.52C575.59 349.97 577.44 347.44 579.76 345.52C582.07 343.61 585.16 342.21 587.68 341.01C590.21 339.81 592.63 339.27 594.92 338.33C597.21 337.39 598.95 336.66 601.43 335.37C603.92 334.07 607.04 331.91 609.82 330.56C612.6 329.21 615.39 328.19 618.1 327.26C620.82 326.32 623.51 325.56 626.11 324.97C628.71 324.38 631.04 323.67 633.7 323.74C636.37 323.8 639.36 325.02 642.12 325.37C644.88 325.72 647.62 325.44 650.27 325.83C652.92 326.23 655.52 326.84 658.02 327.73C660.52 328.62 663.03 330.16 665.27 331.18C667.51 332.19 669.39 332.49 671.48 333.81C673.56 335.13 675.79 337.25 677.78 339.08C679.77 340.92 681.7 342.94 683.41 344.84C685.13 346.74 686.74 348.67 688.07 350.47C689.41 352.27 690.46 353.77 691.43 355.64C692.4 357.51 693.22 359.86 693.87 361.67C694.52 363.49 695.09 365.72 695.34 366.53" fill="none" stroke="#dbd3e3" stroke-width="1.37" stroke-opacity="0.57"/>
<path d="M654.98 444.4C653.06 444.98 646.9 446.96 643.48 447.87C640.06 448.78 637.37 449.51 634.45 449.84C631.53 450.18 629.4 450.14 625.95 449.89C622.51 449.64 617.15 449.11 613.77 448.35C610.39 447.6 608.47 446.65 605.69 445.37C602.9 444.09 599.88 442.48 597.05 440.68C594.22 438.87 591.13 436.81 588.71 434.54C586.29 432.27 584.63 429.64 582.55 427.08C580.46 424.51 578.11 422.06 576.2 419.15C574.29 416.24 572.44 412.58 571.11 409.63C569.79 406.68 569.19 404.14 568.25 401.45C567.31 398.77 566.14 396.41 565.45 393.52C564.77 390.64 564.59 386.68 564.15 384.14C563.71 381.61 562.91 381.2 562.81 378.32C562.71 375.45 562.88 370.12 563.56 366.87C564.25 363.61 565.73 361.53 566.91 358.8C568.09 356.07 568.84 352.98 570.64 350.47C572.44 347.95 575.34 345.59 577.7 343.7C580.07 341.8 582.39 340.33 584.84 339.08C587.29 337.83 589.96 337.32 592.41 336.18C594.85 335.04 596.94 333.63 599.52 332.22C602.09 330.81 605 329.07 607.87 327.7C610.74 326.33 613.7 325.13 616.71 324.02C619.72 322.91 622.95 321.61 625.91 321.02C628.88 320.43 631.72 320.32 634.5 320.48C637.29 320.64 639.82 321.6 642.62 321.98C645.43 322.36 648.61 322.31 651.33 322.77C654.05 323.22 656.28 323.93 658.92 324.71C661.57 325.49 664.69 326.27 667.21 327.44C669.74 328.62 671.93 330.16 674.07 331.74C676.2 333.32 677.88 335.01 680.01 336.94C682.13 338.86 685.02 341.47 686.8 343.28C688.58 345.09 689.45 345.96 690.68 347.8C691.91 349.65 692.96 352.15 694.19 354.35C695.43 356.56 697.35 359.3 698.09 361.04C698.83 362.78 698.55 364.16 698.64 364.79" fill="none" stroke="#cbbfd8" stroke-width="1.35" stroke-opacity="0.53"/>
<path d="M656.48 447.75C654.32 448.32 647.17 450.25 643.54 451.18C639.91 452.11 637.7 452.9 634.68 453.32C631.65 453.74 629.11 453.86 625.4 453.7C621.7 453.55 615.93 453.2 612.43 452.39C608.92 451.58 607.26 450.36 604.4 448.83C601.54 447.31 598.16 445.08 595.25 443.23C592.33 441.39 589.55 440.08 586.89 437.76C584.23 435.45 581.58 432.23 579.26 429.34C576.95 426.45 574.84 423.41 573 420.44C571.17 417.46 569.71 414.42 568.27 411.49C566.82 408.56 565.51 405.81 564.32 402.84C563.13 399.87 561.85 396.68 561.14 393.68C560.42 390.67 560.31 387.29 560.02 384.8C559.74 382.31 559.48 381.86 559.44 378.75C559.41 375.64 559.31 369.65 559.83 366.13C560.35 362.6 561.25 360.37 562.57 357.58C563.9 354.79 565.85 351.97 567.78 349.38C569.72 346.78 571.67 344.23 574.18 342.02C576.68 339.81 579.98 337.63 582.84 336.12C585.69 334.61 588.81 334.25 591.3 332.96C593.79 331.68 595.22 329.87 597.79 328.41C600.36 326.95 603.65 325.54 606.74 324.21C609.82 322.87 613.14 321.51 616.3 320.4C619.47 319.3 622.72 318.09 625.72 317.56C628.72 317.04 631.4 317.19 634.31 317.26C637.22 317.32 640.27 317.65 643.16 317.95C646.04 318.25 648.77 318.41 651.64 319.04C654.51 319.67 657.47 320.86 660.36 321.73C663.25 322.59 666.42 323.2 668.95 324.23C671.49 325.26 673.24 326.21 675.59 327.91C677.94 329.61 680.85 332.18 683.07 334.41C685.28 336.63 687.15 339.25 688.88 341.26C690.61 343.26 691.96 344.43 693.46 346.42C694.97 348.4 696.66 350.99 697.91 353.16C699.16 355.33 700.33 357.6 700.96 359.46C701.6 361.31 701.58 363.49 701.7 364.3" fill="none" stroke="#f3f0f6" stroke-width="1.27" stroke-opacity="0.57"/>
<path d="M583 385 L584 371 L589 361 L598 354.5 L609 350 L621 344.5 L633 342 L645 342.5 L657 345.5 L667 351.5 L675 359 L679 367 L682 380 L682 410 L670 420 L650 425.5 L633 428.5 L618 428.5 L606 422 L596 413 L589 403 L585 394Z" fill="#fcf7fb"/>
<path d="M645.3 399.2a18 23.1 0 1 0 36 0a18 23.1 0 1 0 -36 0Z" fill="#daa8d4"/>
<path d="M661 388 Q663 396 662 404 L663.5 404 Q664.5 396 662.5 388 Z" fill="#ead2e8"/>
<path d="M680.6 375 L681 384 M648.3 427 L656.2 424" stroke="#6b6478" stroke-width="1.2" fill="none"/>
<path d="M651.39 343.06h1.7v1.7h-1.7zM666.19 352.67h1.7v1.7h-1.7z" fill="#211e41"/>
<path d="M640.29 339.86h1.7v1.7h-1.7zM645.84 343.06h1.7v1.7h-1.7zM662.49 349.47h1.7v1.7h-1.7zM676.37 363.89h1.7v1.7h-1.7zM677.29 368.69h1.7v1.7h-1.7zM586.64 394.33h1.7v1.7h-1.7zM601.44 419.96h1.7v1.7h-1.7zM638.44 426.37h1.7v1.7h-1.7z" fill="#2a254f"/>
<path d="M673.59 359.08h1.7v1.7h-1.7zM592.19 403.94h1.7v1.7h-1.7zM631.97 427.97h1.7v1.7h-1.7z" fill="#42225e"/>
<path d="M633.82 341.46h1.7v1.7h-1.7zM660.64 343.06h1.7v1.7h-1.7zM614.39 346.26h1.7v1.7h-1.7zM662.49 346.26h1.7v1.7h-1.7zM607.92 347.87h1.7v1.7h-1.7zM603.29 349.47h1.7v1.7h-1.7zM596.82 351.07h1.7v1.7h-1.7zM600.52 351.07h1.7v1.7h-1.7zM602.37 351.07h1.7v1.7h-1.7zM597.74 352.67h1.7v1.7h-1.7zM593.12 354.27h1.7v1.7h-1.7zM669.89 355.88h1.7v1.7h-1.7zM590.34 359.08h1.7v1.7h-1.7zM587.57 363.89h1.7v1.7h-1.7zM674.52 363.89h1.7v1.7h-1.7zM580.17 367.09h1.7v1.7h-1.7zM676.37 367.09h1.7v1.7h-1.7zM680.07 367.09h1.7v1.7h-1.7zM679.14 371.9h1.7v1.7h-1.7zM580.17 376.7h1.7v1.7h-1.7zM582.94 384.71h1.7v1.7h-1.7zM583.87 392.73h1.7v1.7h-1.7zM588.49 400.74h1.7v1.7h-1.7zM594.04 407.14h1.7v1.7h-1.7zM594.97 415.15h1.7v1.7h-1.7zM597.74 416.76h1.7v1.7h-1.7zM603.29 419.96h1.7v1.7h-1.7zM641.22 424.77h1.7v1.7h-1.7zM616.24 426.37h1.7v1.7h-1.7zM613.47 427.97h1.7v1.7h-1.7zM626.42 427.97h1.7v1.7h-1.7zM644.92 427.97h1.7v1.7h-1.7z" fill="#5c1d66"/>
<path d="M632.89 336.65h1.7v1.7h-1.7zM637.52 338.25h1.7v1.7h-1.7zM638.44 339.86h1.7v1.7h-1.7zM642.14 339.86h1.7v1.7h-1.7zM647.69 339.86h1.7v1.7h-1.7zM630.12 341.46h1.7v1.7h-1.7zM637.52 341.46h1.7v1.7h-1.7zM639.37 341.46h1.7v1.7h-1.7zM612.54 343.06h1.7v1.7h-1.7zM614.39 343.06h1.7v1.7h-1.7zM616.24 343.06h1.7v1.7h-1.7zM621.79 343.06h1.7v1.7h-1.7zM655.09 343.06h1.7v1.7h-1.7zM656.94 343.06h1.7v1.7h-1.7zM657.87 344.66h1.7v1.7h-1.7zM616.24 346.26h1.7v1.7h-1.7zM606.07 347.87h1.7v1.7h-1.7zM609.77 347.87h1.7v1.7h-1.7zM601.44 349.47h1.7v1.7h-1.7zM605.14 349.47h1.7v1.7h-1.7zM610.69 349.47h1.7v1.7h-1.7zM594.97 351.07h1.7v1.7h-1.7zM668.04 352.67h1.7v1.7h-1.7zM671.74 352.67h1.7v1.7h-1.7zM670.82 354.27h1.7v1.7h-1.7zM594.04 355.88h1.7v1.7h-1.7zM595.89 355.88h1.7v1.7h-1.7zM587.57 357.48h1.7v1.7h-1.7zM591.27 357.48h1.7v1.7h-1.7zM670.82 357.48h1.7v1.7h-1.7zM675.44 359.08h1.7v1.7h-1.7zM586.64 362.29h1.7v1.7h-1.7zM588.49 362.29h1.7v1.7h-1.7zM673.59 362.29h1.7v1.7h-1.7zM675.44 362.29h1.7v1.7h-1.7zM582.02 363.89h1.7v1.7h-1.7zM583.87 367.09h1.7v1.7h-1.7zM580.17 373.5h1.7v1.7h-1.7zM581.09 378.31h1.7v1.7h-1.7zM581.09 391.12h1.7v1.7h-1.7zM589.42 402.34h1.7v1.7h-1.7zM590.34 410.35h1.7v1.7h-1.7zM595.89 413.55h1.7v1.7h-1.7zM602.37 421.56h1.7v1.7h-1.7zM605.14 423.17h1.7v1.7h-1.7zM604.22 424.77h1.7v1.7h-1.7zM612.54 426.37h1.7v1.7h-1.7zM640.29 426.37h1.7v1.7h-1.7zM642.14 426.37h1.7v1.7h-1.7zM611.62 427.97h1.7v1.7h-1.7zM619.02 427.97h1.7v1.7h-1.7zM620.87 427.97h1.7v1.7h-1.7zM624.57 427.97h1.7v1.7h-1.7zM639.37 427.97h1.7v1.7h-1.7zM631.04 429.57h1.7v1.7h-1.7zM626.42 431.18h1.7v1.7h-1.7zM631.97 431.18h1.7v1.7h-1.7z" fill="#721d66"/>
<path d="M629.19 339.86h1.7v1.7h-1.7zM649.54 339.86h1.7v1.7h-1.7zM626.42 341.46h1.7v1.7h-1.7zM635.67 341.46h1.7v1.7h-1.7zM618.09 343.06h1.7v1.7h-1.7zM611.62 344.66h1.7v1.7h-1.7zM620.87 344.66h1.7v1.7h-1.7zM659.72 344.66h1.7v1.7h-1.7zM667.12 347.87h1.7v1.7h-1.7zM668.97 354.27h1.7v1.7h-1.7zM671.74 359.08h1.7v1.7h-1.7zM672.67 360.68h1.7v1.7h-1.7zM584.79 362.29h1.7v1.7h-1.7zM583.87 363.89h1.7v1.7h-1.7zM584.79 368.69h1.7v1.7h-1.7zM581.09 371.9h1.7v1.7h-1.7zM586.64 403.94h1.7v1.7h-1.7zM590.34 407.14h1.7v1.7h-1.7zM602.37 418.36h1.7v1.7h-1.7zM643.07 424.77h1.7v1.7h-1.7zM614.39 426.37h1.7v1.7h-1.7zM628.27 427.97h1.7v1.7h-1.7zM637.52 427.97h1.7v1.7h-1.7zM640.29 429.57h1.7v1.7h-1.7zM620.87 431.18h1.7v1.7h-1.7zM630.12 431.18h1.7v1.7h-1.7zM633.82 431.18h1.7v1.7h-1.7z" fill="#8a2060"/>
<path d="M643.07 338.25h1.7v1.7h-1.7zM618.09 339.86h1.7v1.7h-1.7zM631.04 339.86h1.7v1.7h-1.7zM622.72 341.46h1.7v1.7h-1.7zM628.27 341.46h1.7v1.7h-1.7zM641.22 341.46h1.7v1.7h-1.7zM648.62 341.46h1.7v1.7h-1.7zM619.94 343.06h1.7v1.7h-1.7zM625.49 343.06h1.7v1.7h-1.7zM647.69 343.06h1.7v1.7h-1.7zM653.24 343.06h1.7v1.7h-1.7zM615.32 344.66h1.7v1.7h-1.7zM654.17 344.66h1.7v1.7h-1.7zM612.54 346.26h1.7v1.7h-1.7zM611.62 347.87h1.7v1.7h-1.7zM613.47 347.87h1.7v1.7h-1.7zM661.57 347.87h1.7v1.7h-1.7zM665.27 347.87h1.7v1.7h-1.7zM608.84 349.47h1.7v1.7h-1.7zM666.19 349.47h1.7v1.7h-1.7zM667.12 351.07h1.7v1.7h-1.7zM668.97 351.07h1.7v1.7h-1.7zM669.89 352.67h1.7v1.7h-1.7zM598.67 354.27h1.7v1.7h-1.7zM583.87 360.68h1.7v1.7h-1.7zM674.52 360.68h1.7v1.7h-1.7zM676.37 360.68h1.7v1.7h-1.7zM677.29 362.29h1.7v1.7h-1.7zM675.44 365.49h1.7v1.7h-1.7zM585.72 367.09h1.7v1.7h-1.7zM678.22 370.3h1.7v1.7h-1.7zM582.94 381.51h1.7v1.7h-1.7zM580.17 383.11h1.7v1.7h-1.7zM582.02 383.11h1.7v1.7h-1.7zM583.87 383.11h1.7v1.7h-1.7zM584.79 384.71h1.7v1.7h-1.7zM584.79 387.92h1.7v1.7h-1.7zM583.87 389.52h1.7v1.7h-1.7zM593.12 408.75h1.7v1.7h-1.7zM595.89 410.35h1.7v1.7h-1.7zM597.74 413.55h1.7v1.7h-1.7zM596.82 415.15h1.7v1.7h-1.7zM597.74 419.96h1.7v1.7h-1.7zM605.14 419.96h1.7v1.7h-1.7zM600.52 421.56h1.7v1.7h-1.7zM607.92 421.56h1.7v1.7h-1.7zM608.84 423.17h1.7v1.7h-1.7zM608.84 426.37h1.7v1.7h-1.7zM632.89 426.37h1.7v1.7h-1.7zM643.99 426.37h1.7v1.7h-1.7zM645.84 426.37h1.7v1.7h-1.7zM622.72 427.97h1.7v1.7h-1.7zM646.77 427.97h1.7v1.7h-1.7zM614.39 429.57h1.7v1.7h-1.7zM629.19 429.57h1.7v1.7h-1.7zM632.89 429.57h1.7v1.7h-1.7zM628.27 431.18h1.7v1.7h-1.7z" fill="#9d2755"/>
<path d="M634.74 336.65h1.7v1.7h-1.7zM626.42 338.25h1.7v1.7h-1.7zM633.82 338.25h1.7v1.7h-1.7zM644.92 338.25h1.7v1.7h-1.7zM643.99 339.86h1.7v1.7h-1.7zM656.02 341.46h1.7v1.7h-1.7zM623.64 343.06h1.7v1.7h-1.7zM613.47 344.66h1.7v1.7h-1.7zM656.02 344.66h1.7v1.7h-1.7zM661.57 344.66h1.7v1.7h-1.7zM610.69 346.26h1.7v1.7h-1.7zM606.99 349.47h1.7v1.7h-1.7zM664.34 349.47h1.7v1.7h-1.7zM607.92 351.07h1.7v1.7h-1.7zM665.27 351.07h1.7v1.7h-1.7zM590.34 352.67h1.7v1.7h-1.7zM599.59 352.67h1.7v1.7h-1.7zM672.67 357.48h1.7v1.7h-1.7zM581.09 365.49h1.7v1.7h-1.7zM582.94 365.49h1.7v1.7h-1.7zM581.09 368.69h1.7v1.7h-1.7zM582.94 368.69h1.7v1.7h-1.7zM583.87 370.3h1.7v1.7h-1.7zM676.37 370.3h1.7v1.7h-1.7zM680.07 370.3h1.7v1.7h-1.7zM582.94 371.9h1.7v1.7h-1.7zM677.29 371.9h1.7v1.7h-1.7zM582.02 373.5h1.7v1.7h-1.7zM581.09 375.1h1.7v1.7h-1.7zM583.87 379.91h1.7v1.7h-1.7zM585.72 389.52h1.7v1.7h-1.7zM582.94 394.33h1.7v1.7h-1.7zM588.49 397.53h1.7v1.7h-1.7zM587.57 399.13h1.7v1.7h-1.7zM587.57 402.34h1.7v1.7h-1.7zM591.27 402.34h1.7v1.7h-1.7zM590.34 403.94h1.7v1.7h-1.7zM593.12 405.54h1.7v1.7h-1.7zM589.42 408.75h1.7v1.7h-1.7zM594.04 410.35h1.7v1.7h-1.7zM595.89 416.76h1.7v1.7h-1.7zM600.52 418.36h1.7v1.7h-1.7zM613.47 424.77h1.7v1.7h-1.7zM610.69 426.37h1.7v1.7h-1.7zM634.74 426.37h1.7v1.7h-1.7zM636.59 426.37h1.7v1.7h-1.7zM617.17 427.97h1.7v1.7h-1.7zM633.82 427.97h1.7v1.7h-1.7zM635.67 427.97h1.7v1.7h-1.7zM643.07 427.97h1.7v1.7h-1.7zM619.94 429.57h1.7v1.7h-1.7zM617.17 431.18h1.7v1.7h-1.7zM635.67 431.18h1.7v1.7h-1.7z" fill="#b2304a"/>
<path d="M623.64 339.86h1.7v1.7h-1.7zM615.32 341.46h1.7v1.7h-1.7zM619.02 341.46h1.7v1.7h-1.7zM624.57 341.46h1.7v1.7h-1.7zM644.92 341.46h1.7v1.7h-1.7zM650.47 341.46h1.7v1.7h-1.7zM649.54 343.06h1.7v1.7h-1.7zM658.79 343.06h1.7v1.7h-1.7zM609.77 344.66h1.7v1.7h-1.7zM664.34 346.26h1.7v1.7h-1.7zM659.72 347.87h1.7v1.7h-1.7zM598.67 351.07h1.7v1.7h-1.7zM670.82 351.07h1.7v1.7h-1.7zM592.19 352.67h1.7v1.7h-1.7zM595.89 352.67h1.7v1.7h-1.7zM591.27 354.27h1.7v1.7h-1.7zM590.34 355.88h1.7v1.7h-1.7zM593.12 357.48h1.7v1.7h-1.7zM674.52 357.48h1.7v1.7h-1.7zM585.72 360.68h1.7v1.7h-1.7zM587.57 360.68h1.7v1.7h-1.7zM584.79 365.49h1.7v1.7h-1.7zM677.29 365.49h1.7v1.7h-1.7zM582.02 367.09h1.7v1.7h-1.7zM680.99 368.69h1.7v1.7h-1.7zM582.02 376.7h1.7v1.7h-1.7zM582.02 379.91h1.7v1.7h-1.7zM583.87 386.32h1.7v1.7h-1.7zM587.57 395.93h1.7v1.7h-1.7zM586.64 397.53h1.7v1.7h-1.7zM596.82 411.95h1.7v1.7h-1.7zM598.67 418.36h1.7v1.7h-1.7zM611.62 424.77h1.7v1.7h-1.7zM648.62 424.77h1.7v1.7h-1.7zM630.12 427.97h1.7v1.7h-1.7zM612.54 429.57h1.7v1.7h-1.7zM615.32 431.18h1.7v1.7h-1.7z" fill="#c53f3f"/>
<path d="M641.22 338.25h1.7v1.7h-1.7zM619.94 339.86h1.7v1.7h-1.7zM625.49 339.86h1.7v1.7h-1.7zM634.74 339.86h1.7v1.7h-1.7zM636.59 339.86h1.7v1.7h-1.7zM620.87 341.46h1.7v1.7h-1.7zM652.32 341.46h1.7v1.7h-1.7zM657.87 341.46h1.7v1.7h-1.7zM606.99 346.26h1.7v1.7h-1.7zM597.74 349.47h1.7v1.7h-1.7zM668.04 349.47h1.7v1.7h-1.7zM604.22 351.07h1.7v1.7h-1.7zM605.14 352.67h1.7v1.7h-1.7zM594.97 354.27h1.7v1.7h-1.7zM586.64 359.08h1.7v1.7h-1.7zM678.22 360.68h1.7v1.7h-1.7zM680.07 363.89h1.7v1.7h-1.7zM680.99 365.49h1.7v1.7h-1.7zM583.87 373.5h1.7v1.7h-1.7zM583.87 376.7h1.7v1.7h-1.7zM580.17 379.91h1.7v1.7h-1.7zM581.09 381.51h1.7v1.7h-1.7zM582.02 386.32h1.7v1.7h-1.7zM585.72 399.13h1.7v1.7h-1.7zM588.49 403.94h1.7v1.7h-1.7zM592.19 407.14h1.7v1.7h-1.7zM594.97 408.75h1.7v1.7h-1.7zM599.59 416.76h1.7v1.7h-1.7zM604.22 421.56h1.7v1.7h-1.7zM610.69 423.17h1.7v1.7h-1.7zM644.92 424.77h1.7v1.7h-1.7zM615.32 427.97h1.7v1.7h-1.7zM634.74 429.57h1.7v1.7h-1.7zM624.57 431.18h1.7v1.7h-1.7z" fill="#d75232"/>
<path d="M645.84 339.86h1.7v1.7h-1.7zM631.97 341.46h1.7v1.7h-1.7zM643.07 341.46h1.7v1.7h-1.7zM652.32 344.66h1.7v1.7h-1.7zM663.42 344.66h1.7v1.7h-1.7zM656.94 346.26h1.7v1.7h-1.7zM606.07 351.07h1.7v1.7h-1.7zM594.04 352.67h1.7v1.7h-1.7zM601.44 352.67h1.7v1.7h-1.7zM667.12 354.27h1.7v1.7h-1.7zM671.74 355.88h1.7v1.7h-1.7zM679.14 362.29h1.7v1.7h-1.7zM679.14 365.49h1.7v1.7h-1.7zM679.14 368.69h1.7v1.7h-1.7zM582.02 370.3h1.7v1.7h-1.7zM582.94 378.31h1.7v1.7h-1.7zM580.17 386.32h1.7v1.7h-1.7zM581.09 387.92h1.7v1.7h-1.7zM582.94 387.92h1.7v1.7h-1.7zM582.02 389.52h1.7v1.7h-1.7zM585.72 392.73h1.7v1.7h-1.7zM583.87 395.93h1.7v1.7h-1.7zM585.72 395.93h1.7v1.7h-1.7zM584.79 397.53h1.7v1.7h-1.7zM590.34 400.74h1.7v1.7h-1.7zM587.57 405.54h1.7v1.7h-1.7zM589.42 405.54h1.7v1.7h-1.7zM591.27 405.54h1.7v1.7h-1.7zM591.27 408.75h1.7v1.7h-1.7zM594.97 411.95h1.7v1.7h-1.7zM600.52 415.15h1.7v1.7h-1.7zM606.99 423.17h1.7v1.7h-1.7zM606.07 424.77h1.7v1.7h-1.7zM607.92 424.77h1.7v1.7h-1.7zM621.79 429.57h1.7v1.7h-1.7zM623.64 429.57h1.7v1.7h-1.7zM642.14 429.57h1.7v1.7h-1.7z" fill="#e26429"/>
<path d="M628.27 338.25h1.7v1.7h-1.7zM639.37 338.25h1.7v1.7h-1.7zM651.39 339.86h1.7v1.7h-1.7zM654.17 341.46h1.7v1.7h-1.7zM608.84 346.26h1.7v1.7h-1.7zM672.67 354.27h1.7v1.7h-1.7zM585.72 357.48h1.7v1.7h-1.7zM582.94 362.29h1.7v1.7h-1.7zM579.24 375.1h1.7v1.7h-1.7zM586.64 400.74h1.7v1.7h-1.7zM585.72 402.34h1.7v1.7h-1.7zM599.59 419.96h1.7v1.7h-1.7zM645.84 423.17h1.7v1.7h-1.7zM647.69 426.37h1.7v1.7h-1.7zM619.02 431.18h1.7v1.7h-1.7zM622.72 431.18h1.7v1.7h-1.7z" fill="#e7dd5e"/>
<path d="M631.04 336.65h1.7v1.7h-1.7zM630.12 338.25h1.7v1.7h-1.7zM631.97 338.25h1.7v1.7h-1.7zM646.77 338.25h1.7v1.7h-1.7zM653.24 339.86h1.7v1.7h-1.7zM617.17 344.66h1.7v1.7h-1.7zM666.19 346.26h1.7v1.7h-1.7zM663.42 347.87h1.7v1.7h-1.7zM675.44 355.88h1.7v1.7h-1.7zM589.42 357.48h1.7v1.7h-1.7zM584.79 359.08h1.7v1.7h-1.7zM588.49 359.08h1.7v1.7h-1.7zM585.72 363.89h1.7v1.7h-1.7zM678.22 363.89h1.7v1.7h-1.7zM586.64 365.49h1.7v1.7h-1.7zM678.22 367.09h1.7v1.7h-1.7zM580.17 370.3h1.7v1.7h-1.7zM579.24 371.9h1.7v1.7h-1.7zM582.94 375.1h1.7v1.7h-1.7zM579.24 381.51h1.7v1.7h-1.7zM581.09 384.71h1.7v1.7h-1.7zM582.94 391.12h1.7v1.7h-1.7zM582.02 392.73h1.7v1.7h-1.7zM584.79 394.33h1.7v1.7h-1.7zM589.42 399.13h1.7v1.7h-1.7zM591.27 411.95h1.7v1.7h-1.7zM593.12 411.95h1.7v1.7h-1.7zM606.07 421.56h1.7v1.7h-1.7zM601.44 423.17h1.7v1.7h-1.7zM603.29 423.17h1.7v1.7h-1.7zM616.24 429.57h1.7v1.7h-1.7z" fill="#ea7521"/>
<path d="M648.62 338.25h1.7v1.7h-1.7zM627.34 339.86h1.7v1.7h-1.7zM632.89 339.86h1.7v1.7h-1.7zM617.17 341.46h1.7v1.7h-1.7zM619.02 344.66h1.7v1.7h-1.7zM660.64 346.26h1.7v1.7h-1.7zM604.22 347.87h1.7v1.7h-1.7zM599.59 349.47h1.7v1.7h-1.7zM596.82 354.27h1.7v1.7h-1.7zM588.49 355.88h1.7v1.7h-1.7zM592.19 355.88h1.7v1.7h-1.7zM579.24 378.31h1.7v1.7h-1.7zM586.64 391.12h1.7v1.7h-1.7zM584.79 400.74h1.7v1.7h-1.7zM588.49 407.14h1.7v1.7h-1.7zM592.19 410.35h1.7v1.7h-1.7zM598.67 415.15h1.7v1.7h-1.7zM641.22 427.97h1.7v1.7h-1.7zM636.59 429.57h1.7v1.7h-1.7z" fill="#ebca41"/>
<path d="M622.72 338.25h1.7v1.7h-1.7zM621.79 339.86h1.7v1.7h-1.7zM602.37 347.87h1.7v1.7h-1.7zM674.52 354.27h1.7v1.7h-1.7zM673.59 355.88h1.7v1.7h-1.7zM676.37 357.48h1.7v1.7h-1.7zM594.04 413.55h1.7v1.7h-1.7zM606.99 426.37h1.7v1.7h-1.7zM609.77 427.97h1.7v1.7h-1.7zM638.44 429.57h1.7v1.7h-1.7z" fill="#ef881a"/>
<path d="M646.77 341.46h1.7v1.7h-1.7zM589.42 360.68h1.7v1.7h-1.7zM646.77 424.77h1.7v1.7h-1.7zM625.49 429.57h1.7v1.7h-1.7z" fill="#f09e20"/>
<path d="M624.57 338.25h1.7v1.7h-1.7zM635.67 338.25h1.7v1.7h-1.7zM658.79 346.26h1.7v1.7h-1.7zM603.29 352.67h1.7v1.7h-1.7zM589.42 354.27h1.7v1.7h-1.7zM677.29 359.08h1.7v1.7h-1.7zM584.79 391.12h1.7v1.7h-1.7zM601.44 416.76h1.7v1.7h-1.7zM596.82 418.36h1.7v1.7h-1.7zM609.77 424.77h1.7v1.7h-1.7zM618.09 429.57h1.7v1.7h-1.7zM627.34 429.57h1.7v1.7h-1.7z" fill="#f0b428"/>
</g>
<line x1="576.3" x2="594.5" y1="435.6" y2="435.6" stroke="#231f20" stroke-width="1.3"/>
<text x="415.7" y="264.8" font-size="9.7" text-anchor="middle" font-weight="normal" fill="#231f20" >PCW9</text>
<text x="514.8" y="264.8" font-size="9.7" text-anchor="middle" font-weight="normal" fill="#231f20" >PCW12 early</text>
<text x="628.9" y="264.8" font-size="9.7" text-anchor="middle" font-weight="normal" fill="#231f20" >PCW12 late</text>
<text x="416" y="333.9" font-size="9.7" text-anchor="middle" font-weight="normal" fill="#231f20" >PCW14</text>
<text x="515" y="333.9" font-size="9.7" text-anchor="middle" font-weight="normal" fill="#231f20" >PCW16</text>
<text x="629.7" y="333.9" font-size="9.7" text-anchor="middle" font-weight="normal" fill="#231f20" >PCW17</text>
<text x="461.5" y="453.7" font-size="9.7" text-anchor="start" font-weight="normal" fill="#231f20" >Avg. expr.</text>
<defs><linearGradient id="infcb" x1="0" y1="0" x2="1" y2="0"><stop offset="0.00" stop-color="#050312"/><stop offset="0.10" stop-color="#191632"/><stop offset="0.22" stop-color="#2d2855"/><stop offset="0.27" stop-color="#501e64"/><stop offset="0.33" stop-color="#691c69"/><stop offset="0.40" stop-color="#8a2060"/><stop offset="0.47" stop-color="#a52a50"/><stop offset="0.53" stop-color="#be3744"/><stop offset="0.60" stop-color="#d75232"/><stop offset="0.68" stop-color="#e86e23"/><stop offset="0.76" stop-color="#f08c19"/><stop offset="0.85" stop-color="#f0b428"/><stop offset="0.93" stop-color="#e8d750"/><stop offset="1.00" stop-color="#e4ec82"/></linearGradient></defs>
<rect x="510.8" y="444.4" width="75.0" height="10.8" fill="url(#infcb)"/>
<line x1="529.55" x2="529.55" y1="444.4" y2="446.4" stroke="#fff" stroke-width="0.6"/>
<line x1="529.55" x2="529.55" y1="453.2" y2="455.2" stroke="#fff" stroke-width="0.6"/>
<line x1="547.9" x2="547.9" y1="444.4" y2="446.4" stroke="#fff" stroke-width="0.6"/>
<line x1="547.9" x2="547.9" y1="453.2" y2="455.2" stroke="#fff" stroke-width="0.6"/>
<line x1="566.25" x2="566.25" y1="444.4" y2="446.4" stroke="#fff" stroke-width="0.6"/>
<line x1="566.25" x2="566.25" y1="453.2" y2="455.2" stroke="#fff" stroke-width="0.6"/>
<line x1="584.6" x2="584.6" y1="444.4" y2="446.4" stroke="#fff" stroke-width="0.6"/>
<line x1="584.6" x2="584.6" y1="453.2" y2="455.2" stroke="#fff" stroke-width="0.6"/>
<text x="511.8" y="464.2" font-size="9.7" text-anchor="middle" font-weight="normal" fill="#231f20" >0.0</text>
<text x="530.1" y="464.2" font-size="9.7" text-anchor="middle" font-weight="normal" fill="#231f20" >0.2</text>
<text x="548.4" y="464.2" font-size="9.7" text-anchor="middle" font-weight="normal" fill="#231f20" >0.4</text>
<text x="566.7" y="464.2" font-size="9.7" text-anchor="middle" font-weight="normal" fill="#231f20" >0.6</text>
<text x="585" y="464.2" font-size="9.7" text-anchor="middle" font-weight="normal" fill="#231f20" >0.8</text>
</svg>
</body></html>
